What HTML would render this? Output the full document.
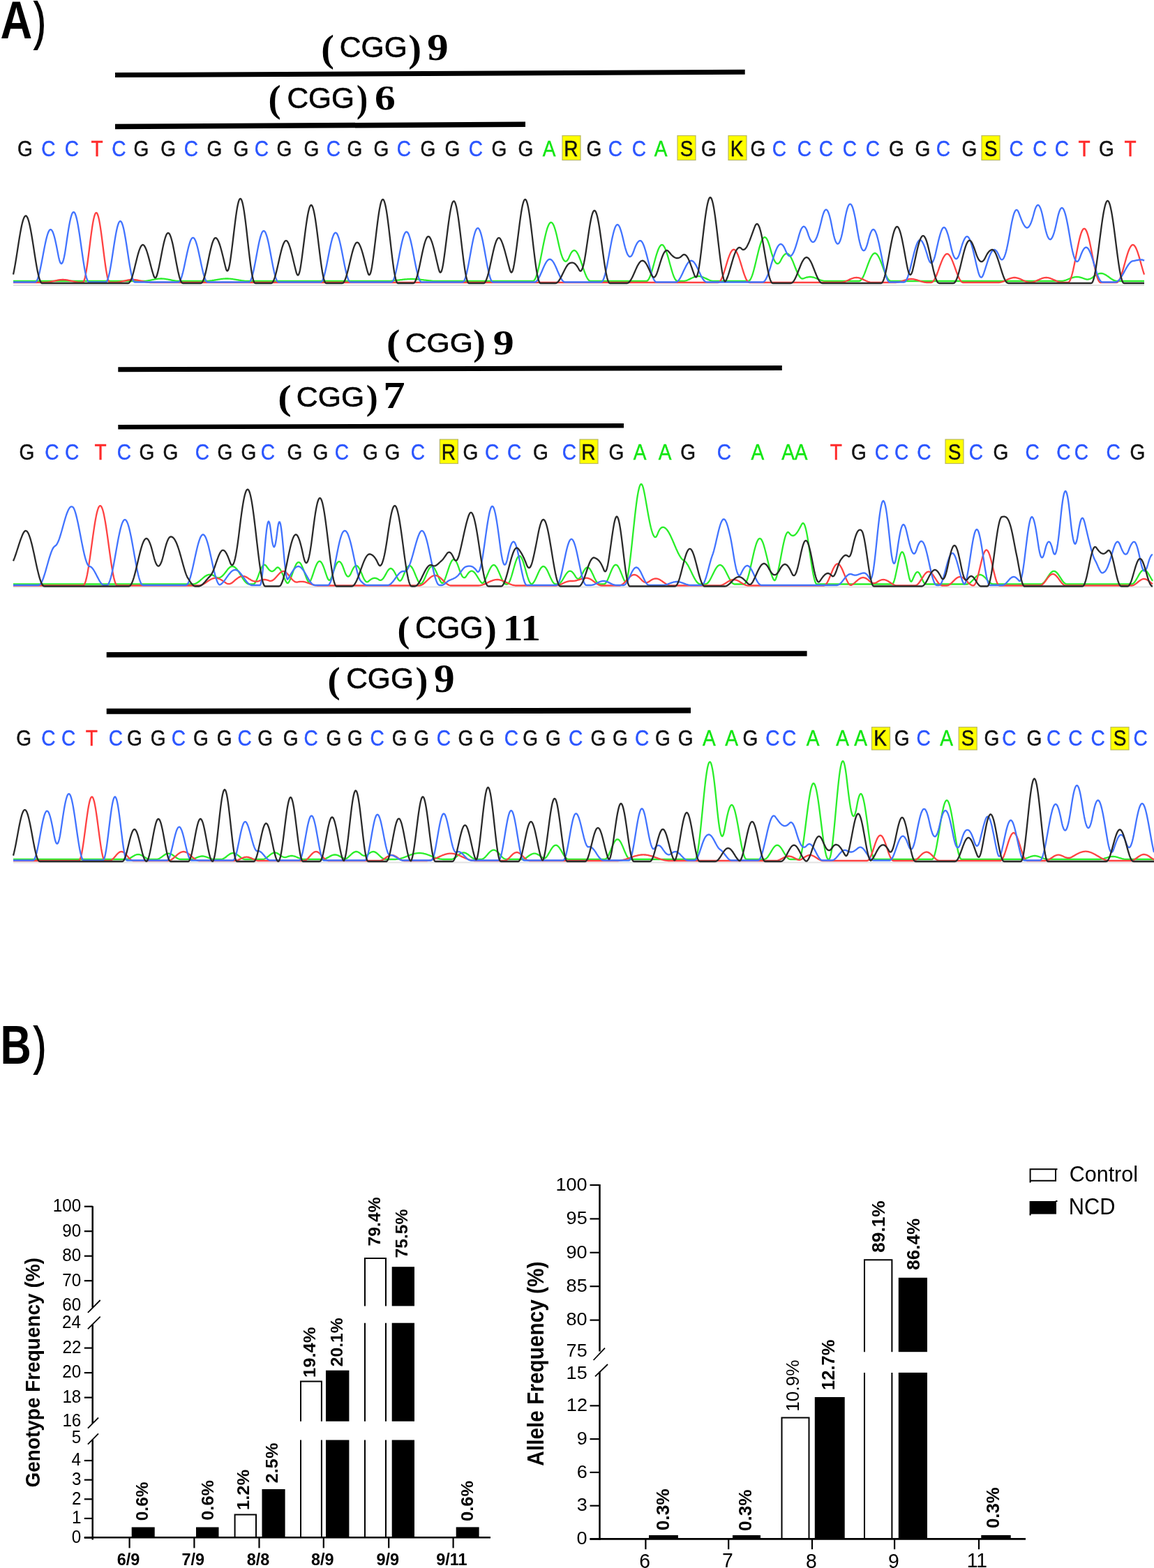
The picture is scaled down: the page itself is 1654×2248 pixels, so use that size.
<!DOCTYPE html><html><head><meta charset="utf-8"><title>Figure</title><style>html,body{margin:0;padding:0;background:#fff}svg{display:block}</style></head><body>
<svg width="1654" height="2248" viewBox="0 0 1654 2248">
<rect width="1654" height="2248" fill="#fff"/>
<text transform="translate(0.42,55.00) scale(0.8381,1)" font-family='"Liberation Sans", Arial, sans-serif' font-weight="bold" font-size="75.58" fill="#000">A</text>
<text transform="translate(48.71,55.67) scale(0.6722,1)" font-family='"Liberation Sans", Arial, sans-serif' font-weight="normal" font-size="74.06" fill="#000" stroke="#000" stroke-width="2">)</text>
<text transform="translate(0.50,1525.00) scale(0.7813,1)" font-family='"Liberation Sans", Arial, sans-serif' font-weight="bold" font-size="78.49" fill="#000">B</text>
<text transform="translate(48.50,1524.67) scale(0.7028,1)" font-family='"Liberation Sans", Arial, sans-serif' font-weight="normal" font-size="74.06" fill="#000" stroke="#000" stroke-width="2">)</text>
<text transform="translate(460.14,87.50) scale(1.0375,1)" font-family='"Liberation Serif", "Times New Roman", serif' font-weight="bold" font-size="54.04" fill="#000">(</text>
<text transform="translate(486.84,81.59) scale(1.0145,1)" font-family='"Liberation Sans", Arial, sans-serif' font-weight="normal" font-size="41.95" fill="#000" stroke="#000" stroke-width="0.6">CGG</text>
<text transform="translate(585.18,87.50) scale(1.0447,1)" font-family='"Liberation Serif", "Times New Roman", serif' font-weight="bold" font-size="54.04" fill="#000">)</text>
<text transform="translate(612.33,86.27) scale(1.1125,1)" font-family='"Liberation Serif", "Times New Roman", serif' font-weight="bold" font-size="54.77" fill="#000">9</text>
<text transform="translate(384.60,160.10) scale(1.0087,1)" font-family='"Liberation Serif", "Times New Roman", serif' font-weight="bold" font-size="54.04" fill="#000">(</text>
<text transform="translate(411.44,154.89) scale(1.0022,1)" font-family='"Liberation Sans", Arial, sans-serif' font-weight="normal" font-size="42.37" fill="#000" stroke="#000" stroke-width="0.6">CGG</text>
<text transform="translate(510.93,160.10) scale(0.9006,1)" font-family='"Liberation Serif", "Times New Roman", serif' font-weight="bold" font-size="54.04" fill="#000">)</text>
<text transform="translate(536.96,156.50) scale(1.1633,1)" font-family='"Liberation Serif", "Times New Roman", serif' font-weight="bold" font-size="51.20" fill="#000">6</text>
<text transform="translate(553.93,508.57) scale(1.0874,1)" font-family='"Liberation Serif", "Times New Roman", serif' font-weight="bold" font-size="53.71" fill="#000">(</text>
<text transform="translate(580.63,504.61) scale(1.0797,1)" font-family='"Liberation Sans", Arial, sans-serif' font-weight="normal" font-size="39.55" fill="#000" stroke="#000" stroke-width="0.6">CGG</text>
<text transform="translate(678.31,508.57) scale(0.9787,1)" font-family='"Liberation Serif", "Times New Roman", serif' font-weight="bold" font-size="53.71" fill="#000">)</text>
<text transform="translate(706.86,508.31) scale(1.1931,1)" font-family='"Liberation Serif", "Times New Roman", serif' font-weight="bold" font-size="50.31" fill="#000">9</text>
<text transform="translate(398.23,587.20) scale(1.1512,1)" font-family='"Liberation Serif", "Times New Roman", serif' font-weight="bold" font-size="50.73" fill="#000">(</text>
<text transform="translate(424.83,582.60) scale(1.0364,1)" font-family='"Liberation Sans", Arial, sans-serif' font-weight="normal" font-size="41.24" fill="#000" stroke="#000" stroke-width="0.6">CGG</text>
<text transform="translate(524.86,587.20) scale(1.0054,1)" font-family='"Liberation Serif", "Times New Roman", serif' font-weight="bold" font-size="50.73" fill="#000">)</text>
<text transform="translate(549.22,584.60) scale(1.1614,1)" font-family='"Liberation Serif", "Times New Roman", serif' font-weight="bold" font-size="53.91" fill="#000">7</text>
<text transform="translate(569.44,919.97) scale(1.0004,1)" font-family='"Liberation Serif", "Times New Roman", serif' font-weight="bold" font-size="53.71" fill="#000">(</text>
<text transform="translate(595.02,915.18) scale(0.9847,1)" font-family='"Liberation Sans", Arial, sans-serif' font-weight="normal" font-size="43.50" fill="#000" stroke="#000" stroke-width="0.6">CGG</text>
<text transform="translate(694.08,919.97) scale(0.9932,1)" font-family='"Liberation Serif", "Times New Roman", serif' font-weight="bold" font-size="53.71" fill="#000">)</text>
<text transform="translate(720.81,917.70) scale(1.0819,1)" font-family='"Liberation Serif", "Times New Roman", serif' font-weight="bold" font-size="53.02" fill="#000">11</text>
<text transform="translate(469.60,993.07) scale(1.0149,1)" font-family='"Liberation Serif", "Times New Roman", serif' font-weight="bold" font-size="53.71" fill="#000">(</text>
<text transform="translate(496.14,987.19) scale(1.0168,1)" font-family='"Liberation Sans", Arial, sans-serif' font-weight="normal" font-size="41.81" fill="#000" stroke="#000" stroke-width="0.6">CGG</text>
<text transform="translate(595.47,993.07) scale(1.0004,1)" font-family='"Liberation Serif", "Times New Roman", serif' font-weight="bold" font-size="53.71" fill="#000">)</text>
<text transform="translate(622.08,992.34) scale(1.0436,1)" font-family='"Liberation Serif", "Times New Roman", serif' font-weight="bold" font-size="56.86" fill="#000">9</text>
<polygon points="165,104.10 1067.7,99.70 1067.7,106.70 165,111.10" fill="#000"/>
<polygon points="165,177.75 753,174.55 753,182.05 165,185.25" fill="#000"/>
<polygon points="169.3,526.20 1120.8,523.90 1120.8,530.90 169.3,533.20" fill="#000"/>
<polygon points="169.3,609.05 894,606.95 894,613.45 169.3,615.55" fill="#000"/>
<polygon points="152.7,935.05 1156.6,933.25 1156.6,940.75 152.7,942.55" fill="#000"/>
<polygon points="152.7,1015.80 990,1014.60 990,1022.60 152.7,1023.80" fill="#000"/>
<text transform="translate(25.03,223.6) scale(0.92,1)" font-family='"Liberation Sans", Arial, sans-serif' font-size="30.5" fill="#111" stroke="#111" stroke-width="0.45">G</text>
<text transform="translate(59.19,223.6) scale(0.92,1)" font-family='"Liberation Sans", Arial, sans-serif' font-size="30.5" fill="#2a55ff" stroke="#2a55ff" stroke-width="0.45">C</text>
<text transform="translate(92.69,223.6) scale(0.92,1)" font-family='"Liberation Sans", Arial, sans-serif' font-size="30.5" fill="#2a55ff" stroke="#2a55ff" stroke-width="0.45">C</text>
<text transform="translate(130.44,223.6) scale(0.92,1)" font-family='"Liberation Sans", Arial, sans-serif' font-size="30.5" fill="#ff2a2a" stroke="#ff2a2a" stroke-width="0.45">T</text>
<text transform="translate(160.19,223.6) scale(0.92,1)" font-family='"Liberation Sans", Arial, sans-serif' font-size="30.5" fill="#2a55ff" stroke="#2a55ff" stroke-width="0.45">C</text>
<text transform="translate(191.43,223.6) scale(0.92,1)" font-family='"Liberation Sans", Arial, sans-serif' font-size="30.5" fill="#111" stroke="#111" stroke-width="0.45">G</text>
<text transform="translate(230.13,223.6) scale(0.92,1)" font-family='"Liberation Sans", Arial, sans-serif' font-size="30.5" fill="#111" stroke="#111" stroke-width="0.45">G</text>
<text transform="translate(263.69,223.6) scale(0.92,1)" font-family='"Liberation Sans", Arial, sans-serif' font-size="30.5" fill="#2a55ff" stroke="#2a55ff" stroke-width="0.45">C</text>
<text transform="translate(296.43,223.6) scale(0.92,1)" font-family='"Liberation Sans", Arial, sans-serif' font-size="30.5" fill="#111" stroke="#111" stroke-width="0.45">G</text>
<text transform="translate(334.43,223.6) scale(0.92,1)" font-family='"Liberation Sans", Arial, sans-serif' font-size="30.5" fill="#111" stroke="#111" stroke-width="0.45">G</text>
<text transform="translate(364.69,223.6) scale(0.92,1)" font-family='"Liberation Sans", Arial, sans-serif' font-size="30.5" fill="#2a55ff" stroke="#2a55ff" stroke-width="0.45">C</text>
<text transform="translate(396.43,223.6) scale(0.92,1)" font-family='"Liberation Sans", Arial, sans-serif' font-size="30.5" fill="#111" stroke="#111" stroke-width="0.45">G</text>
<text transform="translate(435.43,223.6) scale(0.92,1)" font-family='"Liberation Sans", Arial, sans-serif' font-size="30.5" fill="#111" stroke="#111" stroke-width="0.45">G</text>
<text transform="translate(467.69,223.6) scale(0.92,1)" font-family='"Liberation Sans", Arial, sans-serif' font-size="30.5" fill="#2a55ff" stroke="#2a55ff" stroke-width="0.45">C</text>
<text transform="translate(497.43,223.6) scale(0.92,1)" font-family='"Liberation Sans", Arial, sans-serif' font-size="30.5" fill="#111" stroke="#111" stroke-width="0.45">G</text>
<text transform="translate(535.43,223.6) scale(0.92,1)" font-family='"Liberation Sans", Arial, sans-serif' font-size="30.5" fill="#111" stroke="#111" stroke-width="0.45">G</text>
<text transform="translate(568.69,223.6) scale(0.92,1)" font-family='"Liberation Sans", Arial, sans-serif' font-size="30.5" fill="#2a55ff" stroke="#2a55ff" stroke-width="0.45">C</text>
<text transform="translate(602.43,223.6) scale(0.92,1)" font-family='"Liberation Sans", Arial, sans-serif' font-size="30.5" fill="#111" stroke="#111" stroke-width="0.45">G</text>
<text transform="translate(637.43,223.6) scale(0.92,1)" font-family='"Liberation Sans", Arial, sans-serif' font-size="30.5" fill="#111" stroke="#111" stroke-width="0.45">G</text>
<text transform="translate(671.69,223.6) scale(0.92,1)" font-family='"Liberation Sans", Arial, sans-serif' font-size="30.5" fill="#2a55ff" stroke="#2a55ff" stroke-width="0.45">C</text>
<text transform="translate(704.43,223.6) scale(0.92,1)" font-family='"Liberation Sans", Arial, sans-serif' font-size="30.5" fill="#111" stroke="#111" stroke-width="0.45">G</text>
<text transform="translate(742.43,223.6) scale(0.92,1)" font-family='"Liberation Sans", Arial, sans-serif' font-size="30.5" fill="#111" stroke="#111" stroke-width="0.45">G</text>
<text transform="translate(777.64,223.6) scale(0.92,1)" font-family='"Liberation Sans", Arial, sans-serif' font-size="30.5" fill="#12e612" stroke="#12e612" stroke-width="0.45">A</text>
<rect x="806.0" y="194.5" width="26" height="35.0" fill="#ffff00" stroke="#b8b860" stroke-width="1.2"/>
<text transform="translate(808.37,223.6) scale(0.92,1)" font-family='"Liberation Sans", Arial, sans-serif' font-size="30.5" fill="#111" stroke="#111" stroke-width="0.45">R</text>
<text transform="translate(840.43,223.6) scale(0.92,1)" font-family='"Liberation Sans", Arial, sans-serif' font-size="30.5" fill="#111" stroke="#111" stroke-width="0.45">G</text>
<text transform="translate(871.69,223.6) scale(0.92,1)" font-family='"Liberation Sans", Arial, sans-serif' font-size="30.5" fill="#2a55ff" stroke="#2a55ff" stroke-width="0.45">C</text>
<text transform="translate(905.69,223.6) scale(0.92,1)" font-family='"Liberation Sans", Arial, sans-serif' font-size="30.5" fill="#2a55ff" stroke="#2a55ff" stroke-width="0.45">C</text>
<text transform="translate(937.64,223.6) scale(0.92,1)" font-family='"Liberation Sans", Arial, sans-serif' font-size="30.5" fill="#12e612" stroke="#12e612" stroke-width="0.45">A</text>
<rect x="971.0" y="194.5" width="26" height="35.0" fill="#ffff00" stroke="#b8b860" stroke-width="1.2"/>
<text transform="translate(974.65,223.6) scale(0.92,1)" font-family='"Liberation Sans", Arial, sans-serif' font-size="30.5" fill="#111" stroke="#111" stroke-width="0.45">S</text>
<text transform="translate(1005.03,223.6) scale(0.92,1)" font-family='"Liberation Sans", Arial, sans-serif' font-size="30.5" fill="#111" stroke="#111" stroke-width="0.45">G</text>
<rect x="1044.0" y="194.5" width="26" height="35.0" fill="#ffff00" stroke="#b8b860" stroke-width="1.2"/>
<text transform="translate(1046.65,223.6) scale(0.92,1)" font-family='"Liberation Sans", Arial, sans-serif' font-size="30.5" fill="#111" stroke="#111" stroke-width="0.45">K</text>
<text transform="translate(1075.43,223.6) scale(0.92,1)" font-family='"Liberation Sans", Arial, sans-serif' font-size="30.5" fill="#111" stroke="#111" stroke-width="0.45">G</text>
<text transform="translate(1106.69,223.6) scale(0.92,1)" font-family='"Liberation Sans", Arial, sans-serif' font-size="30.5" fill="#2a55ff" stroke="#2a55ff" stroke-width="0.45">C</text>
<text transform="translate(1142.69,223.6) scale(0.92,1)" font-family='"Liberation Sans", Arial, sans-serif' font-size="30.5" fill="#2a55ff" stroke="#2a55ff" stroke-width="0.45">C</text>
<text transform="translate(1173.69,223.6) scale(0.92,1)" font-family='"Liberation Sans", Arial, sans-serif' font-size="30.5" fill="#2a55ff" stroke="#2a55ff" stroke-width="0.45">C</text>
<text transform="translate(1207.69,223.6) scale(0.92,1)" font-family='"Liberation Sans", Arial, sans-serif' font-size="30.5" fill="#2a55ff" stroke="#2a55ff" stroke-width="0.45">C</text>
<text transform="translate(1240.69,223.6) scale(0.92,1)" font-family='"Liberation Sans", Arial, sans-serif' font-size="30.5" fill="#2a55ff" stroke="#2a55ff" stroke-width="0.45">C</text>
<text transform="translate(1273.93,223.6) scale(0.92,1)" font-family='"Liberation Sans", Arial, sans-serif' font-size="30.5" fill="#111" stroke="#111" stroke-width="0.45">G</text>
<text transform="translate(1311.43,223.6) scale(0.92,1)" font-family='"Liberation Sans", Arial, sans-serif' font-size="30.5" fill="#111" stroke="#111" stroke-width="0.45">G</text>
<text transform="translate(1341.69,223.6) scale(0.92,1)" font-family='"Liberation Sans", Arial, sans-serif' font-size="30.5" fill="#2a55ff" stroke="#2a55ff" stroke-width="0.45">C</text>
<text transform="translate(1378.43,223.6) scale(0.92,1)" font-family='"Liberation Sans", Arial, sans-serif' font-size="30.5" fill="#111" stroke="#111" stroke-width="0.45">G</text>
<rect x="1407.0" y="194.5" width="26" height="35.0" fill="#ffff00" stroke="#b8b860" stroke-width="1.2"/>
<text transform="translate(1410.65,223.6) scale(0.92,1)" font-family='"Liberation Sans", Arial, sans-serif' font-size="30.5" fill="#111" stroke="#111" stroke-width="0.45">S</text>
<text transform="translate(1446.39,223.6) scale(0.92,1)" font-family='"Liberation Sans", Arial, sans-serif' font-size="30.5" fill="#2a55ff" stroke="#2a55ff" stroke-width="0.45">C</text>
<text transform="translate(1480.29,223.6) scale(0.92,1)" font-family='"Liberation Sans", Arial, sans-serif' font-size="30.5" fill="#2a55ff" stroke="#2a55ff" stroke-width="0.45">C</text>
<text transform="translate(1511.69,223.6) scale(0.92,1)" font-family='"Liberation Sans", Arial, sans-serif' font-size="30.5" fill="#2a55ff" stroke="#2a55ff" stroke-width="0.45">C</text>
<text transform="translate(1545.44,223.6) scale(0.92,1)" font-family='"Liberation Sans", Arial, sans-serif' font-size="30.5" fill="#ff2a2a" stroke="#ff2a2a" stroke-width="0.45">T</text>
<text transform="translate(1574.93,223.6) scale(0.92,1)" font-family='"Liberation Sans", Arial, sans-serif' font-size="30.5" fill="#111" stroke="#111" stroke-width="0.45">G</text>
<text transform="translate(1611.44,223.6) scale(0.92,1)" font-family='"Liberation Sans", Arial, sans-serif' font-size="30.5" fill="#ff2a2a" stroke="#ff2a2a" stroke-width="0.45">T</text>
<text transform="translate(27.43,658.6) scale(0.92,1)" font-family='"Liberation Sans", Arial, sans-serif' font-size="30.5" fill="#111" stroke="#111" stroke-width="0.45">G</text>
<text transform="translate(64.29,658.6) scale(0.92,1)" font-family='"Liberation Sans", Arial, sans-serif' font-size="30.5" fill="#2a55ff" stroke="#2a55ff" stroke-width="0.45">C</text>
<text transform="translate(93.09,658.6) scale(0.92,1)" font-family='"Liberation Sans", Arial, sans-serif' font-size="30.5" fill="#2a55ff" stroke="#2a55ff" stroke-width="0.45">C</text>
<text transform="translate(135.44,658.6) scale(0.92,1)" font-family='"Liberation Sans", Arial, sans-serif' font-size="30.5" fill="#ff2a2a" stroke="#ff2a2a" stroke-width="0.45">T</text>
<text transform="translate(167.69,658.6) scale(0.92,1)" font-family='"Liberation Sans", Arial, sans-serif' font-size="30.5" fill="#2a55ff" stroke="#2a55ff" stroke-width="0.45">C</text>
<text transform="translate(199.43,658.6) scale(0.92,1)" font-family='"Liberation Sans", Arial, sans-serif' font-size="30.5" fill="#111" stroke="#111" stroke-width="0.45">G</text>
<text transform="translate(233.43,658.6) scale(0.92,1)" font-family='"Liberation Sans", Arial, sans-serif' font-size="30.5" fill="#111" stroke="#111" stroke-width="0.45">G</text>
<text transform="translate(279.69,658.6) scale(0.92,1)" font-family='"Liberation Sans", Arial, sans-serif' font-size="30.5" fill="#2a55ff" stroke="#2a55ff" stroke-width="0.45">C</text>
<text transform="translate(311.43,658.6) scale(0.92,1)" font-family='"Liberation Sans", Arial, sans-serif' font-size="30.5" fill="#111" stroke="#111" stroke-width="0.45">G</text>
<text transform="translate(345.43,658.6) scale(0.92,1)" font-family='"Liberation Sans", Arial, sans-serif' font-size="30.5" fill="#111" stroke="#111" stroke-width="0.45">G</text>
<text transform="translate(373.69,658.6) scale(0.92,1)" font-family='"Liberation Sans", Arial, sans-serif' font-size="30.5" fill="#2a55ff" stroke="#2a55ff" stroke-width="0.45">C</text>
<text transform="translate(411.43,658.6) scale(0.92,1)" font-family='"Liberation Sans", Arial, sans-serif' font-size="30.5" fill="#111" stroke="#111" stroke-width="0.45">G</text>
<text transform="translate(448.43,658.6) scale(0.92,1)" font-family='"Liberation Sans", Arial, sans-serif' font-size="30.5" fill="#111" stroke="#111" stroke-width="0.45">G</text>
<text transform="translate(479.69,658.6) scale(0.92,1)" font-family='"Liberation Sans", Arial, sans-serif' font-size="30.5" fill="#2a55ff" stroke="#2a55ff" stroke-width="0.45">C</text>
<text transform="translate(519.93,658.6) scale(0.92,1)" font-family='"Liberation Sans", Arial, sans-serif' font-size="30.5" fill="#111" stroke="#111" stroke-width="0.45">G</text>
<text transform="translate(551.43,658.6) scale(0.92,1)" font-family='"Liberation Sans", Arial, sans-serif' font-size="30.5" fill="#111" stroke="#111" stroke-width="0.45">G</text>
<text transform="translate(588.69,658.6) scale(0.92,1)" font-family='"Liberation Sans", Arial, sans-serif' font-size="30.5" fill="#2a55ff" stroke="#2a55ff" stroke-width="0.45">C</text>
<rect x="630.4" y="630" width="26" height="34.5" fill="#ffff00" stroke="#b8b860" stroke-width="1.2"/>
<text transform="translate(632.77,658.6) scale(0.92,1)" font-family='"Liberation Sans", Arial, sans-serif' font-size="30.5" fill="#111" stroke="#111" stroke-width="0.45">R</text>
<text transform="translate(663.43,658.6) scale(0.92,1)" font-family='"Liberation Sans", Arial, sans-serif' font-size="30.5" fill="#111" stroke="#111" stroke-width="0.45">G</text>
<text transform="translate(695.09,658.6) scale(0.92,1)" font-family='"Liberation Sans", Arial, sans-serif' font-size="30.5" fill="#2a55ff" stroke="#2a55ff" stroke-width="0.45">C</text>
<text transform="translate(726.99,658.6) scale(0.92,1)" font-family='"Liberation Sans", Arial, sans-serif' font-size="30.5" fill="#2a55ff" stroke="#2a55ff" stroke-width="0.45">C</text>
<text transform="translate(764.03,658.6) scale(0.92,1)" font-family='"Liberation Sans", Arial, sans-serif' font-size="30.5" fill="#111" stroke="#111" stroke-width="0.45">G</text>
<text transform="translate(805.69,658.6) scale(0.92,1)" font-family='"Liberation Sans", Arial, sans-serif' font-size="30.5" fill="#2a55ff" stroke="#2a55ff" stroke-width="0.45">C</text>
<rect x="831.0" y="630" width="26" height="34.5" fill="#ffff00" stroke="#b8b860" stroke-width="1.2"/>
<text transform="translate(833.37,658.6) scale(0.92,1)" font-family='"Liberation Sans", Arial, sans-serif' font-size="30.5" fill="#111" stroke="#111" stroke-width="0.45">R</text>
<text transform="translate(872.43,658.6) scale(0.92,1)" font-family='"Liberation Sans", Arial, sans-serif' font-size="30.5" fill="#111" stroke="#111" stroke-width="0.45">G</text>
<text transform="translate(907.64,658.6) scale(0.92,1)" font-family='"Liberation Sans", Arial, sans-serif' font-size="30.5" fill="#12e612" stroke="#12e612" stroke-width="0.45">A</text>
<text transform="translate(943.64,658.6) scale(0.92,1)" font-family='"Liberation Sans", Arial, sans-serif' font-size="30.5" fill="#12e612" stroke="#12e612" stroke-width="0.45">A</text>
<text transform="translate(975.23,658.6) scale(0.92,1)" font-family='"Liberation Sans", Arial, sans-serif' font-size="30.5" fill="#111" stroke="#111" stroke-width="0.45">G</text>
<text transform="translate(1027.69,658.6) scale(0.92,1)" font-family='"Liberation Sans", Arial, sans-serif' font-size="30.5" fill="#2a55ff" stroke="#2a55ff" stroke-width="0.45">C</text>
<text transform="translate(1076.44,658.6) scale(0.92,1)" font-family='"Liberation Sans", Arial, sans-serif' font-size="30.5" fill="#12e612" stroke="#12e612" stroke-width="0.45">A</text>
<text transform="translate(1120.24,658.6) scale(0.92,1)" font-family='"Liberation Sans", Arial, sans-serif' font-size="30.5" fill="#12e612" stroke="#12e612" stroke-width="0.45">A</text>
<text transform="translate(1138.64,658.6) scale(0.92,1)" font-family='"Liberation Sans", Arial, sans-serif' font-size="30.5" fill="#12e612" stroke="#12e612" stroke-width="0.45">A</text>
<text transform="translate(1189.84,658.6) scale(0.92,1)" font-family='"Liberation Sans", Arial, sans-serif' font-size="30.5" fill="#ff2a2a" stroke="#ff2a2a" stroke-width="0.45">T</text>
<text transform="translate(1220.03,658.6) scale(0.92,1)" font-family='"Liberation Sans", Arial, sans-serif' font-size="30.5" fill="#111" stroke="#111" stroke-width="0.45">G</text>
<text transform="translate(1253.69,658.6) scale(0.92,1)" font-family='"Liberation Sans", Arial, sans-serif' font-size="30.5" fill="#2a55ff" stroke="#2a55ff" stroke-width="0.45">C</text>
<text transform="translate(1281.99,658.6) scale(0.92,1)" font-family='"Liberation Sans", Arial, sans-serif' font-size="30.5" fill="#2a55ff" stroke="#2a55ff" stroke-width="0.45">C</text>
<text transform="translate(1314.19,658.6) scale(0.92,1)" font-family='"Liberation Sans", Arial, sans-serif' font-size="30.5" fill="#2a55ff" stroke="#2a55ff" stroke-width="0.45">C</text>
<rect x="1355.0" y="630" width="26" height="34.5" fill="#ffff00" stroke="#b8b860" stroke-width="1.2"/>
<text transform="translate(1358.65,658.6) scale(0.92,1)" font-family='"Liberation Sans", Arial, sans-serif' font-size="30.5" fill="#111" stroke="#111" stroke-width="0.45">S</text>
<text transform="translate(1388.69,658.6) scale(0.92,1)" font-family='"Liberation Sans", Arial, sans-serif' font-size="30.5" fill="#2a55ff" stroke="#2a55ff" stroke-width="0.45">C</text>
<text transform="translate(1423.43,658.6) scale(0.92,1)" font-family='"Liberation Sans", Arial, sans-serif' font-size="30.5" fill="#111" stroke="#111" stroke-width="0.45">G</text>
<text transform="translate(1469.49,658.6) scale(0.92,1)" font-family='"Liberation Sans", Arial, sans-serif' font-size="30.5" fill="#2a55ff" stroke="#2a55ff" stroke-width="0.45">C</text>
<text transform="translate(1514.19,658.6) scale(0.92,1)" font-family='"Liberation Sans", Arial, sans-serif' font-size="30.5" fill="#2a55ff" stroke="#2a55ff" stroke-width="0.45">C</text>
<text transform="translate(1539.69,658.6) scale(0.92,1)" font-family='"Liberation Sans", Arial, sans-serif' font-size="30.5" fill="#2a55ff" stroke="#2a55ff" stroke-width="0.45">C</text>
<text transform="translate(1585.39,658.6) scale(0.92,1)" font-family='"Liberation Sans", Arial, sans-serif' font-size="30.5" fill="#2a55ff" stroke="#2a55ff" stroke-width="0.45">C</text>
<text transform="translate(1619.43,658.6) scale(0.92,1)" font-family='"Liberation Sans", Arial, sans-serif' font-size="30.5" fill="#111" stroke="#111" stroke-width="0.45">G</text>
<text transform="translate(23.33,1069.4) scale(0.92,1)" font-family='"Liberation Sans", Arial, sans-serif' font-size="30.5" fill="#111" stroke="#111" stroke-width="0.45">G</text>
<text transform="translate(59.19,1069.4) scale(0.92,1)" font-family='"Liberation Sans", Arial, sans-serif' font-size="30.5" fill="#2a55ff" stroke="#2a55ff" stroke-width="0.45">C</text>
<text transform="translate(87.99,1069.4) scale(0.92,1)" font-family='"Liberation Sans", Arial, sans-serif' font-size="30.5" fill="#2a55ff" stroke="#2a55ff" stroke-width="0.45">C</text>
<text transform="translate(122.64,1069.4) scale(0.92,1)" font-family='"Liberation Sans", Arial, sans-serif' font-size="30.5" fill="#ff2a2a" stroke="#ff2a2a" stroke-width="0.45">T</text>
<text transform="translate(155.69,1069.4) scale(0.92,1)" font-family='"Liberation Sans", Arial, sans-serif' font-size="30.5" fill="#2a55ff" stroke="#2a55ff" stroke-width="0.45">C</text>
<text transform="translate(181.93,1069.4) scale(0.92,1)" font-family='"Liberation Sans", Arial, sans-serif' font-size="30.5" fill="#111" stroke="#111" stroke-width="0.45">G</text>
<text transform="translate(215.83,1069.4) scale(0.92,1)" font-family='"Liberation Sans", Arial, sans-serif' font-size="30.5" fill="#111" stroke="#111" stroke-width="0.45">G</text>
<text transform="translate(245.69,1069.4) scale(0.92,1)" font-family='"Liberation Sans", Arial, sans-serif' font-size="30.5" fill="#2a55ff" stroke="#2a55ff" stroke-width="0.45">C</text>
<text transform="translate(276.93,1069.4) scale(0.92,1)" font-family='"Liberation Sans", Arial, sans-serif' font-size="30.5" fill="#111" stroke="#111" stroke-width="0.45">G</text>
<text transform="translate(310.83,1069.4) scale(0.92,1)" font-family='"Liberation Sans", Arial, sans-serif' font-size="30.5" fill="#111" stroke="#111" stroke-width="0.45">G</text>
<text transform="translate(340.49,1069.4) scale(0.92,1)" font-family='"Liberation Sans", Arial, sans-serif' font-size="30.5" fill="#2a55ff" stroke="#2a55ff" stroke-width="0.45">C</text>
<text transform="translate(369.13,1069.4) scale(0.92,1)" font-family='"Liberation Sans", Arial, sans-serif' font-size="30.5" fill="#111" stroke="#111" stroke-width="0.45">G</text>
<text transform="translate(405.73,1069.4) scale(0.92,1)" font-family='"Liberation Sans", Arial, sans-serif' font-size="30.5" fill="#111" stroke="#111" stroke-width="0.45">G</text>
<text transform="translate(435.49,1069.4) scale(0.92,1)" font-family='"Liberation Sans", Arial, sans-serif' font-size="30.5" fill="#2a55ff" stroke="#2a55ff" stroke-width="0.45">C</text>
<text transform="translate(467.43,1069.4) scale(0.92,1)" font-family='"Liberation Sans", Arial, sans-serif' font-size="30.5" fill="#111" stroke="#111" stroke-width="0.45">G</text>
<text transform="translate(497.93,1069.4) scale(0.92,1)" font-family='"Liberation Sans", Arial, sans-serif' font-size="30.5" fill="#111" stroke="#111" stroke-width="0.45">G</text>
<text transform="translate(530.39,1069.4) scale(0.92,1)" font-family='"Liberation Sans", Arial, sans-serif' font-size="30.5" fill="#2a55ff" stroke="#2a55ff" stroke-width="0.45">C</text>
<text transform="translate(561.63,1069.4) scale(0.92,1)" font-family='"Liberation Sans", Arial, sans-serif' font-size="30.5" fill="#111" stroke="#111" stroke-width="0.45">G</text>
<text transform="translate(593.13,1069.4) scale(0.92,1)" font-family='"Liberation Sans", Arial, sans-serif' font-size="30.5" fill="#111" stroke="#111" stroke-width="0.45">G</text>
<text transform="translate(625.69,1069.4) scale(0.92,1)" font-family='"Liberation Sans", Arial, sans-serif' font-size="30.5" fill="#2a55ff" stroke="#2a55ff" stroke-width="0.45">C</text>
<text transform="translate(656.43,1069.4) scale(0.92,1)" font-family='"Liberation Sans", Arial, sans-serif' font-size="30.5" fill="#111" stroke="#111" stroke-width="0.45">G</text>
<text transform="translate(687.03,1069.4) scale(0.92,1)" font-family='"Liberation Sans", Arial, sans-serif' font-size="30.5" fill="#111" stroke="#111" stroke-width="0.45">G</text>
<text transform="translate(722.69,1069.4) scale(0.92,1)" font-family='"Liberation Sans", Arial, sans-serif' font-size="30.5" fill="#2a55ff" stroke="#2a55ff" stroke-width="0.45">C</text>
<text transform="translate(749.13,1069.4) scale(0.92,1)" font-family='"Liberation Sans", Arial, sans-serif' font-size="30.5" fill="#111" stroke="#111" stroke-width="0.45">G</text>
<text transform="translate(781.93,1069.4) scale(0.92,1)" font-family='"Liberation Sans", Arial, sans-serif' font-size="30.5" fill="#111" stroke="#111" stroke-width="0.45">G</text>
<text transform="translate(815.09,1069.4) scale(0.92,1)" font-family='"Liberation Sans", Arial, sans-serif' font-size="30.5" fill="#2a55ff" stroke="#2a55ff" stroke-width="0.45">C</text>
<text transform="translate(846.43,1069.4) scale(0.92,1)" font-family='"Liberation Sans", Arial, sans-serif' font-size="30.5" fill="#111" stroke="#111" stroke-width="0.45">G</text>
<text transform="translate(877.93,1069.4) scale(0.92,1)" font-family='"Liberation Sans", Arial, sans-serif' font-size="30.5" fill="#111" stroke="#111" stroke-width="0.45">G</text>
<text transform="translate(909.99,1069.4) scale(0.92,1)" font-family='"Liberation Sans", Arial, sans-serif' font-size="30.5" fill="#2a55ff" stroke="#2a55ff" stroke-width="0.45">C</text>
<text transform="translate(938.93,1069.4) scale(0.92,1)" font-family='"Liberation Sans", Arial, sans-serif' font-size="30.5" fill="#111" stroke="#111" stroke-width="0.45">G</text>
<text transform="translate(971.83,1069.4) scale(0.92,1)" font-family='"Liberation Sans", Arial, sans-serif' font-size="30.5" fill="#111" stroke="#111" stroke-width="0.45">G</text>
<text transform="translate(1006.94,1069.4) scale(0.92,1)" font-family='"Liberation Sans", Arial, sans-serif' font-size="30.5" fill="#12e612" stroke="#12e612" stroke-width="0.45">A</text>
<text transform="translate(1039.14,1069.4) scale(0.92,1)" font-family='"Liberation Sans", Arial, sans-serif' font-size="30.5" fill="#12e612" stroke="#12e612" stroke-width="0.45">A</text>
<text transform="translate(1064.43,1069.4) scale(0.92,1)" font-family='"Liberation Sans", Arial, sans-serif' font-size="30.5" fill="#111" stroke="#111" stroke-width="0.45">G</text>
<text transform="translate(1097.29,1069.4) scale(0.92,1)" font-family='"Liberation Sans", Arial, sans-serif' font-size="30.5" fill="#2a55ff" stroke="#2a55ff" stroke-width="0.45">C</text>
<text transform="translate(1120.99,1069.4) scale(0.92,1)" font-family='"Liberation Sans", Arial, sans-serif' font-size="30.5" fill="#2a55ff" stroke="#2a55ff" stroke-width="0.45">C</text>
<text transform="translate(1155.64,1069.4) scale(0.92,1)" font-family='"Liberation Sans", Arial, sans-serif' font-size="30.5" fill="#12e612" stroke="#12e612" stroke-width="0.45">A</text>
<text transform="translate(1198.24,1069.4) scale(0.92,1)" font-family='"Liberation Sans", Arial, sans-serif' font-size="30.5" fill="#12e612" stroke="#12e612" stroke-width="0.45">A</text>
<text transform="translate(1224.34,1069.4) scale(0.92,1)" font-family='"Liberation Sans", Arial, sans-serif' font-size="30.5" fill="#12e612" stroke="#12e612" stroke-width="0.45">A</text>
<rect x="1249.5" y="1042.5" width="26" height="32.5" fill="#ffff00" stroke="#b8b860" stroke-width="1.2"/>
<text transform="translate(1252.15,1069.4) scale(0.92,1)" font-family='"Liberation Sans", Arial, sans-serif' font-size="30.5" fill="#111" stroke="#111" stroke-width="0.45">K</text>
<text transform="translate(1281.73,1069.4) scale(0.92,1)" font-family='"Liberation Sans", Arial, sans-serif' font-size="30.5" fill="#111" stroke="#111" stroke-width="0.45">G</text>
<text transform="translate(1313.49,1069.4) scale(0.92,1)" font-family='"Liberation Sans", Arial, sans-serif' font-size="30.5" fill="#2a55ff" stroke="#2a55ff" stroke-width="0.45">C</text>
<text transform="translate(1347.34,1069.4) scale(0.92,1)" font-family='"Liberation Sans", Arial, sans-serif' font-size="30.5" fill="#12e612" stroke="#12e612" stroke-width="0.45">A</text>
<rect x="1374.2" y="1042.5" width="26" height="32.5" fill="#ffff00" stroke="#b8b860" stroke-width="1.2"/>
<text transform="translate(1377.85,1069.4) scale(0.92,1)" font-family='"Liberation Sans", Arial, sans-serif' font-size="30.5" fill="#111" stroke="#111" stroke-width="0.45">S</text>
<text transform="translate(1410.43,1069.4) scale(0.92,1)" font-family='"Liberation Sans", Arial, sans-serif' font-size="30.5" fill="#111" stroke="#111" stroke-width="0.45">G</text>
<text transform="translate(1436.19,1069.4) scale(0.92,1)" font-family='"Liberation Sans", Arial, sans-serif' font-size="30.5" fill="#2a55ff" stroke="#2a55ff" stroke-width="0.45">C</text>
<text transform="translate(1471.43,1069.4) scale(0.92,1)" font-family='"Liberation Sans", Arial, sans-serif' font-size="30.5" fill="#111" stroke="#111" stroke-width="0.45">G</text>
<text transform="translate(1499.99,1069.4) scale(0.92,1)" font-family='"Liberation Sans", Arial, sans-serif' font-size="30.5" fill="#2a55ff" stroke="#2a55ff" stroke-width="0.45">C</text>
<text transform="translate(1531.19,1069.4) scale(0.92,1)" font-family='"Liberation Sans", Arial, sans-serif' font-size="30.5" fill="#2a55ff" stroke="#2a55ff" stroke-width="0.45">C</text>
<text transform="translate(1563.39,1069.4) scale(0.92,1)" font-family='"Liberation Sans", Arial, sans-serif' font-size="30.5" fill="#2a55ff" stroke="#2a55ff" stroke-width="0.45">C</text>
<rect x="1592.0" y="1042.5" width="26" height="32.5" fill="#ffff00" stroke="#b8b860" stroke-width="1.2"/>
<text transform="translate(1595.65,1069.4) scale(0.92,1)" font-family='"Liberation Sans", Arial, sans-serif' font-size="30.5" fill="#111" stroke="#111" stroke-width="0.45">S</text>
<text transform="translate(1624.39,1069.4) scale(0.92,1)" font-family='"Liberation Sans", Arial, sans-serif' font-size="30.5" fill="#2a55ff" stroke="#2a55ff" stroke-width="0.45">C</text>
<line x1="19" y1="409" x2="1640" y2="409" stroke="#e2e2e2" stroke-width="2"/>
<path d="M19,403.0v0l1,0l1,0l1,0l1,0l1,0l1,0l1,0l1,0l1,0l1,0l1,0l1,0l1,0l1,0l1,0l1,0l1,0l1,0l1,0l1,0l1,0l1,0l1,0l1,0l1,0l1,0l1,0l1,0l1,0l1,0l1,0l1,0l1,0l1,0l1,0l1,0l1,0l1,0l1,0l1,0l1,0l1,0l1,0l1,0l1,0l1,0l1,0l1,0l1,0l1,0l1,0l1,0l1,0l1,0l1,0l1,0l1,0l1,0l1,0l1,0l1,0l1,0l1,0l1,0l1,0l1,0l1,0l1,0l1,0l1,0l1,0l1,0l1,0l1,0l1,0l1,0l1,0l1,0l1,0l1,0l1,0l1,0l1,0l1,0l1,0l1,0l1,0l1,0l1,0l1,0l1,0l1,0l1,0l1,0l1,0l1,0l1,0l1,0l1,0l1,0l1,0l1,0l1,0l1,0l1,0l1,0l1,0l1,0l1,0l1,0l1,0l1,0l1,0l1,0l1,0l1,0l1,0l1,0l1,0l1,0l1,0l1,0l1,0l1,0l1,0l1,0l1,0l1,0l1,0l1,0l1,0l1,0l1,0l1,0l1,0l1,0l1,0l1,0l1,0l1,0l1,0l1,0l1,0l1,0l1,0l1,0l1,0l1,0l1,0l1,0l1,0l1,0l1,0l1,0l1,0l1,0l1,0l1,0l1,0l1,0l1,0l1,0l1,0l1,0l1,0l1,0l1,0l1,0l1,0l1,0l1,0l1,0l1,0l1,0l1,0l1,0l1,0l1,0l1,0l1,0l1,0l1,0l1,0l1,0l1,0l1,0l1,0l1,-0.1l1,0l1,-0.1l1,-0.1l1,-0.1l1,-0.2l1,-0.2l1,-0.1l1,-0.2l1,-0.2l1,-0.2l1,-0.3l1,-0.2l1,-0.2l1,-0.2l1,-0.2l1,-0.1l1,-0.2l1,-0.2l1,-0.1l1,-0.1l1,-0.1l1,0l1,-0.1l1,0l1,0l1,0.1l1,0l1,0.1l1,0.1l1,0.1l1,0.2l1,0.2l1,0.1l1,0.2l1,0.2l1,0.2l1,0.2l1,0.3l1,0.2l1,0.2l1,0.2l1,0.1l1,0.2l1,0.2l1,0.1l1,0.1l1,0.1l1,0l1,0.1l1,0l1,0l1,0l1,0l1,0l1,0l1,0l1,0l1,0l1,0l1,0l1,0l1,0l1,0l1,0l1,0l1,0l1,0l1,0l1,0l1,0l1,0l1,0l1,0l1,0l1,0l1,0l1,0l1,0l1,0l1,0l1,0l1,0l1,0l1,0l1,0l1,0l1,0l1,0l1,0l1,-0.1l1,-0.1l1,0l1,-0.1l1,-0.1l1,-0.2l1,-0.1l1,-0.1l1,-0.2l1,-0.2l1,-0.1l1,-0.2l1,-0.2l1,-0.2l1,-0.1l1,-0.2l1,-0.2l1,-0.1l1,-0.2l1,-0.1l1,-0.2l1,-0.1l1,-0.1l1,-0.1l1,-0.1l1,0l1,-0.1l1,0l1,0l1,0l1,0l1,0.1l1,0l1,0.1l1,0.1l1,0.1l1,0.1l1,0.2l1,0.1l1,0.2l1,0.1l1,0.2l1,0.2l1,0.1l1,0.2l1,0.2l1,0.2l1,0.1l1,0.2l1,0.2l1,0.1l1,0.1l1,0.2l1,0.1l1,0.1l1,0l1,0.1l1,0.1l1,0l1,0l1,0l1,0l1,0l1,0l1,0l1,0l1,0l1,0l1,0l1,0l1,0l1,0l1,0l1,0l1,0l1,0l1,0l1,0l1,0l1,0l1,0l1,0l1,0l1,0l1,0l1,0l1,0l1,0l1,0l1,0l1,0l1,0l1,0l1,0l1,0l1,0l1,0l1,0l1,0l1,0l1,0l1,0l1,0l1,0l1,0l1,0l1,0l1,0l1,0l1,0l1,0l1,0l1,0l1,0l1,0l1,0l1,0l1,0l1,0l1,0l1,0l1,0l1,0l1,0l1,0l1,0l1,0l1,0l1,0l1,0l1,0l1,0l1,0l1,0l1,0l1,0l1,0l1,0l1,0l1,0l1,0l1,0l1,0l1,0l1,0l1,0l1,0l1,0l1,0l1,0l1,0l1,0l1,0l1,0l1,0l1,0l1,0l1,0l1,0l1,0l1,0l1,0l1,0l1,0l1,0l1,0l1,0l1,0l1,0l1,0l1,0l1,0l1,0l1,0l1,0l1,0l1,0l1,0l1,0l1,0l1,0l1,0l1,0l1,0l1,0l1,0l1,0l1,0l1,0l1,0l1,0l1,0l1,0l1,0l1,0l1,0l1,0l1,0l1,0l1,0l1,0l1,0l1,0l1,0l1,0l1,0l1,0l1,0l1,0l1,0l1,0l1,0l1,0l1,0l1,0l1,0l1,0l1,0l1,0l1,0l1,0l1,0l1,0l1,0l1,0l1,0l1,0l1,0l1,0l1,0l1,0l1,0l1,0l1,0l1,0l1,0l1,0l1,0l1,0l1,0l1,0l1,0l1,0l1,0l1,0l1,0l1,0l1,0l1,0l1,0l1,0l1,0l1,0l1,0l1,0l1,0l1,0l1,0l1,0l1,0l1,-0.1l1,0l1,-0.1l1,0l1,-0.1l1,-0.1l1,-0.1l1,-0.1l1,-0.1l1,-0.1l1,-0.1l1,-0.1l1,-0.1l1,-0.2l1,-0.1l1,-0.1l1,-0.2l1,-0.1l1,-0.1l1,-0.1l1,-0.2l1,-0.1l1,-0.1l1,-0.1l1,-0.1l1,-0.1l1,0l1,-0.1l1,-0.1l1,0l1,0l1,-0.1l1,0l1,0l1,0l1,0l1,0.1l1,0l1,0l1,0.1l1,0.1l1,0l1,0.1l1,0.1l1,0.1l1,0.1l1,0.1l1,0.2l1,0.1l1,0.1l1,0.1l1,0.2l1,0.1l1,0.1l1,0.2l1,0.1l1,0.1l1,0.1l1,0.1l1,0.1l1,0.1l1,0.1l1,0.1l1,0.1l1,0l1,0.1l1,0l1,0.1l1,0l1,0l1,0l1,0l1,0l1,0l1,0l1,0l1,0l1,0l1,0l1,0l1,0l1,0l1,0l1,0l1,0l1,0l1,0l1,0l1,0l1,0l1,0l1,0l1,0l1,0l1,0l1,0l1,0l1,0l1,0l1,0l1,0l1,0l1,0l1,0l1,0l1,0l1,0l1,0l1,0l1,0l1,0l1,0l1,0l1,0l1,0l1,0l1,0l1,0l1,0l1,0l1,0l1,0l1,0l1,0l1,0l1,0l1,0l1,0l1,0l1,0l1,0l1,0l1,0l1,0l1,0l1,0l1,0l1,0l1,0l1,0l1,0l1,0l1,0l1,0l1,0l1,0l1,0l1,0l1,0l1,0l1,0l1,0l1,0l1,0l1,0l1,0l1,0l1,0l1,0l1,0l1,0l1,0l1,0l1,0l1,0l1,0l1,0l1,0l1,0l1,0l1,0l1,0l1,0l1,0l1,0l1,0l1,0l1,0l1,0l1,0l1,0l1,0l1,0l1,0l1,0l1,0l1,0l1,0l1,0l1,0l1,0l1,0l1,0l1,0l1,0l1,0l1,0l1,0l1,0l1,0l1,0l1,0l1,0l1,0l1,0l1,0l1,0l1,0l1,-0.4l1,-1.1l1,-1.6l1,-2.2l1,-2.7l1,-3.3l1,-3.7l1,-4l1,-4.4l1,-4.7l1,-4.9l1,-5l1,-5.1l1,-5.1l1,-5l1,-4.8l1,-4.6l1,-4.2l1,-4l1,-3.5l1,-3l1,-2.5l1,-2l1,-1.4l1,-0.8l1,-0.2l1,0.4l1,1.1l1,1.6l1,2.2l1,2.7l1,3.3l1,3.6l1,4.1l1,4.4l1,4.6l1,4.5l1,4.3l1,3.9l1,3.6l1,3.1l1,2.7l1,2.2l1,1.7l1,1.2l1,0.6l1,0.2l1,-0.5l1,-0.9l1,-1.4l1,-1.8l1,-2.3l1,-2.2l1,-2l1,-1.7l1,-1.3l1,-0.9l1,-0.6l1,-0.2l1,0.2l1,0.6l1,1l1,1.3l1,1.7l1,2l1,2.2l1,2.5l1,2.7l1,2.8l1,2.9l1,3l1,2.9l1,2.9l1,2.7l1,2.6l1,2.4l1,2.1l1,1.8l1,1.4l1,1.2l1,0.7l1,0.4l1,0l1,0l1,0l1,0l1,0l1,0l1,0l1,0l1,0l1,0l1,0l1,0l1,0l1,0l1,0l1,0l1,0l1,0l1,0l1,0l1,0l1,0l1,0l1,0l1,0l1,0l1,0l1,0l1,0l1,0l1,0l1,0l1,0l1,0l1,0l1,0l1,0l1,0l1,0l1,0l1,0l1,0l1,0l1,0l1,0l1,0l1,0l1,0l1,0l1,0l1,0l1,0l1,0l1,0l1,0l1,0l1,0l1,0l1,0l1,0l1,0l1,0l1,0l1,0l1,0l1,0l1,0l1,0l1,0l1,0l1,0l1,0l1,0l1,0l1,0l1,0l1,0l1,0l1,0l1,0l1,-0.1l1,-0.5l1,-1l1,-1.6l1,-1.9l1,-2.4l1,-2.8l1,-3.1l1,-3.3l1,-3.5l1,-3.6l1,-3.7l1,-3.7l1,-3.5l1,-3.4l1,-3.1l1,-2.8l1,-2.5l1,-2l1,-1.6l1,-1.2l1,-0.6l1,-0.1l1,0.4l1,1l1,1.4l1,1.9l1,2.3l1,2.6l1,3.1l1,3.2l1,3.5l1,3.6l1,3.7l1,3.6l1,3.6l1,3.4l1,3.2l1,2.9l1,2.6l1,2.1l1,1.7l1,1.2l1,0.8l1,0.2l1,0l1,0l1,0l1,0l1,0l1,0l1,0l1,0l1,-0.1l1,-0.1l1,-0.2l1,-0.2l1,-0.3l1,-0.4l1,-0.4l1,-0.4l1,-0.5l1,-0.5l1,-0.5l1,-0.5l1,-0.4l1,-0.5l1,-0.4l1,-0.4l1,-0.4l1,-0.3l1,-0.2l1,-0.2l1,-0.1l1,0l1,0l1,0.1l1,0.2l1,0.2l1,0.3l1,0.4l1,0.4l1,0.4l1,0.5l1,0.4l1,0.5l1,0.5l1,0.5l1,0.5l1,0.4l1,0.4l1,0.4l1,0.3l1,0.2l1,0.2l1,0.1l1,0.1l1,0l1,0l1,0l1,0l1,0l1,0l1,0l1,0l1,0l1,0l1,0l1,0l1,0l1,0l1,0l1,0l1,0l1,0l1,0l1,0l1,0l1,0l1,0l1,0l1,0l1,0l1,0l1,0l1,0l1,0l1,0l1,0l1,0l1,0l1,0l1,0l1,0l1,0l1,0l1,0l1,0l1,0l1,0l1,0l1,0l1,0l1,0l1,0l1,0l1,0l1,-0.6l1,-1l1,-1.6l1,-2.1l1,-2.6l1,-3l1,-3.4l1,-3.7l1,-3.9l1,-4.1l1,-4.2l1,-4.3l1,-4.1l1,-4.1l1,-3.8l1,-3.6l1,-3.2l1,-2.9l1,-2.4l1,-1.9l1,-1.4l1,-0.8l1,-0.3l1,0.3l1,0.8l1,1.4l1,1.9l1,2.4l1,2.8l1,3.1l1,3.4l1,3.6l1,3.4l1,3.1l1,2.9l1,2.5l1,2.1l1,1.7l1,1.3l1,0.9l1,0.4l1,0l1,-0.5l1,-0.9l1,-1.3l1,-1.8l1,-2l1,-1.9l1,-1.6l1,-1.4l1,-1.1l1,-0.9l1,-0.6l1,-0.3l1,-0.1l1,0.2l1,0.5l1,0.9l1,1.2l1,1.5l1,1.8l1,2l1,2.2l1,2.4l1,2.6l1,2.6l1,2.5l1,2.5l1,2.4l1,2.3l1,2l1,1.8l1,1.5l1,1.3l1,0.9l1,0.6l1,0.2l1,-0.1l1,-0.3l1,-0.4l1,-0.4l1,-0.3l1,-0.3l1,-0.2l1,-0.2l1,-0.2l1,-0.1l1,0l1,0l1,0.1l1,0.2l1,0.2l1,0.2l1,0.3l1,0.3l1,0.4l1,0.4l1,0.4l1,0.4l1,0.4l1,0.4l1,0.4l1,0.4l1,0.3l1,0.3l1,0.3l1,0.2l1,0.2l1,0.1l1,0.1l1,0l1,0l1,0l1,0l1,0l1,0l1,0l1,0l1,0l1,0l1,0l1,0l1,0l1,0l1,0l1,0l1,0l1,0l1,0l1,0l1,0l1,0l1,0l1,0l1,0l1,0l1,0l1,0l1,0l1,0l1,0l1,0l1,0l1,0l1,0l1,0l1,0l1,0l1,0l1,0l1,0l1,0l1,0l1,0l1,0l1,0l1,0l1,0l1,-0.1l1,-0.5l1,-0.9l1,-1.2l1,-1.5l1,-1.8l1,-2.1l1,-2.3l1,-2.6l1,-2.6l1,-2.7l1,-2.8l1,-2.7l1,-2.7l1,-2.5l1,-2.4l1,-2.1l1,-1.9l1,-1.6l1,-1.3l1,-0.9l1,-0.6l1,-0.2l1,0.2l1,0.6l1,0.9l1,1.3l1,1.6l1,1.9l1,2.1l1,2.4l1,2.5l1,2.7l1,2.7l1,2.8l1,2.7l1,2.6l1,2.6l1,2.3l1,2.1l1,1.8l1,1.5l1,1.2l1,0.9l1,0.5l1,0.1l1,0l1,0l1,0l1,0l1,0l1,0l1,0l1,0l1,0l1,0l1,0l1,0l1,0l1,0l1,0l1,0l1,0l1,0l1,0l1,0l1,0l1,0l1,0l1,0l1,0l1,0l1,0l1,0l1,0l1,0l1,0l1,0l1,0l1,0l1,0l1,0l1,0l1,0l1,0l1,0l1,0l1,0l1,0l1,0l1,0l1,0l1,0l1,0l1,0l1,0l1,0l1,0l1,0l1,0l1,0l1,0l1,0l1,0l1,0l1,0l1,0l1,0l1,0l1,0l1,0l1,0l1,0l1,0l1,0l1,0l1,0l1,0l1,0l1,0l1,0l1,0l1,0l1,0l1,0l1,0l1,0l1,0l1,0l1,0l1,0l1,0l1,0l1,0l1,0l1,0l1,0l1,0l1,0l1,0l1,0l1,0l1,0l1,0l1,0l1,0l1,0l1,0l1,0l1,0l1,0l1,0l1,0l1,0l1,0l1,0l1,0l1,0l1,0l1,0l1,0l1,0l1,0l1,0l1,0l1,0l1,0l1,0l1,0l1,0l1,0l1,0l1,0l1,0l1,0l1,0l1,0l1,0l1,0l1,0l1,0l1,0l1,0l1,0l1,0l1,0l1,0l1,0l1,0l1,0l1,0l1,0l1,0l1,0l1,0l1,0l1,0l1,0l1,0l1,0l1,0l1,0l1,0l1,0l1,0l1,0l1,0l1,0l1,0l1,0l1,0l1,0l1,0l1,0l1,0l1,0l1,0l1,0l1,0l1,0l1,0l1,0l1,0l1,0l1,0l1,0l1,0l1,0l1,0l1,0l1,0l1,0l1,0l1,0l1,0l1,0l1,0l1,0l1,0l1,0l1,0l1,0l1,0l1,0l1,0l1,0l1,0l1,0l1,0l1,0l1,0l1,0l1,0l1,0l1,0l1,0l1,0l1,0l1,0l1,0l1,0l1,0l1,0l1,0l1,0l1,0l1,0l1,0l1,0l1,0l1,0l1,0l1,0l1,0l1,0l1,0l1,0l1,0l1,0l1,0l1,0l1,0l1,0l1,0l1,0l1,0l1,0l1,0l1,0l1,0l1,-0.1l1,-0.1l1,-0.2l1,-0.2l1,-0.3l1,-0.3l1,-0.3l1,-0.4l1,-0.4l1,-0.4l1,-0.4l1,-0.4l1,-0.4l1,-0.3l1,-0.4l1,-0.3l1,-0.3l1,-0.3l1,-0.2l1,-0.1l1,-0.1l1,-0.1l1,0l1,0.1l1,0.1l1,0.1l1,0.2l1,0.3l1,0.3l1,0.3l1,0.4l1,0.3l1,0.4l1,0.4l1,0.3l1,0.3l1,0.1l1,0l1,-0.1l1,-0.3l1,-0.3l1,-0.4l1,-0.5l1,-0.6l1,-0.7l1,-0.7l1,-0.7l1,-0.7l1,-0.7l1,-0.6l1,-0.6l1,-0.5l1,-0.4l1,-0.4l1,-0.2l1,-0.2l1,0l1,0l1,0.2l1,0.2l1,0.4l1,0.4l1,0.5l1,0.6l1,0.6l1,0.7l1,0.7l1,0.7l1,0.7l1,0.8l1,0.7l1,0.7l1,0.6l1,0.6l1,0.5l1,0.5l1,0.3l1,0.3l1,0.2l1,0.1l1,0l1,0l1,0l1,0l1,0l1,0l1,0l1,0l1,0l1,0l1,0l1,0l1,0l1,0l1,0l1,0l1,0l1,0l1,0l1,0l1,0l1,0l1,0l1,0l1,0l1,0l1,0l1,0l1,0l1,0l1,0l1,0l1,0l1,0l1,0l1,0l1,0l1,0l1,0" fill="none" stroke="#2aee2a" stroke-width="2.3" stroke-linejoin="round"/>
<path d="M19,405.0v0l1,0l1,0l1,0l1,0l1,0l1,0l1,0l1,0l1,0l1,0l1,0l1,0l1,0l1,0l1,0l1,0l1,0l1,0l1,0l1,0l1,0l1,0l1,0l1,0l1,0l1,0l1,0l1,0l1,0l1,0l1,0l1,0l1,0l1,0l1,0l1,0l1,0l1,0l1,0l1,0l1,0l1,0l1,0l1,0l1,0l1,0l1,-0.1l1,0l1,-0.1l1,-0.2l1,-0.1l1,-0.2l1,-0.2l1,-0.2l1,-0.2l1,-0.2l1,-0.3l1,-0.2l1,-0.2l1,-0.3l1,-0.2l1,-0.2l1,-0.2l1,-0.2l1,-0.2l1,-0.1l1,-0.2l1,-0.1l1,0l1,-0.1l1,0l1,0l1,0.1l1,0l1,0.1l1,0.2l1,0.1l1,0.2l1,0.2l1,0.2l1,0.2l1,0.2l1,0.3l1,0.2l1,0.2l1,0.3l1,0.2l1,0.2l1,0.2l1,0.2l1,0.2l1,0.1l1,0.2l1,0.1l1,0l1,0.1l1,0l1,0l1,0l1,-0.2l1,-1.3l1,-2.5l1,-3.7l1,-4.9l1,-5.8l1,-6.6l1,-7.3l1,-7.7l1,-8l1,-8l1,-7.9l1,-7.5l1,-7l1,-6.2l1,-5.4l1,-4.3l1,-3.1l1,-2l1,-0.6l1,0.6l1,2l1,3.1l1,4.3l1,5.4l1,6.2l1,7l1,7.5l1,7.9l1,8l1,8l1,7.7l1,7.3l1,6.6l1,5.8l1,4.9l1,3.7l1,2.5l1,1.3l1,0.2l1,0l1,0l1,0l1,0l1,0l1,0l1,0l1,-0.1l1,0l1,-0.1l1,-0.2l1,-0.1l1,-0.2l1,-0.2l1,-0.2l1,-0.2l1,-0.2l1,-0.3l1,-0.2l1,-0.2l1,-0.3l1,-0.2l1,-0.2l1,-0.2l1,-0.2l1,-0.2l1,-0.1l1,-0.2l1,-0.1l1,0l1,-0.1l1,0l1,0l1,0.1l1,0l1,0.1l1,0.2l1,0.1l1,0.2l1,0.2l1,0.2l1,0.2l1,0.2l1,0.3l1,0.2l1,0.2l1,0.3l1,0.2l1,0.2l1,0.2l1,0.2l1,0.2l1,0.1l1,0.2l1,0.1l1,0l1,0.1l1,0l1,0l1,0l1,0l1,0l1,0l1,0l1,0l1,0l1,0l1,0l1,0l1,0l1,0l1,0l1,0l1,0l1,0l1,0l1,0l1,0l1,0l1,0l1,0l1,0l1,0l1,0l1,0l1,0l1,0l1,0l1,0l1,0l1,0l1,0l1,0l1,0l1,0l1,0l1,0l1,0l1,0l1,0l1,0l1,0l1,0l1,0l1,0l1,0l1,0l1,0l1,0l1,0l1,0l1,0l1,0l1,0l1,0l1,0l1,0l1,0l1,0l1,0l1,0l1,0l1,0l1,0l1,0l1,0l1,0l1,0l1,0l1,0l1,0l1,0l1,0l1,0l1,0l1,0l1,0l1,0l1,0l1,0l1,0l1,0l1,0l1,0l1,0l1,0l1,0l1,0l1,0l1,0l1,0l1,0l1,0l1,0l1,0l1,0l1,0l1,0l1,0l1,0l1,0l1,0l1,0l1,0l1,0l1,0l1,0l1,0l1,0l1,0l1,0l1,0l1,0l1,0l1,0l1,0l1,0l1,0l1,0l1,0l1,0l1,0l1,0l1,0l1,0l1,0l1,0l1,0l1,0l1,0l1,0l1,0l1,0l1,0l1,0l1,0l1,0l1,0l1,0l1,0l1,0l1,0l1,0l1,0l1,0l1,0l1,0l1,0l1,0l1,0l1,0l1,0l1,0l1,0l1,0l1,0l1,0l1,0l1,0l1,0l1,0l1,0l1,0l1,0l1,0l1,0l1,0l1,0l1,0l1,0l1,0l1,0l1,0l1,0l1,0l1,0l1,0l1,0l1,0l1,0l1,0l1,0l1,0l1,0l1,0l1,0l1,0l1,0l1,0l1,0l1,0l1,0l1,0l1,0l1,0l1,0l1,0l1,0l1,0l1,0l1,0l1,0l1,0l1,0l1,0l1,0l1,0l1,0l1,0l1,0l1,0l1,0l1,0l1,0l1,0l1,0l1,0l1,0l1,0l1,0l1,0l1,0l1,0l1,0l1,0l1,0l1,0l1,0l1,0l1,0l1,0l1,0l1,0l1,0l1,0l1,0l1,0l1,0l1,0l1,0l1,0l1,0l1,0l1,0l1,0l1,0l1,0l1,0l1,0l1,0l1,0l1,0l1,0l1,0l1,0l1,0l1,0l1,0l1,0l1,0l1,0l1,0l1,0l1,0l1,0l1,0l1,0l1,0l1,0l1,0l1,0l1,0l1,0l1,0l1,0l1,0l1,0l1,0l1,0l1,0l1,0l1,0l1,0l1,0l1,0l1,0l1,0l1,0l1,0l1,0l1,0l1,0l1,0l1,0l1,0l1,0l1,0l1,0l1,0l1,0l1,0l1,0l1,0l1,0l1,0l1,0l1,0l1,0l1,0l1,0l1,0l1,0l1,0l1,0l1,0l1,0l1,0l1,0l1,0l1,0l1,0l1,0l1,0l1,0l1,0l1,0l1,0l1,0l1,0l1,0l1,0l1,0l1,0l1,0l1,0l1,0l1,0l1,0l1,0l1,0l1,0l1,0l1,0l1,0l1,0l1,0l1,0l1,0l1,0l1,0l1,0l1,0l1,0l1,0l1,0l1,0l1,0l1,0l1,0l1,0l1,0l1,0l1,0l1,0l1,0l1,0l1,0l1,0l1,0l1,0l1,0l1,0l1,0l1,0l1,0l1,0l1,0l1,0l1,0l1,0l1,0l1,0l1,0l1,0l1,0l1,0l1,0l1,0l1,0l1,0l1,0l1,0l1,0l1,0l1,0l1,0l1,0l1,0l1,0l1,0l1,0l1,0l1,0l1,0l1,0l1,0l1,0l1,0l1,0l1,0l1,0l1,0l1,0l1,0l1,0l1,0l1,0l1,0l1,0l1,0l1,0l1,0l1,0l1,0l1,0l1,0l1,0l1,0l1,0l1,0l1,0l1,0l1,0l1,0l1,0l1,0l1,0l1,0l1,0l1,0l1,0l1,0l1,0l1,0l1,0l1,0l1,0l1,0l1,0l1,0l1,0l1,0l1,0l1,0l1,0l1,0l1,0l1,0l1,0l1,0l1,0l1,0l1,0l1,0l1,0l1,0l1,0l1,0l1,0l1,0l1,0l1,0l1,0l1,0l1,0l1,0l1,0l1,0l1,0l1,0l1,0l1,0l1,0l1,0l1,0l1,0l1,0l1,0l1,0l1,0l1,0l1,0l1,0l1,0l1,0l1,0l1,0l1,0l1,0l1,0l1,0l1,0l1,0l1,0l1,0l1,0l1,0l1,0l1,0l1,0l1,0l1,0l1,0l1,0l1,0l1,0l1,0l1,0l1,0l1,0l1,0l1,0l1,0l1,0l1,0l1,0l1,0l1,0l1,0l1,0l1,0l1,0l1,0l1,0l1,0l1,0l1,0l1,0l1,0l1,0l1,0l1,0l1,0l1,0l1,0l1,0l1,0l1,0l1,0l1,0l1,0l1,0l1,0l1,0l1,0l1,0l1,0l1,0l1,0l1,0l1,0l1,0l1,0l1,0l1,0l1,0l1,0l1,0l1,0l1,0l1,0l1,0l1,0l1,0l1,0l1,0l1,0l1,0l1,0l1,0l1,0l1,0l1,0l1,0l1,0l1,0l1,0l1,0l1,0l1,0l1,0l1,0l1,0l1,0l1,0l1,0l1,0l1,0l1,0l1,0l1,0l1,0l1,0l1,0l1,0l1,0l1,0l1,0l1,0l1,0l1,0l1,0l1,0l1,0l1,0l1,0l1,0l1,0l1,0l1,0l1,0l1,0l1,0l1,0l1,0l1,0l1,0l1,0l1,0l1,0l1,0l1,0l1,0l1,0l1,0l1,0l1,0l1,0l1,0l1,0l1,0l1,0l1,0l1,0l1,0l1,0l1,0l1,0l1,0l1,0l1,0l1,0l1,0l1,0l1,0l1,0l1,0l1,0l1,0l1,0l1,0l1,0l1,0l1,0l1,0l1,0l1,0l1,0l1,0l1,0l1,0l1,0l1,0l1,0l1,0l1,0l1,0l1,0l1,0l1,0l1,0l1,0l1,0l1,0l1,0l1,0l1,0l1,0l1,0l1,0l1,0l1,0l1,0l1,0l1,0l1,0l1,0l1,0l1,0l1,0l1,0l1,0l1,0l1,0l1,0l1,0l1,0l1,0l1,0l1,0l1,0l1,0l1,0l1,0l1,0l1,0l1,0l1,0l1,0l1,0l1,0l1,0l1,0l1,0l1,0l1,0l1,0l1,0l1,0l1,0l1,0l1,0l1,0l1,0l1,0l1,0l1,0l1,0l1,0l1,0l1,0l1,0l1,0l1,0l1,0l1,0l1,0l1,0l1,0l1,0l1,0l1,0l1,0l1,0l1,0l1,0l1,0l1,0l1,0l1,0l1,0l1,0l1,0l1,0l1,0l1,0l1,0l1,0l1,0l1,0l1,0l1,0l1,0l1,0l1,0l1,0l1,0l1,0l1,0l1,0l1,0l1,0l1,0l1,0l1,0l1,0l1,0l1,0l1,0l1,0l1,0l1,0l1,0l1,0l1,0l1,0l1,0l1,0l1,0l1,0l1,0l1,0l1,0l1,0l1,0l1,0l1,0l1,0l1,0l1,0l1,0l1,-0.1l1,-0.6l1,-1l1,-1.4l1,-1.9l1,-2.2l1,-2.5l1,-2.8l1,-3l1,-3.2l1,-3.3l1,-3.3l1,-3.3l1,-3.2l1,-3l1,-2.8l1,-2.5l1,-2.3l1,-1.8l1,-1.4l1,-1l1,-0.6l1,-0.1l1,0.4l1,0.8l1,1.3l1,1.7l1,2l1,2.4l1,2.7l1,3l1,3.1l1,3.3l1,3.3l1,3.3l1,3.2l1,3.1l1,2.9l1,2.6l1,2.4l1,2l1,1.6l1,1.2l1,0.7l1,0.3l1,0l1,0l1,0l1,0l1,0l1,0l1,0l1,0l1,0l1,0l1,0l1,0l1,0l1,0l1,0l1,0l1,0l1,0l1,0l1,0l1,0l1,0l1,0l1,0l1,0l1,0l1,0l1,0l1,0l1,0l1,0l1,0l1,0l1,0l1,0l1,0l1,0l1,0l1,0l1,0l1,0l1,0l1,0l1,0l1,0l1,0l1,0l1,0l1,0l1,0l1,0l1,0l1,0l1,0l1,0l1,0l1,0l1,0l1,0l1,0l1,0l1,0l1,0l1,0l1,0l1,0l1,0l1,0l1,0l1,0l1,0l1,0l1,0l1,0l1,0l1,0l1,0l1,0l1,0l1,0l1,0l1,0l1,0l1,0l1,0l1,0l1,0l1,0l1,0l1,0l1,0l1,0l1,0l1,0l1,0l1,0l1,0l1,0l1,0l1,0l1,0l1,0l1,0l1,0l1,0l1,0l1,0l1,0l1,0l1,0l1,0l1,0l1,0l1,0l1,0l1,0l1,0l1,0l1,0l1,0l1,0l1,0l1,0l1,0l1,0l1,0l1,0l1,0l1,0l1,0l1,0l1,-0.1l1,-0.1l1,-0.1l1,-0.3l1,-0.3l1,-0.3l1,-0.4l1,-0.4l1,-0.5l1,-0.5l1,-0.4l1,-0.5l1,-0.5l1,-0.5l1,-0.4l1,-0.4l1,-0.3l1,-0.3l1,-0.3l1,-0.2l1,-0.1l1,-0.1l1,0l1,0.1l1,0.1l1,0.2l1,0.3l1,0.3l1,0.3l1,0.4l1,0.4l1,0.5l1,0.5l1,0.5l1,0.4l1,0.5l1,0.5l1,0.4l1,0.4l1,0.3l1,0.3l1,0.3l1,0.1l1,0.1l1,0.1l1,0l1,0l1,0l1,0l1,0l1,0l1,0l1,0l1,0l1,0l1,0l1,0l1,0l1,0l1,0l1,0l1,0l1,0l1,0l1,0l1,0l1,0l1,0l1,0l1,0l1,0l1,0l1,0l1,0l1,0l1,0l1,0l1,0l1,0l1,-0.1l1,-0.1l1,-0.1l1,-0.2l1,-0.3l1,-0.2l1,-0.3l1,-0.3l1,-0.4l1,-0.3l1,-0.4l1,-0.3l1,-0.3l1,-0.3l1,-0.3l1,-0.3l1,-0.2l1,-0.2l1,-0.2l1,-0.1l1,-0.1l1,0l1,0l1,0.1l1,0.1l1,0.2l1,0.2l1,0.2l1,0.3l1,0.3l1,0.3l1,0.3l1,0.3l1,0.4l1,0.3l1,0.4l1,0.3l1,0.3l1,0.2l1,0.3l1,0.2l1,0.1l1,0.1l1,0.1l1,0l1,0l1,0l1,0l1,0l1,0l1,0l1,-0.4l1,-0.8l1,-1.1l1,-1.4l1,-1.8l1,-2l1,-2.3l1,-2.5l1,-2.6l1,-2.8l1,-2.8l1,-2.8l1,-2.7l1,-2.6l1,-2.5l1,-2.3l1,-2.1l1,-1.7l1,-1.5l1,-1.1l1,-0.8l1,-0.4l1,0l1,0.4l1,0.8l1,1.1l1,1.5l1,1.7l1,2.1l1,2.3l1,2.5l1,2.6l1,2.7l1,2.8l1,2.8l1,2.8l1,2.6l1,2.5l1,2.3l1,2l1,1.8l1,1.4l1,1.1l1,0.8l1,0.4l1,0l1,0l1,0l1,0l1,0l1,0l1,0l1,0l1,0l1,0l1,0l1,0l1,0l1,0l1,0l1,0l1,0l1,0l1,0l1,0l1,0l1,0l1,0l1,0l1,0l1,0l1,0l1,0l1,0l1,0l1,0l1,0l1,0l1,0l1,0l1,0l1,0l1,0l1,0l1,0l1,0l1,0l1,0l1,0l1,0l1,0l1,0l1,0l1,0l1,0l1,0l1,0l1,-0.1l1,-0.2l1,-0.2l1,-0.3l1,-0.3l1,-0.4l1,-0.4l1,-0.5l1,-0.4l1,-0.5l1,-0.5l1,-0.4l1,-0.5l1,-0.4l1,-0.4l1,-0.4l1,-0.3l1,-0.3l1,-0.2l1,-0.2l1,-0.1l1,0l1,0l1,0.1l1,0.2l1,0.2l1,0.3l1,0.3l1,0.4l1,0.4l1,0.4l1,0.5l1,0.4l1,0.5l1,0.5l1,0.4l1,0.5l1,0.4l1,0.4l1,0.3l1,0.3l1,0.2l1,0.2l1,0.1l1,0l1,-0.1l1,-0.1l1,-0.2l1,-0.3l1,-0.3l1,-0.4l1,-0.3l1,-0.5l1,-0.4l1,-0.5l1,-0.5l1,-0.4l1,-0.5l1,-0.4l1,-0.4l1,-0.4l1,-0.4l1,-0.3l1,-0.2l1,-0.2l1,-0.1l1,-0.1l1,0l1,0.1l1,0.1l1,0.2l1,0.2l1,0.3l1,0.4l1,0.4l1,0.4l1,0.4l1,0.5l1,0.4l1,0.5l1,0.5l1,0.4l1,0.5l1,0.3l1,0.4l1,0.3l1,0.3l1,0.2l1,0.1l1,0.1l1,0l1,0l1,0l1,0l1,0l1,0l1,0l1,0l1,0l1,-0.6l1,-1.3l1,-1.9l1,-2.6l1,-3.1l1,-3.7l1,-4.1l1,-4.6l1,-4.8l1,-5l1,-5.2l1,-5.2l1,-5.1l1,-5l1,-4.8l1,-4.4l1,-4l1,-3.5l1,-2.9l1,-2.4l1,-1.7l1,-1l1,-0.4l1,0.4l1,1l1,1.7l1,2.4l1,2.9l1,3.5l1,4l1,4.4l1,4.8l1,5l1,5.1l1,5.2l1,5.2l1,5l1,4.8l1,4.6l1,4.1l1,3.7l1,3.1l1,2.6l1,1.9l1,1.3l1,0.6l1,0l1,0l1,0l1,0l1,0l1,0l1,0l1,0l1,0l1,0l1,0l1,0l1,0l1,0l1,0l1,0l1,0l1,0l1,0l1,0l1,0l1,0l1,0l1,-0.1l1,-0.6l1,-1.1l1,-1.5l1,-1.9l1,-2.3l1,-2.7l1,-3l1,-3.2l1,-3.4l1,-3.6l1,-3.6l1,-3.6l1,-3.6l1,-3.4l1,-3.2l1,-3l1,-2.7l1,-2.3l1,-1.9l1,-1.5l1,-1.1l1,-0.6l1,-0.1l1,0.4l1,0.9l1,1.3l1,1.8l1,2.2l1,2.5l1,2.9l1,3.1l1,3.3l1,3.6l1,3.6l1,3.6l1,3.6l1,3.4l1,3.3l1,3.1" fill="none" stroke="#ff4242" stroke-width="2.3" stroke-linejoin="round"/>
<path d="M19,404.5v0l1,0l1,0l1,0l1,0l1,0l1,0l1,0l1,0l1,0l1,0l1,0l1,0l1,0l1,0l1,0l1,0l1,0l1,0l1,0l1,0l1,0l1,0l1,0l1,0l1,0l1,0l1,0l1,0l1,0l1,0l1,0l1,-0.1l1,-0.9l1,-1.5l1,-2.3l1,-3l1,-3.5l1,-4.1l1,-4.6l1,-4.9l1,-5.1l1,-5.3l1,-5.4l1,-5.3l1,-5.1l1,-4.9l1,-4.5l1,-4l1,-3.5l1,-2.9l1,-2.2l1,-1.5l1,-0.8l1,0l1,0.8l1,1.4l1,2.2l1,2.9l1,3.4l1,4l1,4.4l1,4.8l1,5.1l1,5.2l1,5.1l1,4.2l1,3l1,1.8l1,0.7l1,-0.7l1,-1.8l1,-3.1l1,-4.2l1,-5.2l1,-6.2l1,-6.9l1,-7l1,-6.7l1,-6.5l1,-5.9l1,-5.3l1,-4.7l1,-3.8l1,-3l1,-2l1,-1l1,0l1,1l1,2l1,3l1,3.8l1,4.7l1,5.4l1,6l1,6.4l1,6.9l1,7l1,7.2l1,7l1,6.9l1,6.5l1,6.1l1,5.4l1,4.7l1,4l1,3l1,2.1l1,1.1l1,0.2l1,0l1,0l1,0l1,0l1,0l1,0l1,0l1,0l1,0l1,0l1,0l1,0l1,0l1,0l1,0l1,0l1,0l1,0l1,0l1,0l1,0l1,0l1,0l1,-0.1l1,-0.9l1,-1.9l1,-2.8l1,-3.7l1,-4.4l1,-5.1l1,-5.7l1,-6.2l1,-6.4l1,-6.6l1,-6.6l1,-6.4l1,-6.1l1,-5.7l1,-5.2l1,-4.4l1,-3.7l1,-2.8l1,-1.8l1,-0.9l1,0.1l1,1.1l1,2l1,3l1,3.8l1,4.6l1,5.3l1,5.8l1,6.2l1,6.4l1,6.6l1,6.6l1,6.4l1,6l1,5.6l1,5l1,4.3l1,3.6l1,2.6l1,1.7l1,0.7l1,0l1,0l1,0l1,0l1,0l1,0l1,0l1,0l1,0l1,0l1,0l1,0l1,0l1,0l1,0l1,0l1,0l1,0l1,0l1,0l1,0l1,0l1,0l1,0l1,0l1,0l1,0l1,0l1,0l1,0l1,0l1,0l1,0l1,0l1,0l1,0l1,0l1,0l1,0l1,0l1,0l1,0l1,0l1,0l1,0l1,0l1,0l1,0l1,0l1,0l1,0l1,0l1,0l1,0l1,0l1,0l1,0l1,0l1,0l1,0l1,0l1,0l1,-0.1l1,-0.6l1,-1.3l1,-2l1,-2.7l1,-3.2l1,-3.6l1,-4.1l1,-4.5l1,-4.6l1,-4.7l1,-4.8l1,-4.7l1,-4.4l1,-4.2l1,-3.7l1,-3.3l1,-2.8l1,-2.1l1,-1.5l1,-0.8l1,0l1,0.6l1,1.3l1,2l1,2.7l1,3.2l1,3.6l1,4.1l1,4.4l1,4.7l1,4.7l1,4.8l1,4.6l1,4.5l1,4.2l1,3.7l1,3.3l1,2.8l1,2.1l1,1.5l1,0.8l1,0.1l1,0l1,0l1,0l1,0l1,0l1,0l1,0l1,0l1,0l1,0l1,0l1,0l1,0l1,0l1,0l1,0l1,0l1,0l1,0l1,0l1,0l1,0l1,0l1,0l1,0l1,0l1,0l1,0l1,0l1,0l1,0l1,0l1,0l1,0l1,0l1,0l1,0l1,0l1,0l1,0l1,0l1,0l1,0l1,0l1,0l1,0l1,0l1,0l1,0l1,0l1,0l1,0l1,0l1,0l1,0l1,0l1,0l1,0l1,0l1,-0.6l1,-1.3l1,-2.1l1,-2.9l1,-3.4l1,-4.1l1,-4.6l1,-4.9l1,-5.2l1,-5.4l1,-5.5l1,-5.4l1,-5.1l1,-4.9l1,-4.5l1,-4l1,-3.3l1,-2.7l1,-2l1,-1.2l1,-0.4l1,0.4l1,1.2l1,2l1,2.7l1,3.3l1,4l1,4.5l1,4.9l1,5.1l1,5.4l1,5.5l1,5.4l1,5.2l1,4.9l1,4.6l1,4.1l1,3.4l1,2.9l1,2.1l1,1.3l1,0.6l1,0l1,0l1,0l1,0l1,0l1,0l1,0l1,0l1,0l1,0l1,0l1,0l1,0l1,0l1,0l1,0l1,0l1,0l1,0l1,0l1,0l1,0l1,0l1,0l1,0l1,0l1,0l1,0l1,0l1,0l1,0l1,0l1,0l1,0l1,0l1,0l1,0l1,0l1,0l1,0l1,0l1,0l1,0l1,0l1,0l1,0l1,0l1,0l1,0l1,0l1,0l1,0l1,0l1,0l1,0l1,0l1,0l1,0l1,0l1,0l1,-0.1l1,-0.6l1,-1.4l1,-2.2l1,-2.8l1,-3.4l1,-4l1,-4.4l1,-4.7l1,-5.1l1,-5.1l1,-5.2l1,-5.2l1,-4.9l1,-4.6l1,-4.3l1,-3.8l1,-3.1l1,-2.6l1,-1.9l1,-1.1l1,-0.4l1,0.4l1,1.1l1,1.9l1,2.6l1,3.1l1,3.8l1,4.3l1,4.6l1,4.9l1,5.2l1,5.2l1,5.1l1,5.1l1,4.7l1,4.4l1,4l1,3.4l1,2.8l1,2.2l1,1.4l1,0.6l1,0.1l1,0l1,0l1,0l1,0l1,0l1,0l1,0l1,0l1,0l1,0l1,0l1,0l1,0l1,0l1,0l1,0l1,0l1,0l1,0l1,0l1,0l1,0l1,0l1,0l1,0l1,0l1,0l1,0l1,0l1,0l1,0l1,0l1,0l1,0l1,0l1,0l1,0l1,0l1,0l1,0l1,0l1,0l1,0l1,0l1,0l1,0l1,0l1,0l1,0l1,0l1,0l1,0l1,0l1,0l1,0l1,0l1,0l1,0l1,-0.4l1,-1.1l1,-1.8l1,-2.5l1,-3.2l1,-3.8l1,-4.2l1,-4.7l1,-4.9l1,-5.2l1,-5.2l1,-5.3l1,-5.1l1,-4.8l1,-4.6l1,-4l1,-3.6l1,-2.9l1,-2.3l1,-1.6l1,-0.9l1,0l1,0.6l1,1.5l1,2.1l1,2.9l1,3.4l1,4l1,4.4l1,4.8l1,5.1l1,5.2l1,5.3l1,5.1l1,5.1l1,4.7l1,4.3l1,3.9l1,3.3l1,2.6l1,2l1,1.3l1,0.5l1,0l1,0l1,0l1,0l1,0l1,0l1,0l1,0l1,0l1,0l1,0l1,0l1,0l1,0l1,0l1,0l1,0l1,0l1,0l1,0l1,0l1,0l1,0l1,0l1,0l1,0l1,0l1,0l1,0l1,0l1,0l1,0l1,0l1,0l1,0l1,0l1,0l1,0l1,0l1,0l1,0l1,0l1,0l1,0l1,0l1,0l1,0l1,0l1,0l1,0l1,0l1,0l1,0l1,0l1,0l1,0l1,0l1,0l1,0l1,-0.4l1,-1.1l1,-2l1,-2.6l1,-3.4l1,-3.9l1,-4.5l1,-4.9l1,-5.3l1,-5.5l1,-5.6l1,-5.5l1,-5.5l1,-5.2l1,-4.9l1,-4.4l1,-3.8l1,-3.3l1,-2.6l1,-1.8l1,-1l1,-0.3l1,0.6l1,1.3l1,2.2l1,2.8l1,3.5l1,4.1l1,4.6l1,5.1l1,5.3l1,5.5l1,5.6l1,5.5l1,5.4l1,5.2l1,4.7l1,4.3l1,3.7l1,3.1l1,2.4l1,1.6l1,0.9l1,0.1l1,0l1,0l1,0l1,0l1,0l1,0l1,0l1,0l1,0l1,0l1,0l1,0l1,0l1,0l1,0l1,0l1,0l1,0l1,0l1,0l1,0l1,0l1,0l1,0l1,0l1,0l1,0l1,0l1,0l1,0l1,0l1,0l1,0l1,0l1,0l1,0l1,0l1,0l1,0l1,0l1,0l1,0l1,0l1,0l1,0l1,0l1,0l1,0l1,0l1,0l1,0l1,0l1,0l1,0l1,0l1,0l1,0l1,0l1,0l1,-0.1l1,-0.5l1,-0.8l1,-1.1l1,-1.4l1,-1.7l1,-1.8l1,-2.1l1,-2.2l1,-2.3l1,-2.3l1,-2.4l1,-2.3l1,-2.2l1,-2l1,-1.9l1,-1.7l1,-1.4l1,-1.1l1,-0.8l1,-0.5l1,-0.2l1,0.2l1,0.5l1,0.8l1,1.1l1,1.4l1,1.7l1,1.9l1,2l1,2.2l1,2.3l1,2.4l1,2.3l1,2.3l1,2.2l1,2.1l1,1.8l1,1.7l1,1.4l1,1.1l1,0.8l1,0.5l1,0.1l1,0l1,0l1,0l1,0l1,0l1,0l1,0l1,0l1,0l1,0l1,0l1,0l1,0l1,0l1,0l1,0l1,0l1,0l1,0l1,0l1,0l1,0l1,0l1,0l1,0l1,0l1,0l1,0l1,0l1,0l1,0l1,0l1,0l1,0l1,0l1,0l1,0l1,0l1,0l1,0l1,0l1,0l1,0l1,0l1,0l1,0l1,0l1,0l1,0l1,0l1,0l1,-0.1l1,-0.6l1,-1.4l1,-2.1l1,-2.8l1,-3.4l1,-3.9l1,-4.4l1,-4.9l1,-5.1l1,-5.4l1,-5.5l1,-5.5l1,-5.5l1,-5.3l1,-5l1,-4.7l1,-4.2l1,-3.7l1,-3.2l1,-2.5l1,-1.8l1,-1.1l1,-0.4l1,0.4l1,1.1l1,1.8l1,2.5l1,3.1l1,3.4l1,3.8l1,4.1l1,4.4l1,4.3l1,3.9l1,3.4l1,3l1,2.5l1,1.9l1,1.3l1,0.9l1,0.2l1,-0.3l1,-0.9l1,-1.5l1,-2l1,-2.5l1,-2.9l1,-2.7l1,-2.4l1,-2.1l1,-1.8l1,-1.5l1,-1.1l1,-0.8l1,-0.4l1,0l1,0.5l1,1.1l1,1.5l1,2.1l1,2.4l1,2.9l1,3.2l1,3.6l1,3.7l1,3.9l1,4l1,3.9l1,4l1,3.8l1,3.6l1,3.3l1,3l1,2.7l1,2.2l1,1.8l1,1.2l1,0.8l1,0.2l1,0l1,0l1,0l1,0l1,0l1,0l1,0l1,0l1,0l1,0l1,0l1,0l1,0l1,0l1,0l1,0l1,0l1,0l1,0l1,0l1,0l1,0l1,0l1,0l1,0l1,0l1,0l1,-0.1l1,-0.3l1,-0.6l1,-0.9l1,-1.2l1,-1.5l1,-1.6l1,-1.8l1,-2l1,-2.1l1,-2.1l1,-2.2l1,-2.1l1,-2.1l1,-2l1,-1.8l1,-1.7l1,-1.4l1,-1.3l1,-0.9l1,-0.7l1,-0.3l1,-0.1l1,0.3l1,0.5l1,0.8l1,1.1l1,1.4l1,1.6l1,1.8l1,1.9l1,2l1,2.2l1,2.1l1,2.2l1,2.1l1,2l1,1.9l1,1.7l1,1.5l1,1.3l1,1l1,0.8l1,0.4l1,0.2l1,0l1,0l1,0l1,0l1,0l1,0l1,0l1,0l1,0l1,0l1,0l1,0l1,0l1,0l1,0l1,0l1,0l1,0l1,0l1,0l1,0l1,0l1,0l1,0l1,0l1,0l1,0l1,0l1,0l1,0l1,0l1,0l1,0l1,0l1,0l1,0l1,0l1,0l1,0l1,0l1,0l1,0l1,0l1,0l1,0l1,0l1,0l1,0l1,0l1,0l1,0l1,0l1,0l1,0l1,0l1,0l1,0l1,0l1,0l1,0l1,0l1,0l1,0l1,0l1,0l1,0l1,0l1,0l1,0l1,0l1,0l1,0l1,0l1,0l1,0l1,0l1,0l1,0l1,0l1,0l1,-0.2l1,-0.6l1,-1l1,-1.3l1,-1.7l1,-2.1l1,-2.3l1,-2.6l1,-2.8l1,-3l1,-3.1l1,-3.3l1,-3.3l1,-3.2l1,-3.3l1,-3.1l1,-3l1,-2.8l1,-2.6l1,-2.3l1,-2.1l1,-1.7l1,-1.3l1,-1l1,-0.6l1,-0.2l1,0.2l1,0.6l1,1l1,1.3l1,1.7l1,2.1l1,2.3l1,2.3l1,1.9l1,1.6l1,1.2l1,0.7l1,0.3l1,-0.1l1,-0.6l1,-0.9l1,-1.4l1,-1.8l1,-2.2l1,-2.5l1,-2.7l1,-3.1l1,-3.2l1,-3.4l1,-3.6l1,-3.6l1,-3.4l1,-2.9l1,-2.5l1,-2l1,-1.4l1,-0.9l1,-0.3l1,0.3l1,0.9l1,1.4l1,2l1,2.5l1,2.9l1,3.1l1,2.6l1,2.3l1,1.8l1,1.3l1,0.9l1,0.4l1,-0.2l1,-0.6l1,-1.1l1,-1.6l1,-2.1l1,-2.4l1,-2.9l1,-3.2l1,-3.5l1,-3.8l1,-3.9l1,-4.1l1,-4.1l1,-3.9l1,-3.2l1,-2.6l1,-1.9l1,-1.1l1,-0.4l1,0.4l1,1.1l1,1.9l1,2.6l1,3.2l1,3.9l1,4.4l1,5l1,5.2l1,4.9l1,4.4l1,3.8l1,3.1l1,2.5l1,1.6l1,1l1,0.1l1,-0.6l1,-1.4l1,-2.1l1,-2.8l1,-3.5l1,-4.2l1,-4.7l1,-5.2l1,-5.6l1,-5.5l1,-5.1l1,-4.5l1,-3.8l1,-3.2l1,-2.4l1,-1.6l1,-0.8l1,0l1,0.8l1,1.6l1,2.4l1,3.2l1,3.8l1,4.4l1,5l1,5.5l1,5.9l1,6.1l1,5.6l1,5.1l1,4.5l1,3.9l1,3.3l1,2.5l1,1.8l1,1l1,0.3l1,-0.4l1,-1.2l1,-1.8l1,-2.5l1,-3l1,-3.6l1,-4l1,-3.6l1,-3.1l1,-2.7l1,-2l1,-1.4l1,-0.8l1,-0.2l1,0.6l1,1.2l1,1.8l1,2.5l1,3.1l1,3.5l1,4l1,4.4l1,4.7l1,4.9l1,5l1,5.1l1,5l1,4.9l1,4.6l1,4.3l1,3.9l1,3.5l1,2.9l1,2.4l1,1.7l1,1.1l1,0.4l1,0l1,0l1,0l1,0l1,0l1,0l1,0l1,0l1,0l1,0l1,0l1,0l1,0l1,0l1,0l1,0l1,0l1,0l1,0l1,0l1,0l1,-0.4l1,-1l1,-1.5l1,-2l1,-2.5l1,-2.9l1,-3.3l1,-3.6l1,-3.9l1,-4l1,-4.1l1,-4.2l1,-4l1,-4l1,-3.7l1,-3.5l1,-3.1l1,-2.7l1,-2.3l1,-1.7l1,-1.3l1,-0.7l1,-0.1l1,0.5l1,1l1,1.4l1,1.8l1,2.1l1,2.4l1,2.8l1,3l1,3.1l1,3.4l1,3.5l1,2.9l1,2.4l1,1.6l1,0.9l1,0.2l1,-0.5l1,-1.3l1,-2l1,-2.6l1,-3.4l1,-3.9l1,-4.5l1,-4.5l1,-4.4l1,-4.3l1,-4l1,-3.7l1,-3.4l1,-3l1,-2.4l1,-1.7l1,-1l1,-0.4l1,0.4l1,1l1,1.7l1,2.4l1,2.8l1,3.2l1,3.7l1,3.9l1,4.3l1,4.4l1,4.1l1,3.7l1,3.1l1,2.5l1,1.9l1,1.3l1,0.6l1,0l1,-0.7l1,-1.3l1,-2l1,-2.6l1,-3.2l1,-3.6l1,-3.4l1,-3.2l1,-2.9l1,-2.5l1,-2.2l1,-1.8l1,-1.4l1,-0.9l1,-0.3l1,0.3l1,0.9l1,1.4l1,2l1,2.5l1,3l1,3.3l1,3.7l1,4l1,4.2l1,4.4l1,4.4l1,4.3l1,4.3l1,4.1l1,3.8l1,3.3l1,2.4l1,1.6l1,0.7l1,-0.1l1,-1.1l1,-1.9l1,-2.7l1,-2.9l1,-3.1l1,-3.1l1,-3.1l1,-3.2l1,-3l1,-2.9l1,-2.7l1,-2.4l1,-2.2l1,-1.8l1,-1.4l1,-1.1l1,-0.7l1,-0.2l1,0.2l1,0.5l1,1l1,1.3l1,1.8l1,2l1,2.3l1,2.3l1,1.6l1,1l1,0.3l1,-0.3l1,-1l1,-1.7l1,-2.3l1,-2.9l1,-3.5l1,-4l1,-4.5l1,-5l1,-5.2l1,-5.6l1,-5.7l1,-5.7l1,-5.3l1,-4.7l1,-4.2l1,-3.5l1,-2.7l1,-2.1l1,-1.2l1,-0.4l1,0.4l1,1.2l1,2.1l1,2.6l1,2.7l1,2.6l1,2.6l1,2.4l1,2.2l1,1.9l1,1.7l1,1.4l1,1l1,0.7l1,0.2l1,-0.2l1,-0.6l1,-1.1l1,-1.6l1,-1.9l1,-2.4l1,-2.8l1,-3.2l1,-3.5l1,-3.7l1,-3.6l1,-3l1,-2.3l1,-1.5l1,-0.9l1,-0.2l1,0.6l1,1.3l1,2l1,2.7l1,3.4l1,3.9l1,4.5l1,4.9l1,5l1,4.6l1,4.1l1,3.6l1,3l1,2.4l1,1.7l1,1.1l1,0.5l1,-0.2l1,-0.9l1,-1.5l1,-2.1l1,-2.7l1,-3.1l1,-3.7l1,-4.1l1,-4.4l1,-4.7l1,-4.5l1,-4l1,-3.3l1,-2.6l1,-2l1,-1.1l1,-0.4l1,0.4l1,1.1l1,2l1,2.6l1,3.3l1,3.9l1,4.5l1,4.9l1,5.3l1,5.7l1,5.9l1,6l1,5.6l1,5.3l1,4.7l1,4.2l1,3.6l1,3l1,2.3l1,1.6l1,0.9l1,0.2l1,-0.5l1,-1.2l1,-1.9l1,-2.6l1,-2.7l1,-2.6l1,-2.3l1,-2l1,-1.6l1,-1.4l1,-0.9l1,-0.6l1,-0.1l1,0.4l1,0.8l1,1.2l1,1.7l1,2l1,2.4l1,2.6l1,2.9l1,3.1l1,3.3l1,3.3l1,3.4l1,3.3l1,3.2l1,3.1l1,2.8l1,2.6l1,2.3l1,1.9l1,1.6l1,1.1l1,0.7l1,0.2l1,0l1,0l1,0l1,0l1,0l1,0l1,0l1,0l1,0l1,0l1,0l1,0l1,0l1,0l1,0l1,0l1,0l1,0l1,0l1,-0.2l1,-0.4l1,-0.7l1,-0.8l1,-1l1,-1.2l1,-1.4l1,-1.5l1,-1.6l1,-1.7l1,-1.8l1,-1.8l1,-1.9l1,-1.8l1,-1.8l1,-1.7l1,-1.7l1,-1.5l1,-1.4l1,-1.2l1,-1.1l1,-0.9l1,-0.6l1,-0.5l1,-0.2l1,-0.1l1,-0.2l1,-0.2l1,-0.2l1,-0.2l1,-0.2l1,-0.2l1,-0.2l1,-0.2l1,-0.1l1,0l1,0l1,0.2l1,0.2l1,0.4l1,0.5" fill="none" stroke="#4274ff" stroke-width="2.3" stroke-linejoin="round"/>
<path d="M19,393.4v0l1,-4.7l1,-5.2l1,-5.7l1,-6l1,-6.4l1,-6.4l1,-6.5l1,-6.4l1,-6.1l1,-5.9l1,-5.4l1,-4.9l1,-4.3l1,-3.6l1,-2.9l1,-2l1,-1.2l1,-0.4l1,0.5l1,1.4l1,2.2l1,3l1,3.8l1,4.4l1,5l1,5.6l1,5.9l1,6.2l1,6.4l1,6.5l1,6.4l1,6.3l1,6l1,5.6l1,5.1l1,4.6l1,3.9l1,3.1l1,2.4l1,1.6l1,0.7l1,0l1,0l1,0l1,0l1,0l1,0l1,0l1,0l1,0l1,0l1,0l1,0l1,0l1,0l1,0l1,0l1,0l1,0l1,0l1,0l1,0l1,0l1,0l1,0l1,0l1,0l1,0l1,0l1,0l1,0l1,0l1,0l1,0l1,0l1,0l1,0l1,0l1,0l1,0l1,0l1,0l1,0l1,0l1,0l1,0l1,0l1,0l1,0l1,0l1,0l1,0l1,0l1,0l1,0l1,0l1,0l1,0l1,0l1,0l1,0l1,0l1,0l1,0l1,0l1,0l1,0l1,0l1,0l1,0l1,0l1,0l1,0l1,0l1,0l1,0l1,0l1,0l1,0l1,0l1,0l1,0l1,0l1,0l1,0l1,0l1,0l1,0l1,0l1,0l1,0l1,0l1,0l1,0l1,0l1,0l1,0l1,0l1,0l1,0l1,0l1,0l1,0l1,0l1,0l1,0l1,0l1,0l1,0l1,0l1,0l1,0l1,0l1,0l1,0l1,0l1,0l1,0l1,0l1,0l1,0l1,0l1,0l1,0l1,0l1,-0.4l1,-1.1l1,-1.6l1,-2.1l1,-2.7l1,-3.1l1,-3.5l1,-3.8l1,-4l1,-4.1l1,-4.1l1,-4.1l1,-3.9l1,-3.7l1,-3.3l1,-2.9l1,-2.4l1,-2l1,-1.3l1,-0.7l1,-0.2l1,0.5l1,1.1l1,1.7l1,2.1l1,2.6l1,3l1,3.3l1,3.6l1,3.7l1,3.9l1,3.9l1,3.8l1,3.7l1,3.4l1,3.2l1,2.5l1,1.3l1,0l1,-1.3l1,-2.5l1,-3.6l1,-4.2l1,-4.5l1,-4.9l1,-5.1l1,-5.2l1,-5.1l1,-5.1l1,-4.7l1,-4.5l1,-3.9l1,-3.4l1,-2.7l1,-2l1,-1.2l1,-0.4l1,0.4l1,1.2l1,2l1,2.7l1,3.4l1,3.9l1,4.5l1,4.9l1,5.1l1,5.4l1,5.4l1,5.3l1,5.1l1,4.9l1,4.4l1,4l1,3.3l1,2.7l1,1.9l1,1.1l1,0.4l1,0l1,0l1,0l1,0l1,0l1,0l1,0l1,0l1,0l1,0l1,0l1,0l1,0l1,0l1,0l1,0l1,0l1,0l1,0l1,0l1,0l1,0l1,0l1,0l1,0l1,0l1,-0.4l1,-1.1l1,-1.8l1,-2.5l1,-3l1,-3.6l1,-4l1,-4.4l1,-4.6l1,-4.8l1,-4.9l1,-4.8l1,-4.6l1,-4.3l1,-4l1,-3.6l1,-3l1,-2.4l1,-1.8l1,-1l1,-0.4l1,0.4l1,0.9l1,1.5l1,2l1,2.4l1,2.8l1,3.2l1,3.5l1,3.8l1,4l1,4.1l1,4.2l1,4.1l1,4.1l1,3.7l1,2.2l1,0.5l1,-1.1l1,-2.8l1,-4.4l1,-5.9l1,-7l1,-7.6l1,-8l1,-8.3l1,-8.3l1,-8.3l1,-8.1l1,-7.7l1,-7l1,-6.1l1,-5.1l1,-3.9l1,-2.6l1,-1.3l1,0l1,1.3l1,2.6l1,3.9l1,5.1l1,6.1l1,7l1,7.8l1,8.3l1,8.8l1,9l1,9l1,8.8l1,8.4l1,7.9l1,7.1l1,6.2l1,5.2l1,4l1,2.8l1,1.5l1,0.3l1,0l1,0l1,0l1,0l1,0l1,0l1,0l1,0l1,0l1,0l1,0l1,0l1,0l1,0l1,0l1,0l1,0l1,0l1,0l1,0l1,0l1,0l1,0l1,-0.5l1,-1.2l1,-1.7l1,-2.4l1,-2.9l1,-3.4l1,-3.8l1,-4.1l1,-4.3l1,-4.5l1,-4.5l1,-4.4l1,-4.3l1,-4.1l1,-3.7l1,-3.2l1,-2.8l1,-2.2l1,-1.7l1,-1l1,-0.3l1,0.3l1,1l1,1.6l1,2.2l1,2.7l1,3.1l1,3.5l1,3.8l1,4.1l1,4.2l1,4.2l1,4.2l1,4.2l1,3.9l1,3.6l1,2.3l1,0.7l1,-0.9l1,-2.5l1,-4l1,-5.6l1,-6.7l1,-7.3l1,-7.7l1,-7.9l1,-8l1,-7.9l1,-7.7l1,-7.2l1,-6.7l1,-6l1,-5l1,-4.1l1,-3l1,-1.8l1,-0.6l1,0.6l1,1.8l1,3l1,4.1l1,5l1,6l1,6.8l1,7.3l1,7.9l1,8.1l1,8.2l1,8.2l1,8l1,7.5l1,7l1,6.2l1,5.4l1,4.4l1,3.3l1,2.2l1,0.9l1,0.1l1,0l1,0l1,0l1,0l1,0l1,0l1,0l1,0l1,0l1,0l1,0l1,0l1,0l1,0l1,0l1,0l1,0l1,0l1,0l1,0l1,0l1,0l1,-0.1l1,-0.5l1,-1.2l1,-1.8l1,-2.4l1,-2.8l1,-3.3l1,-3.6l1,-3.9l1,-4.2l1,-4.2l1,-4.3l1,-4.2l1,-4.1l1,-3.8l1,-3.5l1,-3.1l1,-2.6l1,-2.1l1,-1.6l1,-0.9l1,-0.3l1,0.3l1,0.9l1,1.5l1,2l1,2.4l1,2.8l1,3.1l1,3.4l1,3.7l1,3.8l1,3.8l1,3.9l1,3.9l1,3.7l1,3.5l1,2.8l1,1.2l1,-0.4l1,-2l1,-3.7l1,-5.2l1,-6.5l1,-7.3l1,-7.8l1,-8.1l1,-8.4l1,-8.5l1,-8.3l1,-8l1,-7.6l1,-6.9l1,-6.1l1,-5l1,-4l1,-2.8l1,-1.5l1,-0.2l1,1l1,2.3l1,3.5l1,4.6l1,5.6l1,6.6l1,7.4l1,7.9l1,8.5l1,8.7l1,8.7l1,8.7l1,8.4l1,7.9l1,7.3l1,6.5l1,5.5l1,4.6l1,3.3l1,2.2l1,0.9l1,0l1,0l1,0l1,0l1,0l1,0l1,0l1,0l1,0l1,0l1,0l1,0l1,0l1,0l1,0l1,0l1,0l1,0l1,0l1,0l1,0l1,0l1,-0.1l1,-0.8l1,-1.5l1,-2.1l1,-2.8l1,-3.3l1,-3.7l1,-4.2l1,-4.5l1,-4.7l1,-4.9l1,-4.8l1,-4.8l1,-4.6l1,-4.3l1,-4l1,-3.4l1,-3l1,-2.4l1,-1.7l1,-1l1,-0.4l1,0.4l1,1l1,1.7l1,2.2l1,2.6l1,3.1l1,3.5l1,3.8l1,4l1,4.3l1,4.3l1,4.4l1,4.3l1,4.2l1,3.9l1,2.8l1,1.2l1,-0.4l1,-2.1l1,-3.5l1,-5.1l1,-6.4l1,-7.2l1,-7.6l1,-7.9l1,-8l1,-8.1l1,-7.9l1,-7.6l1,-7.1l1,-6.4l1,-5.5l1,-4.6l1,-3.5l1,-2.3l1,-1.1l1,0.1l1,1.4l1,2.5l1,3.7l1,4.8l1,5.7l1,6.6l1,7.3l1,7.9l1,8.2l1,8.5l1,8.5l1,8.4l1,8.1l1,7.5l1,7l1,6.2l1,5.2l1,4.2l1,3.1l1,2l1,0.7l1,0l1,0l1,0l1,0l1,0l1,0l1,0l1,0l1,0l1,0l1,0l1,0l1,0l1,0l1,0l1,0l1,0l1,0l1,0l1,0l1,0l1,-0.2l1,-0.9l1,-1.5l1,-2.2l1,-2.7l1,-3.2l1,-3.7l1,-4.1l1,-4.3l1,-4.6l1,-4.6l1,-4.7l1,-4.6l1,-4.4l1,-4.1l1,-3.8l1,-3.3l1,-2.8l1,-2.3l1,-1.7l1,-1l1,-0.3l1,0.3l1,1l1,1.7l1,2.1l1,2.5l1,2.8l1,3.2l1,3.3l1,3.6l1,3.7l1,3.8l1,3.9l1,3.8l1,3.7l1,3.7l1,3.4l1,2.3l1,0.9l1,-0.8l1,-2.3l1,-3.9l1,-5.3l1,-6.2l1,-6.8l1,-7.3l1,-7.7l1,-7.9l1,-7.9l1,-8l1,-7.7l1,-7.3l1,-6.8l1,-5.8l1,-4.9l1,-3.8l1,-2.7l1,-1.5l1,-0.2l1,0.9l1,2.3l1,3.3l1,4.5l1,5.5l1,6.4l1,7.1l1,7.8l1,8.2l1,8.5l1,8.7l1,8.5l1,8.3l1,7.9l1,7.4l1,6.6l1,5.7l1,4.8l1,3.7l1,2.5l1,1.3l1,0.2l1,0l1,0l1,0l1,0l1,0l1,0l1,0l1,0l1,0l1,0l1,0l1,0l1,0l1,0l1,0l1,0l1,0l1,0l1,0l1,0l1,0l1,-0.1l1,-0.5l1,-0.7l1,-1l1,-1.2l1,-1.5l1,-1.6l1,-1.9l1,-1.9l1,-2l1,-2.1l1,-2.1l1,-2l1,-1.9l1,-1.8l1,-1.7l1,-1.5l1,-1.2l1,-1l1,-0.7l1,-0.5l1,-0.3l1,-0.2l1,0l1,0.1l1,0.3l1,0.5l1,0.6l1,1l1,1.1l1,1.3l1,1.5l1,1.8l1,1.9l1,1.4l1,0.5l1,-0.5l1,-1.4l1,-2.5l1,-3.3l1,-4.2l1,-5l1,-5.8l1,-6.4l1,-6.8l1,-6.9l1,-6.9l1,-6.8l1,-6.5l1,-5.9l1,-5.2l1,-4.5l1,-3.5l1,-2.6l1,-1.6l1,-0.5l1,0.5l1,1.6l1,2.6l1,3.5l1,4.5l1,5.2l1,5.9l1,6.5l1,7l1,7.2l1,7.4l1,7.4l1,7.3l1,6.9l1,6.6l1,5.9l1,5.3l1,4.5l1,3.6l1,2.6l1,1.6l1,0.6l1,0l1,0l1,0l1,0l1,0l1,0l1,0l1,0l1,0l1,0l1,0l1,0l1,0l1,0l1,0l1,0l1,0l1,0l1,0l1,0l1,0l1,0l1,0l1,0l1,0l1,-0.3l1,-0.6l1,-0.9l1,-1.2l1,-1.5l1,-1.7l1,-1.8l1,-2.1l1,-2.2l1,-2.2l1,-2.3l1,-2.3l1,-2.2l1,-2.1l1,-2l1,-1.7l1,-1.6l1,-1.3l1,-1l1,-0.8l1,-0.4l1,-0.1l1,0.2l1,0.6l1,0.8l1,1.2l1,1.4l1,1.6l1,1.9l1,2l1,2.2l1,2.2l1,2.3l1,2.3l1,2.1l1,1.6l1,1l1,0.4l1,-0.2l1,-0.9l1,-1.4l1,-2l1,-2.6l1,-3l1,-3.3l1,-3.3l1,-3.3l1,-3.2l1,-3l1,-2.8l1,-2.5l1,-2.2l1,-1.8l1,-1.4l1,-1l1,-0.5l1,-0.1l1,0.4l1,0.8l1,1.2l1,1.2l1,1.2l1,1.2l1,1l1,0.9l1,0.9l1,0.7l1,0.6l1,0.4l1,0.3l1,0.2l1,0l1,-0.1l1,-0.3l1,-0.4l1,-0.5l1,-0.7l1,-0.9l1,-0.9l1,-0.8l1,-0.4l1,0l1,0.3l1,0.7l1,1l1,1.4l1,1.7l1,2l1,2.3l1,2.5l1,2.7l1,2.8l1,2.8l1,2.9l1,2.8l1,2.7l1,2.5l1,1.3l1,-0.1l1,-1.6l1,-3l1,-4.3l1,-5.7l1,-6.7l1,-7.7l1,-8.2l1,-8.5l1,-8.6l1,-8.6l1,-8.4l1,-8l1,-7.6l1,-6.8l1,-6l1,-5.1l1,-4.1l1,-3l1,-1.8l1,-0.6l1,0.6l1,1.8l1,3l1,4.1l1,5.1l1,6l1,6.8l1,7.6l1,8l1,8.4l1,8.6l1,8.6l1,8.5l1,8.2l1,7.7l1,7.1l1,6.3l1,5.5l1,4.4l1,2.9l1,1.3l1,-0.4l1,-1.8l1,-2.2l1,-2.6l1,-2.9l1,-3.2l1,-3.3l1,-3.5l1,-3.5l1,-3.5l1,-3.4l1,-3.3l1,-3.1l1,-2.7l1,-2.5l1,-2.1l1,-1.6l1,-1.4l1,-0.9l1,-0.6l1,-0.2l1,0.3l1,0.7l1,1l1,0.8l1,0.4l1,-0.1l1,-0.4l1,-0.7l1,-1.1l1,-1.4l1,-1.7l1,-2l1,-2.2l1,-2.3l1,-2.6l1,-2.6l1,-2.7l1,-2.8l1,-2.8l1,-2.8l1,-2.7l1,-2.5l1,-2l1,-1.2l1,-0.4l1,0.4l1,1.3l1,2l1,2.8l1,3.5l1,4.1l1,4.7l1,5.1l1,5.5l1,5.8l1,5.9l1,5.9l1,5.9l1,5.6l1,5.3l1,5l1,4.4l1,3.8l1,3.1l1,2.4l1,1.6l1,0.8l1,0.1l1,0l1,0l1,0l1,0l1,0l1,0l1,0l1,0l1,0l1,0l1,0l1,0l1,0l1,0l1,0l1,0l1,0l1,0l1,0l1,0l1,0l1,0l1,0l1,0l1,0l1,-0.1l1,-0.4l1,-0.7l1,-1.1l1,-1.4l1,-1.6l1,-2l1,-2.1l1,-2.3l1,-2.5l1,-2.5l1,-2.6l1,-2.5l1,-2.5l1,-2.4l1,-2.2l1,-2l1,-1.8l1,-1.5l1,-1.2l1,-0.9l1,-0.5l1,-0.2l1,0.2l1,0.5l1,0.9l1,1.2l1,1.5l1,1.8l1,2l1,2.2l1,2.4l1,2.5l1,2.5l1,2.6l1,2.5l1,2.5l1,2.3l1,2.1l1,2l1,1.6l1,1.4l1,1.1l1,0.7l1,0.4l1,0.1l1,0l1,0l1,0l1,0l1,0l1,0l1,0l1,0l1,0l1,0l1,0l1,0l1,0l1,0l1,0l1,0l1,0l1,0l1,0l1,0l1,0l1,0l1,0l1,0l1,0l1,0l1,0l1,0l1,0l1,0l1,0l1,0l1,0l1,0l1,0l1,0l1,0l1,0l1,0l1,0l1,0l1,0l1,0l1,0l1,0l1,0l1,0l1,0l1,0l1,0l1,0l1,0l1,0l1,0l1,0l1,0l1,0l1,0l1,0l1,0l1,0l1,0l1,0l1,0l1,0l1,0l1,0l1,0l1,0l1,0l1,0l1,0l1,0l1,0l1,0l1,0l1,0l1,0l1,0l1,0l1,0l1,0l1,0l1,0l1,-0.5l1,-1.2l1,-2l1,-2.7l1,-3.3l1,-3.9l1,-4.4l1,-4.8l1,-5.2l1,-5.4l1,-5.5l1,-5.6l1,-5.5l1,-5.3l1,-5l1,-4.7l1,-4.2l1,-3.6l1,-3.1l1,-2.3l1,-1.7l1,-0.9l1,-0.2l1,0.6l1,1.4l1,2.1l1,2.8l1,3.4l1,4l1,4.5l1,4.9l1,5.2l1,5.4l1,5.5l1,5.6l1,5.5l1,5.2l1,4.7l1,3.7l1,2.6l1,1.5l1,0.3l1,-0.9l1,-2l1,-3.2l1,-4.2l1,-4.4l1,-4.7l1,-4.6l1,-4.6l1,-4.5l1,-4.3l1,-4l1,-3.6l1,-3.2l1,-2.7l1,-2.2l1,-1.5l1,-1l1,-0.3l1,0.3l1,1l1,1.5l1,2.2l1,2.7l1,3.2l1,3.6l1,4l1,4.3l1,4.5l1,4.6l1,4.6l1,4.7l1,4.4l1,4.3l1,4l1,3.5l1,3.2l1,2.6l1,2.1l1,1.5l1,0.9l1,0.3l1,0l1,0l1,0l1,0l1,0l1,0l1,0l1,0l1,0l1,0l1,0l1,0l1,0l1,0l1,0l1,0l1,0l1,0l1,0l1,0l1,-0.1l1,-0.5l1,-1.1l1,-1.6l1,-2.1l1,-2.6l1,-3l1,-3.4l1,-3.7l1,-3.9l1,-4.1l1,-4.2l1,-4.2l1,-4.1l1,-3.9l1,-3.7l1,-3.5l1,-3.1l1,-2.7l1,-2.2l1,-1.7l1,-1.2l1,-0.6l1,-0.1l1,0.6l1,1l1,1.6l1,2.1l1,2.4l1,2.6l1,2.7l1,2.9l1,3l1,2.8l1,2.4l1,2l1,1.7l1,1.2l1,0.9l1,0.4l1,0.1l1,-0.3l1,-0.7l1,-1.1l1,-1.4l1,-1.8l1,-2.1l1,-1.9l1,-1.8l1,-1.5l1,-1.3l1,-1.1l1,-0.8l1,-0.7l1,-0.4l1,-0.2l1,0.2l1,0.7l1,1.1l1,1.5l1,1.8l1,2.3l1,2.5l1,2.8l1,3l1,3.1l1,3.2l1,3.3l1,3.2l1,3.2l1,3l1,2.8l1,2.5l1,2.3l1,1.9l1,1.5l1,1.1l1,0.7l1,0.3l1,0l1,0l1,0l1,0l1,0l1,0l1,0l1,0l1,0l1,0l1,0l1,0l1,0l1,0l1,0l1,0l1,0l1,0l1,0l1,0l1,0l1,0l1,0l1,0l1,0l1,0l1,0l1,0l1,0l1,0l1,0l1,0l1,0l1,0l1,0l1,0l1,0l1,0l1,0l1,0l1,0l1,0l1,0l1,0l1,0l1,0l1,0l1,0l1,0l1,0l1,0l1,0l1,0l1,0l1,0l1,0l1,0l1,0l1,0l1,0l1,0l1,0l1,0l1,0l1,0l1,0l1,0l1,0l1,0l1,0l1,0l1,0l1,0l1,0l1,0l1,0l1,0l1,0l1,0l1,0l1,0l1,0l1,0l1,0l1,0l1,0l1,0l1,0l1,0l1,0l1,0l1,0l1,0l1,0l1,0l1,0l1,0l1,0l1,0l1,0l1,0l1,0l1,0l1,0l1,0l1,0l1,0l1,0l1,0l1,0l1,0l1,0l1,0l1,0l1,0l1,0l1,0l1,0l1,0l1,-0.4l1,-1.5l1,-2.5l1,-3.5l1,-4.4l1,-5.2l1,-6l1,-6.7l1,-7.1l1,-7.6l1,-7.8l1,-7.9l1,-7.9l1,-7.7l1,-7.4l1,-7l1,-6.4l1,-5.7l1,-4.9l1,-4.1l1,-3.1l1,-2.1l1,-1.1l1,0l1,1.1l1,2.1l1,3.1l1,4.1l1,4.9l1,5.7l1,6.4l1,7l1,7.4l1,7.7l1,7.9l1,7.9l1,7.8l1,7.6l1,7.1l1,6.7l1,6l1,5.2l1,4.4l1,3.5l1,2.5l1,1.5l1,0.4l1,0l1,0l1,0l1,0l1,0l1,0l1,0l1,0l1,0l1,0l1,0l1,0l1,0l1,0l1,0l1,0l1,0l1,0l1,0l1,0l1,0l1,0l1,0l1,0l1,0l1,0l1,0l1,0l1,0" fill="none" stroke="#2a2a2a" stroke-width="2.3" stroke-linejoin="round"/>
<line x1="19" y1="841.5" x2="1652" y2="841.5" stroke="#e2e2e2" stroke-width="2"/>
<path d="M19,837.5v0l1,0l1,0l1,0l1,0l1,0l1,0l1,0l1,0l1,0l1,0l1,0l1,0l1,0l1,0l1,0l1,0l1,0l1,0l1,0l1,0l1,0l1,0l1,0l1,0l1,0l1,0l1,0l1,0l1,0l1,0l1,0l1,0l1,0l1,0l1,0l1,0l1,0l1,0l1,0l1,0l1,0l1,0l1,0l1,0l1,0l1,0l1,0l1,0l1,0l1,0l1,0l1,0l1,0l1,0l1,0l1,0l1,0l1,0l1,0l1,0l1,0l1,0l1,0l1,0l1,0l1,0l1,0l1,0l1,0l1,0l1,0l1,0l1,0l1,0l1,0l1,0l1,0l1,0l1,0l1,0l1,0l1,0l1,0l1,0l1,0l1,0l1,0l1,0l1,0l1,0l1,0l1,0l1,0l1,0l1,0l1,0l1,0l1,0l1,0l1,0l1,0l1,0l1,0l1,0l1,0l1,0l1,0l1,0l1,0l1,0l1,0l1,0l1,0l1,0l1,0l1,0l1,0l1,0l1,0l1,0l1,0l1,0l1,0l1,0l1,0l1,0l1,0l1,0l1,0l1,0l1,0l1,0l1,0l1,0l1,0l1,0l1,0l1,0l1,0l1,0l1,0l1,0l1,0l1,0l1,0l1,0l1,0l1,0l1,0l1,0l1,0l1,0l1,0l1,0l1,0l1,0l1,0l1,0l1,0l1,0l1,0l1,0l1,0l1,0l1,0l1,0l1,0l1,0l1,0l1,0l1,0l1,0l1,0l1,0l1,0l1,0l1,0l1,0l1,0l1,0l1,0l1,0l1,0l1,0l1,0l1,0l1,0l1,0l1,0l1,0l1,0l1,0l1,0l1,0l1,0l1,0l1,0l1,0l1,0l1,0l1,0l1,0l1,0l1,0l1,0l1,0l1,0l1,0l1,0l1,0l1,0l1,0l1,0l1,0l1,0l1,0l1,0l1,0l1,0l1,0l1,0l1,0l1,0l1,0l1,0l1,0l1,0l1,0l1,0l1,0l1,0l1,0l1,0l1,0l1,0l1,0l1,0l1,0l1,0l1,0l1,0l1,0l1,0l1,0l1,0l1,0l1,0l1,0l1,0l1,0l1,0l1,0l1,0l1,0l1,0l1,0l1,0l1,0l1,-0.1l1,-0.3l1,-0.3l1,-0.4l1,-0.6l1,-0.6l1,-0.7l1,-0.7l1,-0.8l1,-0.9l1,-0.9l1,-0.8l1,-0.9l1,-0.9l1,-0.8l1,-0.8l1,-0.7l1,-0.7l1,-0.5l1,-0.5l1,-0.4l1,-0.3l1,-0.1l1,-0.1l1,0.1l1,0.1l1,0.3l1,0.4l1,0.5l1,0.5l1,0.7l1,0.7l1,0.6l1,0.4l1,0.3l1,0.1l1,-0.1l1,-0.3l1,-0.4l1,-0.6l1,-0.7l1,-0.9l1,-1l1,-1.1l1,-1.2l1,-1.3l1,-1.3l1,-1.3l1,-1.4l1,-1.2l1,-1l1,-0.9l1,-0.8l1,-0.5l1,-0.3l1,-0.1l1,0.1l1,0.3l1,0.5l1,0.8l1,0.9l1,1l1,1.2l1,1.4l1,1.5l1,1.5l1,1.6l1,1.6l1,1.7l1,1.6l1,1.6l1,1.5l1,1.4l1,1.2l1,1.2l1,0.9l1,0.8l1,0.6l1,0.4l1,0.2l1,0l1,0l1,0l1,0l1,0l1,0l1,-0.3l1,-0.9l1,-1.3l1,-1.8l1,-2.1l1,-2.4l1,-2.6l1,-2.7l1,-2.7l1,-2.5l1,-2.4l1,-2.1l1,-1.7l1,-1.3l1,-0.7l1,-0.3l1,0.3l1,0.7l1,1.3l1,1.5l1,1.3l1,1.3l1,1l1,0.9l1,0.6l1,0.4l1,0.1l1,-0.3l1,-0.4l1,-0.8l1,-0.9l1,-1.2l1,-1.1l1,-0.7l1,-0.2l1,0.2l1,0.7l1,1.1l1,1.5l1,1.8l1,2.1l1,2.2l1,2.3l1,2.4l1,2.2l1,2.1l1,1.8l1,1.5l1,0.6l1,-0.2l1,-1.2l1,-1.8l1,-2.2l1,-2.5l1,-2.7l1,-2.8l1,-2.9l1,-2.7l1,-2.6l1,-2.4l1,-2.1l1,-1.7l1,-1.2l1,-0.7l1,-0.3l1,0.3l1,0.7l1,1.2l1,1.7l1,2.1l1,2.4l1,2.6l1,2.7l1,2.9l1,2.8l1,2.7l1,2.5l1,2.1l1,1.4l1,0.5l1,-0.5l1,-1.4l1,-2.3l1,-2.6l1,-2.8l1,-2.9l1,-3l1,-2.9l1,-2.8l1,-2.5l1,-2.2l1,-1.7l1,-1.3l1,-0.8l1,-0.3l1,0.3l1,0.8l1,1.3l1,1.7l1,2.2l1,2.5l1,2.8l1,2.9l1,3l1,2.9l1,2.8l1,2.2l1,1.4l1,0.5l1,-0.4l1,-1.3l1,-2.1l1,-2.8l1,-2.9l1,-3l1,-2.9l1,-2.7l1,-2.5l1,-2.2l1,-1.7l1,-1.3l1,-0.8l1,-0.3l1,0.3l1,0.8l1,1.3l1,1.7l1,2.2l1,2.5l1,2.7l1,2.9l1,2.5l1,2l1,1.5l1,0.9l1,0.4l1,-0.4l1,-0.9l1,-1.5l1,-2l1,-2.3l1,-2.2l1,-2l1,-1.6l1,-1.3l1,-0.9l1,-0.5l1,-0.1l1,0.4l1,0.9l1,1.2l1,1.6l1,1.9l1,2.1l1,2.3l1,2.4l1,2.5l1,2.2l1,2l1,1.6l1,1.2l1,0.8l1,0.3l1,-0.2l1,-0.7l1,-0.8l1,-0.8l1,-0.8l1,-0.7l1,-0.6l1,-0.4l1,-0.4l1,-0.2l1,-0.1l1,0.1l1,0.2l1,0.4l1,0.4l1,0.6l1,0.7l1,0.6l1,0.2l1,-0.1l1,-0.4l1,-0.8l1,-1.1l1,-1.3l1,-1.5l1,-1.8l1,-1.8l1,-1.8l1,-1.8l1,-1.6l1,-1.2l1,-0.9l1,-0.6l1,-0.2l1,0.2l1,0.6l1,0.9l1,1.2l1,1.6l1,1.8l1,1.9l1,2l1,2.1l1,2.1l1,1.7l1,1.2l1,0.5l1,-0.3l1,-0.8l1,-1.5l1,-2.1l1,-2.5l1,-2.4l1,-2.5l1,-2.3l1,-2.1l1,-1.8l1,-1.5l1,-1.1l1,-0.7l1,-0.2l1,0.2l1,0.7l1,1.1l1,1.5l1,1.8l1,2.1l1,2.3l1,2.5l1,2.4l1,2.5l1,2.2l1,2.1l1,1.8l1,1.4l1,1.1l1,0.5l1,-0.4l1,-1l1,-1.3l1,-1.7l1,-2l1,-2.2l1,-2.4l1,-2.4l1,-2.3l1,-2.3l1,-2l1,-1.8l1,-1.4l1,-1.1l1,-0.7l1,-0.2l1,0.2l1,0.7l1,1.1l1,1.4l1,1.8l1,2l1,2.3l1,2.3l1,2.4l1,2.4l1,2.2l1,2l1,1.7l1,1.2l1,0.4l1,-0.6l1,-1.4l1,-2.1l1,-2.4l1,-2.7l1,-2.9l1,-3.1l1,-3.1l1,-3l1,-2.9l1,-2.6l1,-2.3l1,-2l1,-1.5l1,-1l1,-0.5l1,0.1l1,0.6l1,1.1l1,1.6l1,2l1,2.4l1,2.7l1,2.9l1,2.9l1,2.7l1,2.3l1,2l1,1.5l1,1l1,0.4l1,0l1,-0.7l1,-1.1l1,-1.5l1,-1.5l1,-1.4l1,-1.2l1,-0.9l1,-0.7l1,-0.5l1,-0.1l1,0.1l1,0.5l1,0.7l1,0.9l1,1.2l1,1.4l1,1.5l1,1.5l1,1.7l1,1.6l1,1.6l1,1.5l1,1.4l1,1.1l1,0.7l1,-0.1l1,-0.7l1,-1.3l1,-1.8l1,-2.1l1,-2.2l1,-2.4l1,-2.4l1,-2.4l1,-2.3l1,-2.1l1,-1.9l1,-1.6l1,-1.3l1,-0.9l1,-0.4l1,-0.1l1,0.4l1,0.8l1,1.2l1,1.5l1,1.9l1,2.1l1,2.2l1,2.4l1,2.4l1,2.4l1,2.3l1,2.1l1,1.8l1,1.6l1,1.2l1,0.8l1,0.4l1,0l1,0l1,-0.4l1,-1.1l1,-1.7l1,-2.1l1,-2.7l1,-3l1,-3.4l1,-3.5l1,-3.6l1,-3.5l1,-3.4l1,-3.2l1,-2.8l1,-2.3l1,-1.8l1,-1.3l1,-0.6l1,0l1,0.6l1,1.3l1,1.8l1,2.3l1,2.8l1,3.2l1,3.4l1,3.5l1,3.6l1,3.5l1,3.4l1,3l1,2.7l1,2.1l1,1.7l1,1.1l1,0.3l1,-0.5l1,-0.9l1,-1.3l1,-1.6l1,-1.8l1,-2l1,-2.2l1,-2.3l1,-2.3l1,-2.2l1,-2l1,-1.9l1,-1.6l1,-1.2l1,-0.9l1,-0.6l1,-0.1l1,0.3l1,0.7l1,1l1,1.4l1,1.7l1,2l1,2.1l1,2.2l1,2.3l1,2.3l1,2.1l1,2l1,1.7l1,1.5l1,1.1l1,0.7l1,0.4l1,0l1,0l1,0l1,0l1,-0.3l1,-0.6l1,-0.8l1,-1.1l1,-1.4l1,-1.5l1,-1.6l1,-1.7l1,-1.7l1,-1.6l1,-1.6l1,-1.4l1,-1.2l1,-1l1,-0.8l1,-0.4l1,-0.2l1,0.2l1,0.4l1,0.8l1,1l1,1.2l1,1.4l1,1.6l1,1.6l1,1.4l1,1l1,0.5l1,0.1l1,-0.3l1,-0.8l1,-1.2l1,-1.6l1,-1.9l1,-2.1l1,-2l1,-1.8l1,-1.6l1,-1.3l1,-0.9l1,-0.6l1,-0.2l1,0.2l1,0.6l1,0.9l1,1.3l1,1.6l1,1.8l1,2l1,2.2l1,2.1l1,2.2l1,2l1,1.9l1,1.7l1,1.4l1,1.1l1,0.7l1,0.3l1,0l1,0l1,0l1,0l1,0l1,0l1,-0.1l1,-0.5l1,-0.9l1,-1.4l1,-1.7l1,-2l1,-2.3l1,-2.4l1,-2.6l1,-2.5l1,-2.4l1,-2.3l1,-2.1l1,-1.7l1,-1.4l1,-0.9l1,-0.5l1,-0.1l1,0.5l1,0.8l1,1.3l1,1.7l1,1.9l1,2.3l1,2.4l1,2.5l1,2.6l1,2.4l1,2.3l1,2.1l1,1.6l1,0.1l1,-1.6l1,-3.3l1,-4.8l1,-6l1,-6.9l1,-7.7l1,-8.4l1,-9l1,-9.3l1,-9.5l1,-9.5l1,-9.4l1,-9.1l1,-8.7l1,-8l1,-7.3l1,-6.4l1,-5.4l1,-4.2l1,-3.2l1,-1.9l1,-0.6l1,0.6l1,1.9l1,3.2l1,4.2l1,5l1,5.5l1,5.7l1,5.7l1,5.8l1,5.6l1,5.4l1,5.1l1,4.7l1,4.3l1,3.8l1,3.2l1,2.7l1,1.9l1,1.3l1,0.5l1,-0.2l1,-1.1l1,-1.9l1,-2.6l1,-2.4l1,-1.9l1,-1.6l1,-1.1l1,-0.8l1,-0.5l1,-0.2l1,0.1l1,0.4l1,0.5l1,0.7l1,1l1,1.1l1,1.4l1,1.5l1,1.7l1,1.9l1,1.9l1,2.2l1,2.2l1,2.2l1,2.4l1,2.3l1,2.4l1,2.3l1,2.4l1,2.2l1,2.2l1,2.1l1,1.9l1,1.8l1,1.6l1,1.5l1,1.3l1,1l1,0.8l1,0.6l1,0.6l1,0.9l1,1.1l1,1.3l1,1.5l1,1.6l1,1.8l1,2l1,2l1,2l1,2.1l1,2.1l1,2.1l1,2l1,1.9l1,1.8l1,1.6l1,1.5l1,1.3l1,1l1,0.9l1,0.6l1,0.3l1,0.1l1,0l1,0l1,0l1,0l1,0l1,0l1,0l1,-0.2l1,-0.4l1,-0.8l1,-1l1,-1.3l1,-1.5l1,-1.7l1,-1.8l1,-2l1,-2l1,-2.1l1,-2l1,-2l1,-1.8l1,-1.7l1,-1.5l1,-1.3l1,-1l1,-0.8l1,-0.4l1,-0.2l1,0.2l1,0.4l1,0.8l1,1l1,1.3l1,1.5l1,1.7l1,1.8l1,2l1,2l1,2.1l1,2l1,2l1,1.8l1,1.7l1,1.5l1,1.3l1,1l1,0.8l1,0.4l1,0.2l1,0l1,0l1,0l1,0l1,0l1,0l1,0l1,0l1,0l1,0l1,0l1,0l1,0l1,-0.2l1,-0.7l1,-1.4l1,-1.9l1,-2.5l1,-3l1,-3.4l1,-3.8l1,-4.1l1,-4.4l1,-4.4l1,-4.6l1,-4.4l1,-4.4l1,-4.2l1,-3.9l1,-3.5l1,-3.2l1,-2.6l1,-2.1l1,-1.6l1,-0.9l1,-0.3l1,0.3l1,0.9l1,1.6l1,2.1l1,2.6l1,3.2l1,3.5l1,3.8l1,4l1,4.1l1,4.2l1,4.1l1,4l1,3.9l1,3.7l1,3.4l1,3l1,2.7l1,2.3l1,1.8l1,0.9l1,-0.5l1,-1.9l1,-2.7l1,-3.4l1,-4l1,-4.5l1,-4.8l1,-5.2l1,-5.3l1,-5.4l1,-5.3l1,-5.1l1,-4.8l1,-4.3l1,-3.8l1,-3.2l1,-2.4l1,-1.7l1,-0.8l1,0l1,1l1,1.3l1,1.1l1,0.8l1,0.5l1,0.3l1,0l1,-0.3l1,-0.6l1,-0.8l1,-1l1,-1.2l1,-1.5l1,-1.6l1,-1.7l1,-1.8l1,-1.9l1,-1.9l1,-1.9l1,-1.4l1,-0.4l1,0.6l1,1.6l1,2.7l1,3.6l1,4.5l1,5.2l1,5.9l1,6.4l1,6.7l1,6.9l1,6.9l1,6.7l1,6.3l1,5.9l1,5.2l1,4.4l1,3.5l1,2.6l1,1.5l1,0.4l1,0l1,0l1,0l1,0l1,0l1,0l1,0l1,0l1,0l1,0l1,0l1,0l1,0l1,0l1,0l1,0l1,0l1,0l1,0l1,0l1,0l1,0l1,0l1,0l1,0l1,0l1,0l1,0l1,0l1,0l1,0l1,0l1,0l1,0l1,0l1,0l1,0l1,0l1,0l1,0l1,0l1,0l1,0l1,0l1,0l1,0l1,0l1,0l1,0l1,0l1,0l1,0l1,0l1,0l1,0l1,0l1,0l1,0l1,0l1,0l1,0l1,0l1,0l1,0l1,0l1,0l1,0l1,0l1,0l1,0l1,0l1,0l1,0l1,0l1,0l1,0l1,0l1,0l1,0l1,0l1,0l1,0l1,0l1,0l1,0l1,0l1,0l1,0l1,0l1,0l1,0l1,0l1,0l1,0l1,0l1,0l1,0l1,0l1,0l1,0l1,0l1,0l1,0l1,0l1,0l1,0l1,0l1,-0.1l1,-1l1,-2.1l1,-3l1,-3.7l1,-4.5l1,-4.8l1,-5l1,-4.9l1,-4.7l1,-4.2l1,-3.4l1,-2.6l1,-1.7l1,-0.5l1,0.5l1,1.7l1,2.6l1,3.4l1,4.2l1,4.7l1,4.9l1,5l1,4.8l1,4.5l1,3.5l1,2.1l1,0.7l1,-0.8l1,-2l1,-2.3l1,-2.3l1,-2.1l1,-1.8l1,-1.4l1,-0.9l1,-0.3l1,0.3l1,0.9l1,1.4l1,1.8l1,2.1l1,2.3l1,2.3l1,2.1l1,1.8l1,1.4l1,0.8l1,0.3l1,0l1,0l1,0l1,0l1,0l1,0l1,0l1,0l1,0l1,0l1,0l1,0l1,0l1,0l1,0l1,0l1,0l1,0l1,0l1,0l1,0l1,0l1,0l1,0l1,0l1,0l1,0l1,0l1,0l1,0l1,0l1,0l1,0l1,0l1,0l1,0l1,0l1,0l1,0l1,0l1,0l1,0l1,0l1,0l1,0l1,0l1,0l1,0l1,0l1,0l1,0l1,0l1,0l1,0l1,0l1,0l1,0l1,0l1,0l1,-0.2l1,-0.4l1,-0.5l1,-0.6l1,-0.8l1,-1l1,-1l1,-1l1,-1.1l1,-1.1l1,-1.1l1,-1l1,-1l1,-0.8l1,-0.7l1,-0.6l1,-0.3l1,-0.3l1,0l1,0.2l1,0.3l1,0.5l1,0.6l1,0.8l1,0.9l1,1l1,1l1,1.1l1,1.1l1,1.1l1,1l1,1l1,0.9l1,0.7l1,0.6l1,0.4l1,0.2l1,0.1l1,0l1,0l1,0l1,0l1,0l1,0l1,0l1,0l1,0l1,0l1,0l1,0l1,0l1,0l1,0l1,0l1,0l1,0l1,0l1,0l1,0l1,0l1,0l1,0l1,0l1,0l1,0l1,0l1,0l1,0l1,0l1,0l1,0l1,0l1,0l1,0l1,0l1,0l1,0l1,0l1,0l1,0l1,0l1,0l1,0l1,0l1,0l1,0l1,0l1,0l1,0l1,0l1,0l1,0l1,0l1,0l1,0l1,0l1,0l1,0l1,0l1,0l1,0l1,0l1,0l1,0l1,0l1,0l1,-0.2l1,-0.4l1,-0.7l1,-0.9l1,-1.1l1,-1.3l1,-1.4l1,-1.5l1,-1.6l1,-1.6l1,-1.5l1,-1.4l1,-1.4l1,-1.1l1,-1l1,-0.8l1,-0.5l1,-0.3l1,0l1,0.3l1,0.5l1,0.8l1,1l1,1.1l1,1.4l1,1.4l1,1.5l1,1.6l1,1.6l1,1.5l1,1.4l1,1.3l1,1.1l1,0.9l1,0.7l1,0.4l1,0.2l1,0l1,0l1,0l1,0l1,0l1,0l1,0l1,0l1,0l1,0l1,0l1,0l1,0l1,0l1,0l1,0l1,0l1,0l1,0l1,0l1,0l1,0l1,0l1,0l1,0l1,0l1,0l1,0l1,0l1,0l1,0l1,0l1,0l1,0l1,0l1,0l1,0l1,0l1,0l1,0l1,0l1,0l1,0l1,0l1,0l1,0l1,0l1,0l1,0l1,0l1,0l1,0l1,0l1,0l1,0l1,0l1,0l1,0l1,0l1,0l1,0l1,0l1,0l1,0l1,0l1,0l1,0l1,0l1,0l1,0l1,0l1,0l1,0l1,0l1,0l1,0l1,0l1,0l1,0l1,0l1,0l1,0l1,0l1,0l1,0l1,0l1,0l1,0l1,0l1,0l1,0l1,0l1,0l1,-0.3l1,-0.5l1,-0.9l1,-1.1l1,-1.3l1,-1.5l1,-1.7l1,-1.7l1,-1.8l1,-1.8l1,-1.7l1,-1.6l1,-1.4l1,-1.1l1,-1l1,-0.7l1,-0.3l1,-0.1l1,0.3l1,0.5l1,0.8l1,1.1l1,1.4l1,1.5l1,1.6l1,1.8l1,1.7l1,1.8l1,1.7l1,1.6" fill="none" stroke="#2aee2a" stroke-width="2.3" stroke-linejoin="round"/>
<path d="M19,839.5v0l1,0l1,0l1,0l1,0l1,0l1,0l1,0l1,0l1,0l1,0l1,0l1,0l1,0l1,0l1,0l1,0l1,0l1,0l1,0l1,0l1,0l1,0l1,0l1,0l1,0l1,0l1,0l1,0l1,0l1,0l1,0l1,0l1,0l1,0l1,0l1,0l1,0l1,0l1,0l1,0l1,0l1,0l1,0l1,0l1,0l1,0l1,0l1,0l1,0l1,0l1,0l1,0l1,0l1,0l1,0l1,0l1,0l1,0l1,0l1,0l1,0l1,0l1,0l1,0l1,0l1,0l1,0l1,0l1,0l1,0l1,0l1,0l1,0l1,0l1,0l1,0l1,0l1,0l1,0l1,0l1,0l1,0l1,0l1,0l1,0l1,0l1,0l1,0l1,0l1,0l1,0l1,0l1,0l1,0l1,0l1,0l1,0l1,0l1,0l1,0l1,-0.4l1,-1.4l1,-2.2l1,-3.1l1,-4l1,-4.7l1,-5.3l1,-6l1,-6.5l1,-6.8l1,-7.1l1,-7.3l1,-7.3l1,-7.3l1,-7l1,-6.8l1,-6.3l1,-5.7l1,-5.2l1,-4.5l1,-3.6l1,-2.9l1,-1.9l1,-1l1,-0.1l1,0.8l1,1.8l1,2.6l1,3.5l1,4.3l1,5.1l1,5.6l1,6.2l1,6.7l1,7l1,7.2l1,7.3l1,7.3l1,7.2l1,6.9l1,6.5l1,6.1l1,5.5l1,4.9l1,4.1l1,3.2l1,2.5l1,1.5l1,0.6l1,0l1,0l1,0l1,0l1,0l1,0l1,0l1,0l1,0l1,0l1,0l1,0l1,0l1,0l1,0l1,0l1,0l1,0l1,0l1,0l1,0l1,0l1,0l1,0l1,0l1,0l1,0l1,0l1,0l1,0l1,0l1,0l1,0l1,0l1,0l1,0l1,0l1,0l1,0l1,0l1,0l1,0l1,0l1,0l1,0l1,0l1,0l1,0l1,0l1,0l1,0l1,0l1,0l1,0l1,0l1,0l1,0l1,0l1,0l1,0l1,0l1,0l1,0l1,0l1,0l1,0l1,0l1,0l1,0l1,0l1,0l1,0l1,0l1,0l1,0l1,0l1,0l1,0l1,0l1,0l1,0l1,0l1,0l1,0l1,0l1,0l1,0l1,0l1,0l1,0l1,0l1,0l1,0l1,0l1,0l1,0l1,0l1,0l1,0l1,0l1,0l1,0l1,0l1,0l1,0l1,0l1,0l1,0l1,0l1,0l1,0l1,0l1,0l1,0l1,0l1,0l1,0l1,-0.1l1,-0.2l1,-0.2l1,-0.4l1,-0.4l1,-0.5l1,-0.5l1,-0.6l1,-0.6l1,-0.7l1,-0.7l1,-0.7l1,-0.7l1,-0.6l1,-0.7l1,-0.6l1,-0.6l1,-0.5l1,-0.4l1,-0.4l1,-0.3l1,-0.2l1,-0.2l1,0l1,0l1,0.2l1,0.2l1,0.3l1,0.4l1,0.4l1,0.5l1,0.6l1,0.6l1,0.7l1,0.6l1,0.7l1,0.7l1,0.7l1,0.7l1,0.5l1,0.4l1,0.2l1,0.1l1,-0.1l1,-0.3l1,-0.4l1,-0.5l1,-0.7l1,-0.9l1,-0.8l1,-0.9l1,-0.9l1,-0.8l1,-0.8l1,-0.8l1,-0.7l1,-0.7l1,-0.5l1,-0.5l1,-0.4l1,-0.3l1,-0.1l1,-0.1l1,0.1l1,0.1l1,0.3l1,0.4l1,0.5l1,0.5l1,0.7l1,0.6l1,0.7l1,0.6l1,0.6l1,0.6l1,0.5l1,0.4l1,0.4l1,0.3l1,0.2l1,0.1l1,0.1l1,-0.1l1,-0.1l1,-0.2l1,-0.3l1,-0.4l1,-0.4l1,-0.3l1,-0.3l1,-0.3l1,-0.2l1,-0.1l1,0l1,0l1,0.1l1,0.2l1,0.3l1,0.3l1,0.3l1,0.4l1,0.3l1,0l1,-0.2l1,-0.3l1,-0.6l1,-0.6l1,-0.9l1,-0.9l1,-1.1l1,-1.1l1,-1.1l1,-1.2l1,-1.1l1,-1.1l1,-1l1,-0.9l1,-0.7l1,-0.6l1,-0.4l1,-0.1l1,0.1l1,0.4l1,0.5l1,0.8l1,0.9l1,1l1,1.1l1,1.2l1,1.2l1,1.3l1,1.2l1,1.2l1,1.1l1,1l1,0.9l1,0.7l1,0.5l1,0.4l1,0.1l1,0l1,-0.3l1,-0.2l1,-0.1l1,-0.1l1,-0.1l1,0l1,0l1,0.1l1,0.1l1,0.2l1,0.2l1,0.3l1,0.3l1,0.3l1,0.3l1,0.4l1,0.4l1,0.3l1,0.4l1,0.4l1,0.3l1,0.4l1,0.3l1,0.2l1,0.3l1,0.2l1,0.1l1,0.1l1,0.1l1,0l1,0l1,0l1,0l1,0l1,0l1,0l1,0l1,0l1,0l1,0l1,0l1,0l1,0l1,0l1,0l1,0l1,0l1,0l1,0l1,0l1,0l1,0l1,0l1,0l1,0l1,0l1,0l1,0l1,0l1,0l1,0l1,0l1,0l1,0l1,0l1,0l1,0l1,0l1,0l1,0l1,0l1,0l1,0l1,0l1,0l1,0l1,0l1,0l1,0l1,0l1,0l1,0l1,0l1,0l1,0l1,0l1,0l1,0l1,0l1,0l1,0l1,0l1,0l1,0l1,0l1,0l1,0l1,0l1,0l1,0l1,0l1,0l1,0l1,0l1,0l1,0l1,0l1,0l1,0l1,0l1,0l1,0l1,0l1,0l1,0l1,0l1,0l1,0l1,0l1,0l1,0l1,0l1,0l1,0l1,0l1,0l1,0l1,0l1,0l1,0l1,0l1,0l1,0l1,0l1,0l1,0l1,0l1,0l1,0l1,0l1,0l1,0l1,0l1,0l1,0l1,0l1,0l1,0l1,0l1,0l1,0l1,0l1,0l1,0l1,0l1,0l1,0l1,0l1,0l1,0l1,0l1,0l1,0l1,0l1,0l1,0l1,0l1,0l1,0l1,0l1,0l1,0l1,0l1,0l1,0l1,-0.1l1,-0.2l1,-0.4l1,-0.5l1,-0.6l1,-0.7l1,-0.8l1,-0.9l1,-0.9l1,-1l1,-0.9l1,-1l1,-1l1,-0.9l1,-0.9l1,-0.9l1,-0.7l1,-0.7l1,-0.5l1,-0.4l1,-0.3l1,-0.2l1,0l1,0.1l1,0.3l1,0.3l1,0.5l1,0.6l1,0.7l1,0.8l1,0.9l1,0.9l1,1l1,1l1,1l1,0.9l1,1l1,0.9l1,0.8l1,0.7l1,0.7l1,0.5l1,0.4l1,0.3l1,0.2l1,0l1,0l1,0l1,0l1,0l1,0l1,0l1,0l1,0l1,0l1,0l1,0l1,0l1,0l1,0l1,0l1,0l1,0l1,0l1,0l1,0l1,0l1,0l1,0l1,0l1,0l1,0l1,0l1,0l1,0l1,0l1,0l1,0l1,0l1,0l1,0l1,0l1,0l1,0l1,0l1,-0.1l1,-0.1l1,-0.2l1,-0.2l1,-0.3l1,-0.3l1,-0.4l1,-0.3l1,-0.5l1,-0.4l1,-0.5l1,-0.5l1,-0.4l1,-0.5l1,-0.5l1,-0.5l1,-0.4l1,-0.5l1,-0.3l1,-0.4l1,-0.3l1,-0.3l1,-0.2l1,-0.2l1,-0.1l1,-0.1l1,0l1,0l1,0.1l1,0.2l1,0.2l1,0.3l1,0.3l1,0.3l1,0.4l1,0.4l1,0.4l1,0.5l1,0.5l1,0.5l1,0.4l1,0.5l1,0.5l1,0.5l1,0.4l1,0.4l1,0.4l1,0.3l1,0.3l1,0.2l1,0.2l1,0.2l1,0.1l1,0l1,0l1,0l1,0l1,0l1,0l1,0l1,0l1,0l1,0l1,0l1,0l1,0l1,0l1,0l1,0l1,0l1,0l1,0l1,0l1,0l1,0l1,0l1,0l1,0l1,0l1,0l1,0l1,0l1,0l1,0l1,0l1,0l1,0l1,0l1,0l1,0l1,0l1,0l1,0l1,0l1,0l1,0l1,0l1,0l1,0l1,0l1,0l1,0l1,0l1,0l1,0l1,0l1,0l1,0l1,0l1,0l1,0l1,-0.1l1,-0.2l1,-0.2l1,-0.3l1,-0.3l1,-0.4l1,-0.4l1,-0.4l1,-0.5l1,-0.5l1,-0.4l1,-0.5l1,-0.4l1,-0.4l1,-0.4l1,-0.3l1,-0.3l1,-0.2l1,-0.2l1,-0.1l1,0l1,0l1,0l1,0l1,-0.1l1,-0.1l1,-0.1l1,-0.2l1,-0.2l1,-0.3l1,-0.3l1,-0.3l1,-0.3l1,-0.3l1,-0.3l1,-0.3l1,-0.3l1,-0.3l1,-0.2l1,-0.3l1,-0.1l1,-0.2l1,-0.1l1,0l1,0.1l1,0.2l1,0.3l1,0.4l1,0.5l1,0.6l1,0.6l1,0.7l1,0.7l1,0.8l1,0.8l1,0.7l1,0.8l1,0.7l1,0.6l1,0.6l1,0.6l1,0.4l1,0.3l1,0.3l1,0.1l1,0l1,0l1,0l1,0l1,0l1,0l1,0l1,0l1,0l1,0l1,0l1,0l1,0l1,0l1,0l1,0l1,0l1,0l1,0l1,0l1,0l1,0l1,0l1,0l1,0l1,0l1,-0.2l1,-0.3l1,-0.5l1,-0.7l1,-0.7l1,-0.9l1,-1l1,-1l1,-1.1l1,-1.1l1,-1.1l1,-1.2l1,-1l1,-1l1,-0.9l1,-0.8l1,-0.7l1,-0.6l1,-0.4l1,-0.2l1,-0.1l1,0.1l1,0.2l1,0.4l1,0.6l1,0.7l1,0.8l1,0.9l1,1l1,1l1,1.1l1,1.1l1,0.9l1,0.8l1,0.6l1,0.5l1,0.3l1,0.1l1,0l1,-0.2l1,-0.4l1,-0.6l1,-0.6l1,-0.7l1,-0.7l1,-0.6l1,-0.5l1,-0.5l1,-0.3l1,-0.3l1,-0.1l1,-0.1l1,0.1l1,0.1l1,0.3l1,0.3l1,0.5l1,0.5l1,0.6l1,0.7l1,0.7l1,0.7l1,0.7l1,0.7l1,0.7l1,0.7l1,0.6l1,0.6l1,0.5l1,0.4l1,0.3l1,0.2l1,0.1l1,0l1,0l1,0l1,0l1,0l1,0l1,0l1,0l1,0l1,0l1,0l1,0l1,0l1,0l1,0l1,0l1,0l1,0l1,0l1,0l1,0l1,0l1,0l1,0l1,0l1,0l1,0l1,0l1,0l1,0l1,0l1,0l1,0l1,0l1,0l1,0l1,0l1,0l1,0l1,0l1,0l1,0l1,0l1,0l1,0l1,0l1,0l1,0l1,0l1,0l1,0l1,0l1,0l1,0l1,0l1,0l1,0l1,0l1,0l1,0l1,0l1,0l1,0l1,0l1,0l1,0l1,0l1,0l1,0l1,0l1,-0.1l1,-0.1l1,-0.3l1,-0.3l1,-0.4l1,-0.5l1,-0.6l1,-0.5l1,-0.7l1,-0.6l1,-0.6l1,-0.7l1,-0.6l1,-0.5l1,-0.5l1,-0.5l1,-0.4l1,-0.3l1,-0.2l1,-0.1l1,0l1,0.1l1,0.2l1,0.2l1,0.4l1,0.4l1,0.5l1,0.5l1,0.6l1,0.6l1,0.7l1,0.6l1,0.6l1,0.6l1,0.6l1,0.5l1,0.4l1,0.4l1,0.3l1,0.2l1,0.1l1,0l1,0l1,0l1,0l1,0l1,0l1,0l1,0l1,0l1,0l1,0l1,0l1,0l1,0l1,0l1,0l1,0l1,0l1,0l1,0l1,0l1,0l1,0l1,0l1,0l1,0l1,0l1,0l1,0l1,0l1,0l1,0l1,0l1,0l1,0l1,0l1,0l1,0l1,0l1,0l1,0l1,0l1,0l1,0l1,0l1,0l1,0l1,0l1,0l1,0l1,0l1,0l1,0l1,0l1,0l1,0l1,0l1,0l1,0l1,0l1,0l1,0l1,0l1,0l1,0l1,0l1,0l1,0l1,0l1,0l1,0l1,0l1,0l1,0l1,0l1,0l1,0l1,0l1,0l1,0l1,0l1,0l1,0l1,0l1,0l1,0l1,0l1,0l1,0l1,0l1,0l1,0l1,0l1,0l1,0l1,0l1,0l1,0l1,0l1,0l1,0l1,0l1,0l1,0l1,0l1,0l1,0l1,0l1,0l1,-0.3l1,-0.6l1,-1.1l1,-1.3l1,-1.7l1,-2l1,-2.1l1,-2.4l1,-2.4l1,-2.5l1,-2.4l1,-2.4l1,-2.2l1,-2.1l1,-1.8l1,-1.4l1,-1.2l1,-0.8l1,-0.4l1,0l1,0.4l1,0.8l1,1.2l1,1.4l1,1.8l1,2.1l1,2.2l1,2.4l1,2.4l1,2.5l1,2.4l1,2.4l1,2.1l1,2l1,1.7l1,1.3l1,1l1,0.4l1,0l1,-0.5l1,-0.6l1,-0.7l1,-0.7l1,-0.9l1,-0.9l1,-0.9l1,-0.9l1,-0.8l1,-0.9l1,-0.7l1,-0.7l1,-0.6l1,-0.5l1,-0.3l1,-0.2l1,-0.1l1,0.1l1,0.2l1,0.3l1,0.5l1,0.6l1,0.7l1,0.7l1,0.9l1,0.8l1,0.9l1,0.8l1,0.6l1,0.5l1,0.3l1,0.2l1,0l1,-0.1l1,-0.3l1,-0.5l1,-0.6l1,-0.6l1,-0.7l1,-0.5l1,-0.5l1,-0.5l1,-0.3l1,-0.3l1,-0.1l1,-0.1l1,0.1l1,0.1l1,0.3l1,0.3l1,0.5l1,0.5l1,0.5l1,0.7l1,0.6l1,0.7l1,0.7l1,0.6l1,0.6l1,0.6l1,0.5l1,0.4l1,0.4l1,0.2l1,0.2l1,0l1,0l1,0l1,0l1,0l1,0l1,0l1,0l1,0l1,0l1,0l1,0l1,0l1,0l1,0l1,0l1,0l1,0l1,0l1,0l1,0l1,0l1,0l1,0l1,0l1,0l1,0l1,-0.3l1,-0.5l1,-0.8l1,-0.9l1,-1.2l1,-1.3l1,-1.5l1,-1.5l1,-1.6l1,-1.6l1,-1.5l1,-1.5l1,-1.4l1,-1.3l1,-1l1,-0.9l1,-0.6l1,-0.4l1,-0.1l1,0.1l1,0.4l1,0.6l1,0.9l1,1l1,1.3l1,1.4l1,1.5l1,1.5l1,1.6l1,1.6l1,1.5l1,1.5l1,1.3l1,1.2l1,0.9l1,0.8l1,0.5l1,0.3l1,0l1,0l1,0l1,0l1,0l1,0l1,0l1,-0.1l1,-0.3l1,-0.5l1,-0.6l1,-0.7l1,-0.8l1,-0.9l1,-1l1,-1l1,-1l1,-1l1,-1l1,-0.9l1,-0.7l1,-0.7l1,-0.6l1,-0.4l1,-0.2l1,-0.1l1,0.1l1,0.2l1,0.4l1,0.6l1,0.7l1,0.7l1,0.9l1,1l1,1l1,1l1,1l1,1l1,0.9l1,0.8l1,0.7l1,0.6l1,0.5l1,0.3l1,0.1l1,-0.3l1,-1l1,-1.6l1,-2.4l1,-2.8l1,-3.4l1,-3.8l1,-4l1,-4.2l1,-4.3l1,-4.2l1,-4.1l1,-3.7l1,-3.3l1,-2.9l1,-2.2l1,-1.6l1,-1l1,-0.2l1,0.5l1,1.2l1,1.9l1,2.5l1,3l1,3.5l1,3.9l1,4.1l1,4.3l1,4.3l1,4.1l1,4l1,3.6l1,3.2l1,2.6l1,2.1l1,1.4l1,0.7l1,0.1l1,0l1,0l1,0l1,0l1,0l1,0l1,0l1,0l1,0l1,0l1,0l1,0l1,0l1,0l1,0l1,0l1,0l1,0l1,0l1,0l1,0l1,0l1,0l1,0l1,0l1,0l1,0l1,0l1,0l1,0l1,0l1,0l1,0l1,0l1,0l1,0l1,0l1,0l1,0l1,0l1,0l1,0l1,0l1,0l1,0l1,0l1,0l1,0l1,0l1,0l1,0l1,0l1,0l1,0l1,0l1,0l1,0l1,-0.1l1,-0.2l1,-0.5l1,-0.7l1,-0.9l1,-1.1l1,-1.2l1,-1.3l1,-1.3l1,-1.4l1,-1.4l1,-1.3l1,-1.2l1,-1.2l1,-0.9l1,-0.8l1,-0.5l1,-0.4l1,-0.1l1,0.1l1,0.4l1,0.5l1,0.8l1,0.9l1,1.2l1,1.2l1,1.3l1,1.4l1,1.4l1,1.3l1,1.3l1,1.2l1,1.1l1,0.9l1,0.7l1,0.5l1,0.2l1,0.1l1,0l1,0l1,0l1,0l1,0l1,0l1,0l1,0l1,0l1,0l1,0l1,0l1,0l1,0l1,0l1,0l1,0l1,0l1,0l1,0l1,0l1,0l1,0l1,0l1,0l1,0l1,0l1,0l1,0l1,0l1,0l1,0l1,0l1,0l1,0l1,0l1,0l1,0l1,0l1,0l1,0l1,0l1,0l1,0l1,0l1,0l1,0l1,0l1,0l1,0l1,0l1,0l1,0l1,0l1,0l1,0l1,0l1,0l1,0l1,0l1,0l1,0l1,0l1,0l1,0l1,0l1,0l1,0l1,0l1,0l1,0l1,0l1,0l1,0l1,0l1,0l1,0l1,0l1,0l1,0l1,0l1,0l1,0l1,0l1,0l1,0l1,0l1,0l1,0l1,0l1,0l1,0l1,0l1,0l1,-0.1l1,-0.3l1,-0.4l1,-0.5l1,-0.6l1,-0.7l1,-0.8l1,-0.8l1,-0.8l1,-0.8l1,-0.8l1,-0.7l1,-0.7l1,-0.5l1,-0.5l1,-0.3l1,-0.2l1,0l1,0.1l1,0.3l1,0.4l1,0.5l1,0.6l1,0.7l1,0.7l1,0.9l1,0.8l1,0.8l1,0.8l1,0.7" fill="none" stroke="#ff4242" stroke-width="2.3" stroke-linejoin="round"/>
<path d="M19,839.0v0l1,0l1,0l1,0l1,0l1,0l1,0l1,0l1,0l1,0l1,0l1,0l1,0l1,0l1,0l1,0l1,0l1,0l1,0l1,0l1,0l1,0l1,0l1,0l1,0l1,0l1,0l1,0l1,0l1,0l1,0l1,0l1,0l1,0l1,0l1,0l1,0l1,-0.2l1,-0.6l1,-1l1,-1.5l1,-1.8l1,-2.2l1,-2.6l1,-2.9l1,-3.1l1,-3.3l1,-3.4l1,-3.6l1,-3.5l1,-3.6l1,-3.5l1,-3.3l1,-3.1l1,-2.9l1,-2.7l1,-2.3l1,-1.9l1,-1.5l1,-1.1l1,-0.7l1,-0.7l1,-1.1l1,-1.6l1,-2l1,-2.3l1,-2.7l1,-3l1,-3.2l1,-3.4l1,-3.5l1,-3.6l1,-3.6l1,-3.6l1,-3.4l1,-3.4l1,-3.1l1,-2.8l1,-2.5l1,-2.2l1,-1.8l1,-1.4l1,-1l1,-0.5l1,0l1,0.4l1,0.9l1,1.6l1,2.4l1,3l1,3.5l1,4l1,4.3l1,4.7l1,4.8l1,5.1l1,5.2l1,5.2l1,5.2l1,5l1,4.9l1,4.6l1,4.3l1,3.8l1,3.5l1,3l1,2.4l1,1.9l1,1.3l1,0.7l1,0.2l1,0.4l1,0.7l1,1l1,1.2l1,1.4l1,1.6l1,1.8l1,1.8l1,1.9l1,2l1,1.9l1,1.9l1,1.9l1,1.6l1,1.5l1,1.4l1,1.1l1,0.8l1,0.6l1,0.3l1,0l1,0l1,0l1,0l1,-0.3l1,-0.9l1,-1.7l1,-2.3l1,-2.9l1,-3.4l1,-4l1,-4.5l1,-4.8l1,-5.2l1,-5.4l1,-5.6l1,-5.7l1,-5.7l1,-5.6l1,-5.5l1,-5.2l1,-4.9l1,-4.5l1,-4l1,-3.5l1,-3l1,-2.3l1,-1.7l1,-1.1l1,-0.3l1,0.3l1,1.1l1,1.7l1,2.3l1,3l1,3.5l1,4l1,4.5l1,4.9l1,5.2l1,5.5l1,5.6l1,5.7l1,5.7l1,5.6l1,5.4l1,5.2l1,4.8l1,4.5l1,4l1,3.4l1,2.9l1,2.3l1,1.7l1,0.9l1,0.3l1,0l1,0l1,0l1,0l1,0l1,0l1,0l1,0l1,0l1,0l1,0l1,0l1,0l1,0l1,0l1,0l1,0l1,0l1,0l1,0l1,0l1,0l1,0l1,0l1,0l1,0l1,0l1,0l1,0l1,0l1,0l1,0l1,0l1,0l1,0l1,0l1,0l1,0l1,0l1,0l1,0l1,0l1,0l1,0l1,0l1,0l1,0l1,0l1,0l1,0l1,0l1,0l1,0l1,0l1,0l1,0l1,0l1,0l1,0l1,0l1,0l1,-0.1l1,-0.6l1,-1.3l1,-1.8l1,-2.3l1,-2.8l1,-3.2l1,-3.7l1,-3.9l1,-4.3l1,-4.5l1,-4.5l1,-4.7l1,-4.6l1,-4.5l1,-4.3l1,-4.1l1,-3.8l1,-3.4l1,-3l1,-2.6l1,-2l1,-1.4l1,-0.9l1,-0.3l1,0.3l1,0.9l1,1.4l1,2l1,2.6l1,3l1,3.4l1,3.8l1,4.1l1,4.3l1,4.5l1,4.6l1,4.7l1,4.5l1,4.5l1,4.3l1,3.9l1,3.7l1,3.2l1,2.8l1,2.3l1,1.8l1,1.1l1,0.3l1,-0.4l1,-0.7l1,-0.8l1,-1l1,-1.1l1,-1.2l1,-1.3l1,-1.3l1,-1.4l1,-1.5l1,-1.4l1,-1.4l1,-1.3l1,-1.2l1,-1.2l1,-1.1l1,-0.9l1,-0.8l1,-0.6l1,-0.4l1,-0.3l1,-0.1l1,0.1l1,0.3l1,0.4l1,0.6l1,0.8l1,0.9l1,1.1l1,1.2l1,1.2l1,1.3l1,1.4l1,1.4l1,1.5l1,1.4l1,1.3l1,1.3l1,1.2l1,1.1l1,1l1,0.8l1,0.7l1,0.5l1,0.3l1,0.2l1,0l1,0l1,0l1,0l1,0l1,0l1,0l1,0l1,0l1,0l1,0l1,-0.1l1,-2.4l1,-5.2l1,-7.6l1,-9.6l1,-11l1,-11.6l1,-11.6l1,-10.6l1,-9.1l1,-7l1,-4.3l1,-1.5l1,1.5l1,4.3l1,7l1,8.2l1,7l1,5.1l1,3l1,0.7l1,-1.7l1,-4l1,-6l1,-7.5l1,-8l1,-5.7l1,-2.9l1,0l1,2.9l1,5.7l1,8.1l1,9.7l1,10.7l1,11l1,10.4l1,9.3l1,7.3l1,5l1,2.2l1,-0.8l1,-1.7l1,-1.8l1,-1.7l1,-1.8l1,-1.7l1,-1.6l1,-1.6l1,-1.4l1,-1.2l1,-1.1l1,-0.9l1,-0.7l1,-0.4l1,-0.3l1,0l1,0.3l1,0.4l1,0.7l1,0.9l1,1.1l1,1.2l1,1.4l1,1.6l1,1.6l1,1.7l1,1.8l1,1.7l1,1.8l1,1.7l1,1.6l1,1.6l1,1.4l1,1.2l1,1.1l1,0.9l1,0.6l1,0.5l1,0.2l1,0l1,0l1,0l1,0l1,0l1,0l1,0l1,0l1,0l1,0l1,0l1,0l1,0l1,0l1,0l1,0l1,0l1,0l1,0l1,-0.3l1,-1.1l1,-1.7l1,-2.3l1,-2.9l1,-3.5l1,-3.9l1,-4.4l1,-4.6l1,-5l1,-5l1,-5.2l1,-5.2l1,-5l1,-4.8l1,-4.6l1,-4.2l1,-3.7l1,-3.3l1,-2.6l1,-2.1l1,-1.4l1,-0.9l1,-0.4l1,0.2l1,0.6l1,1.2l1,1.7l1,2.2l1,2.7l1,3.1l1,3.4l1,3.9l1,4.1l1,4.4l1,4.6l1,4.7l1,4.7l1,4.6l1,4.5l1,4.3l1,4l1,3.6l1,3.2l1,2.7l1,2.1l1,1.5l1,1l1,1l1,1l1,0.8l1,0.8l1,0.6l1,0.5l1,0.3l1,0.1l1,0l1,0l1,0l1,0l1,0l1,0l1,0l1,0l1,0l1,0l1,0l1,0l1,0l1,0l1,0l1,0l1,0l1,0l1,0l1,0l1,0l1,0l1,0l1,0l1,0l1,0l1,0l1,0l1,0l1,0l1,-0.2l1,-0.4l1,-0.6l1,-0.7l1,-0.9l1,-1.1l1,-1.1l1,-1.3l1,-1.3l1,-1.4l1,-1.4l1,-1.4l1,-1.3l1,-1.3l1,-1.2l1,-1.1l1,-1l1,-0.8l1,-0.6l1,-0.5l1,-0.3l1,-0.1l1,0.1l1,0.2l1,-0.1l1,-0.6l1,-1l1,-1.3l1,-1.8l1,-2.1l1,-2.4l1,-2.7l1,-3l1,-3.2l1,-3.4l1,-3.5l1,-3.6l1,-3.7l1,-3.6l1,-3.5l1,-3.4l1,-3.2l1,-3l1,-2.7l1,-2.4l1,-1.9l1,-1.3l1,-0.8l1,-0.1l1,0.5l1,1.1l1,1.6l1,2.3l1,2.7l1,3.2l1,3.6l1,4.1l1,4.3l1,4.5l1,4.8l1,4.8l1,4.9l1,4.8l1,4.6l1,4.5l1,4.2l1,3.9l1,3.5l1,3l1,2.5l1,2.1l1,1.4l1,0.8l1,0.3l1,0l1,0l1,0l1,-0.2l1,-0.3l1,-0.6l1,-0.6l1,-0.8l1,-0.8l1,-0.8l1,-0.9l1,-0.7l1,-0.7l1,-0.6l1,-0.4l1,-0.4l1,-0.4l1,-0.4l1,-0.4l1,-0.5l1,-0.5l1,-0.5l1,-0.6l1,-0.7l1,-0.8l1,-0.9l1,-1l1,-1.2l1,-1.2l1,-1.4l1,-1.5l1,-1.5l1,-1.3l1,-1.2l1,-1l1,-0.8l1,-0.6l1,-0.4l1,-0.3l1,-0.2l1,-0.2l1,-0.1l1,0l1,0.1l1,0.1l1,0.3l1,0.4l1,0.6l1,0.7l1,0.8l1,1l1,1.2l1,1.3l1,1.4l1,0.5l1,-0.4l1,-1.5l1,-2.5l1,-3.5l1,-4.3l1,-5.1l1,-5.9l1,-6.4l1,-6.9l1,-7.2l1,-7.2l1,-7.1l1,-6.8l1,-6.4l1,-5.9l1,-5.3l1,-4.5l1,-3.4l1,-2.4l1,-1.3l1,-0.1l1,1l1,2.2l1,3.3l1,4.2l1,5.1l1,5.9l1,6.5l1,7l1,7.3l1,7.7l1,7.7l1,7.2l1,6.1l1,5l1,3.8l1,2.6l1,1.2l1,-0.1l1,-1.3l1,-2.5l1,-3.6l1,-4.6l1,-4.5l1,-4.1l1,-3.7l1,-3.1l1,-2.5l1,-1.7l1,-1.1l1,-0.3l1,0.5l1,1.2l1,2.1l1,2.8l1,3.4l1,4.1l1,4.5l1,4.8l1,5l1,5.2l1,5l1,4.9l1,4.5l1,4.1l1,3.5l1,2.9l1,2.1l1,1.3l1,0.5l1,0l1,0l1,0l1,0l1,0l1,0l1,0l1,0l1,0l1,0l1,0l1,0l1,0l1,0l1,0l1,0l1,0l1,0l1,0l1,0l1,0l1,0l1,0l1,0l1,0l1,0l1,0l1,0l1,0l1,0l1,0l1,0l1,0l1,0l1,0l1,0l1,0l1,0l1,0l1,0l1,0l1,0l1,-0.1l1,-0.6l1,-1.4l1,-2l1,-2.6l1,-3.2l1,-3.7l1,-4.2l1,-4.4l1,-4.7l1,-4.8l1,-4.9l1,-4.7l1,-4.6l1,-4.3l1,-4l1,-3.5l1,-3l1,-2.3l1,-1.8l1,-1l1,-0.4l1,0.4l1,1l1,1.8l1,2.3l1,3l1,3.5l1,4l1,4.3l1,4.6l1,4.7l1,4.9l1,4.8l1,4.7l1,4.4l1,4.2l1,3.7l1,3.2l1,2.6l1,2l1,1.4l1,0.6l1,0.1l1,0l1,0l1,0l1,0l1,0l1,0l1,-0.1l1,-0.2l1,-0.2l1,-0.4l1,-0.3l1,-0.5l1,-0.4l1,-0.5l1,-0.5l1,-0.5l1,-0.5l1,-0.5l1,-0.4l1,-0.3l1,-0.3l1,-0.2l1,-0.2l1,0l1,0l1,0.2l1,0.2l1,0.3l1,0.3l1,0.4l1,0.5l1,0.5l1,0.5l1,0.5l1,0.5l1,0.4l1,0.5l1,0.3l1,0.4l1,0.2l1,0.2l1,0.1l1,0l1,0l1,0l1,0l1,0l1,0l1,0l1,0l1,0l1,0l1,0l1,-0.4l1,-0.6l1,-1.1l1,-1.3l1,-1.6l1,-1.9l1,-2l1,-2.1l1,-2.2l1,-2.1l1,-2.1l1,-2l1,-1.7l1,-1.5l1,-1.3l1,-0.9l1,-0.5l1,-0.2l1,0.2l1,0.5l1,0.9l1,1.3l1,1.5l1,1.7l1,2l1,2.1l1,2.1l1,2.2l1,2.1l1,2l1,1.9l1,1.6l1,1.3l1,1.1l1,0.6l1,0.4l1,0l1,0l1,0l1,0l1,0l1,0l1,0l1,0l1,0l1,0l1,0l1,0l1,0l1,0l1,0l1,0l1,0l1,0l1,0l1,0l1,-0.1l1,-0.1l1,-0.2l1,-0.2l1,-0.3l1,-0.3l1,-0.3l1,-0.4l1,-0.4l1,-0.3l1,-0.4l1,-0.4l1,-0.3l1,-0.3l1,-0.3l1,-0.3l1,-0.1l1,-0.2l1,-0.1l1,0l1,0l1,0.1l1,0.2l1,0.1l1,0.3l1,0.3l1,0.3l1,0.3l1,0.4l1,0.4l1,0.3l1,0.4l1,0.4l1,0.3l1,0.3l1,0.3l1,0.2l1,0.2l1,0.1l1,0.1l1,0l1,0l1,0l1,0l1,0l1,0l1,0l1,0l1,0l1,0l1,0l1,0l1,0l1,0l1,0l1,-0.1l1,-0.5l1,-1.2l1,-1.7l1,-2.1l1,-2.7l1,-3l1,-3.4l1,-3.6l1,-3.7l1,-3.8l1,-3.8l1,-3.7l1,-3.5l1,-3.2l1,-2.9l1,-2.8l1,-3.3l1,-3.7l1,-4l1,-4.3l1,-4.4l1,-4.4l1,-4.3l1,-4.1l1,-3.8l1,-3.5l1,-3l1,-2.4l1,-1.9l1,-1.3l1,-0.5l1,0.1l1,0.7l1,1.5l1,2l1,2.7l1,3.1l1,3.6l1,4l1,4.2l1,4.5l1,5l1,5.6l1,5.9l1,6.2l1,6.1l1,5.7l1,5.1l1,4.6l1,3.8l1,2.9l1,2.1l1,1.2l1,0.1l1,-0.8l1,-1.7l1,-2.1l1,-2l1,-1.9l1,-1.6l1,-1.4l1,-1.1l1,-0.8l1,-0.5l1,-0.2l1,0.2l1,0.5l1,0.8l1,1.1l1,1.4l1,1.6l1,1.9l1,2l1,2.1l1,2.1l1,2.2l1,2.1l1,2l1,1.9l1,1.7l1,1.4l1,1.2l1,0.9l1,0.6l1,0.3l1,0l1,0l1,0l1,0l1,0l1,0l1,0l1,0l1,0l1,0l1,0l1,0l1,0l1,0l1,0l1,0l1,0l1,0l1,0l1,0l1,0l1,0l1,0l1,0l1,0l1,0l1,0l1,0l1,0l1,0l1,0l1,0l1,0l1,0l1,0l1,0l1,0l1,0l1,0l1,0l1,0l1,0l1,0l1,0l1,0l1,0l1,0l1,0l1,0l1,0l1,0l1,0l1,0l1,0l1,0l1,0l1,0l1,0l1,0l1,0l1,0l1,0l1,0l1,0l1,0l1,0l1,0l1,0l1,0l1,0l1,0l1,0l1,0l1,0l1,0l1,0l1,0l1,0l1,0l1,0l1,0l1,0l1,0l1,0l1,0l1,0l1,0l1,0l1,0l1,0l1,0l1,0l1,0l1,0l1,0l1,0l1,0l1,0l1,0l1,0l1,0l1,0l1,0l1,0l1,0l1,0l1,0l1,0l1,0l1,-0.3l1,-0.4l1,-0.6l1,-0.8l1,-0.9l1,-1.1l1,-1.1l1,-1.3l1,-1.2l1,-1.3l1,-1.3l1,-1.2l1,-1.1l1,-1l1,-0.8l1,-0.7l1,-0.5l1,-0.3l1,-0.1l1,0.1l1,0.3l1,0.5l1,0.3l1,0.3l1,0.1l1,0l1,-0.1l1,-0.2l1,-0.2l1,-0.4l1,-0.3l1,-0.4l1,-0.4l1,-0.3l1,-0.3l1,-0.3l1,-0.1l1,-0.1l1,0l1,0.3l1,0.6l1,0.9l1,1l1,1.3l1,1.5l1,1.5l1,1.5l1,0.2l1,-1.4l1,-2.9l1,-4.5l1,-5.8l1,-7.2l1,-8.2l1,-9l1,-9.7l1,-9.8l1,-9.6l1,-9.2l1,-8.5l1,-7.7l1,-6.5l1,-5.3l1,-3.8l1,-2.4l1,-0.8l1,0.8l1,2.3l1,3.9l1,5.2l1,6.5l1,7.6l1,8.5l1,9.1l1,9.5l1,9.7l1,8.5l1,7.2l1,5.5l1,3.7l1,1.8l1,-0.1l1,-2l1,-3.9l1,-5.6l1,-6.9l1,-6.9l1,-6.5l1,-6l1,-5.4l1,-4.5l1,-3.6l1,-2.6l1,-1.4l1,-0.4l1,0.7l1,1.6l1,2.6l1,3.6l1,4.2l1,4.4l1,4.3l1,4.2l1,3.8l1,3.6l1,3l1,2.5l1,1.8l1,1.2l1,0.4l1,-0.5l1,-1.2l1,-2.1l1,-2.8l1,-3.1l1,-2.6l1,-2.2l1,-1.6l1,-1.2l1,-0.6l1,0l1,0.5l1,1l1,1.6l1,2.3l1,2.8l1,3.3l1,3.7l1,4.1l1,4.3l1,4.5l1,4.6l1,4.6l1,4.4l1,4.2l1,4l1,3.5l1,3l1,2.6l1,1.9l1,1.3l1,0.7l1,0.1l1,0l1,0l1,0l1,-0.3l1,-0.9l1,-1.4l1,-2.1l1,-2.5l1,-3l1,-3.4l1,-3.6l1,-3.7l1,-3.8l1,-3.8l1,-3.6l1,-3.4l1,-3l1,-2.6l1,-2.1l1,-1.5l1,-1l1,-0.3l1,0.3l1,1l1,1.5l1,2.1l1,2.6l1,3l1,3.4l1,3.6l1,3.8l1,3.8l1,3.7l1,3.6l1,3.4l1,3l1,2.5l1,2.1l1,1.1l1,-0.5l1,-2.2l1,-3.4l1,-4.4l1,-5.2l1,-5.8l1,-6.2l1,-6.6l1,-6.7l1,-6.6l1,-6.4l1,-5.9l1,-5.4l1,-4.5l1,-3.8l1,-2.7l1,-1.6l1,-0.6l1,0.6l1,1.6l1,2.7l1,3.8l1,4.5l1,5.4l1,5.9l1,6.4l1,6.6l1,6.7l1,6.6l1,6.2l1,5.8l1,5.2l1,4.4l1,3.4l1,2.5l1,1.4l1,0.3l1,0l1,0l1,0l1,0l1,0l1,0l1,0l1,0l1,0l1,0l1,0l1,0l1,0l1,0l1,0l1,0l1,0l1,0l1,-0.2l1,-0.4l1,-0.7l1,-0.8l1,-0.9l1,-1.1l1,-1.1l1,-1.1l1,-1.2l1,-1.1l1,-1l1,-0.8l1,-0.7l1,-0.5l1,-0.3l1,-0.1l1,0.2l1,0.3l1,0.6l1,0.8l1,0.9l1,1l1,1.2l1,1l1,-0.1l1,-1.5l1,-3l1,-4.2l1,-5.5l1,-6.5l1,-7.4l1,-8.1l1,-8.3l1,-8.3l1,-8l1,-7.5l1,-6.8l1,-5.8l1,-4.7l1,-3.5l1,-2.1l1,-0.7l1,0.7l1,1.8l1,2.9l1,3.8l1,4.8l1,5.5l1,6.1l1,6.7l1,6.9l1,6.3l1,5.1l1,3.9l1,2.6l1,1.3l1,-0.1l1,-1.3l1,-2.4l1,-3.5l1,-4.2l1,-3.7l1,-3l1,-2.3l1,-1.5l1,-0.7l1,0.1l1,1l1,1.8l1,2.5l1,3.2l1,3.9l1,3.4l1,1.8l1,0.3l1,-1.3l1,-2.9l1,-4.5l1,-6l1,-7.3l1,-8.6l1,-9.5l1,-10.1l1,-9.8l1,-8.7l1,-7.5l1,-6.1l1,-4.6l1,-2.7l1,-1.1l1,0.7l1,2.5l1,4.2l1,5.8l1,7.3l1,8.6l1,9.4l1,9.1l1,8.2l1,7l1,5.6l1,4.1l1,2.5l1,0.8l1,-0.9l1,-2.7l1,-4.2l1,-5.8l1,-6.4l1,-5.6l1,-4.6l1,-3.5l1,-2.4l1,-1l1,0.2l1,1.5l1,2.6l1,3.8l1,4.2l1,4.2l1,4.3l1,4.3l1,4.2l1,4.1l1,4l1,3.8l1,3.7l1,3.5l1,3.2l1,3l1,2.7l1,2.3l1,1.8l1,1.9l1,2.2l1,2.3l1,2.4l1,2.2l1,2.1l1,1.7l1,1.4l1,0.8l1,0.3l1,-0.2l1,-0.6l1,-0.6l1,-1l1,-1.3l1,-1.7l1,-2l1,-2.3l1,-2.7l1,-2.8l1,-3.1l1,-3.2l1,-3.3l1,-3.4l1,-3.4l1,-3.2l1,-3l1,-2.5l1,-2l1,-1.5l1,-0.8l1,-0.2l1,0.6l1,1.3l1,2l1,2.5l1,2.6l1,2.3l1,2.1l1,1.8l1,1.5l1,0.9l1,0.5l1,-0.1l1,-0.6l1,-1.3l1,-2l1,-2.6l1,-2.6l1,-2.3l1,-2l1,-1.6l1,-1.3l1,-1l1,-0.5l1,0l1,0.9l1,1.6l1,2.3l1,2.9l1,3.6l1,4l1,4.4l1,4.7l1,4.7l1,4.2l1,3.4l1,2.6l1,1.7l1,0.8l1,-0.1l1,-1l1,-1.8l1,-2.5l1,-3.2l1,-3.5l1,-3.3l1,-2.8l1,-2.3l1,-1.7l1,-1.1l1,-0.3" fill="none" stroke="#4274ff" stroke-width="2.3" stroke-linejoin="round"/>
<path d="M19,804.3v0l1,-2.4l1,-2.6l1,-2.8l1,-2.9l1,-3.1l1,-3.1l1,-3.1l1,-3.1l1,-3l1,-3l1,-2.8l1,-2.6l1,-2.5l1,-2.2l1,-1.8l1,-1.3l1,-0.8l1,-0.2l1,0.3l1,0.9l1,1.4l1,2l1,2.4l1,2.9l1,3.3l1,3.7l1,3.9l1,4.3l1,4.4l1,4.6l1,4.7l1,4.7l1,4.7l1,4.5l1,4.3l1,4.1l1,3.8l1,3.5l1,3l1,2.6l1,2.2l1,1.6l1,1.1l1,0.5l1,0.1l1,0l1,0l1,0l1,0l1,0l1,0l1,0l1,0l1,0l1,0l1,0l1,0l1,0l1,0l1,0l1,0l1,0l1,0l1,0l1,0l1,0l1,0l1,0l1,0l1,0l1,0l1,0l1,0l1,0l1,0l1,0l1,0l1,0l1,0l1,0l1,0l1,0l1,0l1,0l1,0l1,0l1,0l1,0l1,0l1,0l1,0l1,0l1,0l1,0l1,0l1,0l1,0l1,0l1,0l1,0l1,0l1,0l1,0l1,0l1,0l1,0l1,0l1,0l1,0l1,0l1,0l1,0l1,0l1,0l1,0l1,0l1,0l1,0l1,0l1,0l1,0l1,0l1,0l1,0l1,0l1,0l1,0l1,0l1,0l1,0l1,0l1,0l1,0l1,0l1,0l1,0l1,0l1,0l1,0l1,0l1,0l1,0l1,0l1,0l1,0l1,0l1,0l1,0l1,0l1,0l1,0l1,0l1,0l1,0l1,0l1,0l1,0l1,0l1,0l1,0l1,0l1,0l1,0l1,0l1,0l1,0l1,-0.4l1,-0.9l1,-1.4l1,-1.9l1,-2.4l1,-2.8l1,-3.2l1,-3.6l1,-3.8l1,-4l1,-4.2l1,-4.3l1,-4.3l1,-4.3l1,-4.1l1,-4l1,-3.7l1,-3.4l1,-3.1l1,-2.6l1,-2.3l1,-1.7l1,-1.2l1,-0.7l1,-0.2l1,0.4l1,0.9l1,1.4l1,2l1,2.4l1,2.8l1,3.2l1,3.6l1,3.8l1,4l1,3.8l1,3.3l1,2.8l1,2.2l1,1.6l1,1l1,0.4l1,-0.3l1,-1l1,-1.6l1,-2.1l1,-2.8l1,-3.3l1,-3.7l1,-4.1l1,-4.1l1,-3.9l1,-3.5l1,-3.1l1,-2.7l1,-2.2l1,-1.7l1,-1.2l1,-0.6l1,-0.2l1,0.1l1,0.4l1,0.7l1,1l1,1.3l1,1.7l1,1.9l1,2.2l1,2.5l1,2.7l1,3l1,3.2l1,3.4l1,3.5l1,3.6l1,3.7l1,3.6l1,3.6l1,3.4l1,3.3l1,3.1l1,2.7l1,2.3l1,2l1,1.5l1,1.6l1,1.6l1,1.5l1,1.4l1,1.3l1,1.1l1,0.9l1,0.7l1,0.4l1,0.1l1,0l1,0l1,0l1,0l1,0l1,-0.2l1,-0.4l1,-0.5l1,-0.6l1,-0.8l1,-0.9l1,-1l1,-1l1,-1.1l1,-1.2l1,-1.2l1,-1.2l1,-1.1l1,-1.2l1,-1l1,-1l1,-1.1l1,-1.4l1,-1.8l1,-2.1l1,-2.3l1,-2.6l1,-2.8l1,-2.9l1,-2.9l1,-2.9l1,-2.7l1,-2.7l1,-2.4l1,-2.1l1,-1.7l1,-1.4l1,-1l1,-0.5l1,0l1,0.4l1,0.8l1,1.1l1,1.5l1,1.8l1,2.1l1,2.3l1,2.6l1,2.6l1,2.8l1,2.2l1,1.1l1,0.1l1,-0.8l1,-1.9l1,-2.9l1,-3.9l1,-4.7l1,-5.6l1,-6.4l1,-7.1l1,-7.6l1,-8.2l1,-8.1l1,-7.9l1,-7.5l1,-7.1l1,-6.4l1,-5.8l1,-5l1,-4.2l1,-3.3l1,-2.4l1,-1.4l1,-0.4l1,0.6l1,1.6l1,2.7l1,3.7l1,4.7l1,5.5l1,6.3l1,7.1l1,7.6l1,8.1l1,8.4l1,8.6l1,8.8l1,8.6l1,8.4l1,8.1l1,7.7l1,7l1,6.4l1,5.6l1,4.7l1,3.7l1,2.7l1,1.7l1,0.6l1,0l1,0l1,0l1,0l1,0l1,0l1,0l1,0l1,0l1,0l1,0l1,0l1,0l1,0l1,0l1,0l1,0l1,0l1,0l1,0l1,-0.3l1,-0.9l1,-1.5l1,-2.2l1,-2.6l1,-3.2l1,-3.6l1,-4.1l1,-4.3l1,-4.6l1,-4.8l1,-4.8l1,-4.9l1,-4.7l1,-4.6l1,-4.4l1,-4l1,-3.7l1,-3.2l1,-2.7l1,-2.2l1,-1.5l1,-1l1,-0.3l1,0.3l1,0.9l1,1.6l1,2.1l1,2.6l1,3.1l1,3.6l1,3.9l1,4.3l1,4.5l1,4.7l1,3.9l1,2.9l1,1.7l1,0.6l1,-0.6l1,-1.7l1,-2.8l1,-3.9l1,-4.9l1,-5.8l1,-6.6l1,-7.4l1,-7.9l1,-8l1,-7.7l1,-7.2l1,-6.7l1,-5.9l1,-5.1l1,-4.3l1,-3.2l1,-2.2l1,-1.1l1,0l1,1.1l1,2.2l1,3.2l1,4.3l1,5.1l1,5.9l1,6.7l1,7.3l1,7.7l1,8.1l1,8.3l1,8.4l1,8.2l1,8l1,7.7l1,7.1l1,6.6l1,5.7l1,5l1,4l1,3l1,1.9l1,0.9l1,0l1,0l1,0l1,0l1,0l1,0l1,0l1,0l1,0l1,0l1,0l1,0l1,0l1,0l1,0l1,0l1,0l1,0l1,0l1,0l1,0l1,0l1,-0.1l1,-0.5l1,-0.8l1,-1.2l1,-1.4l1,-1.8l1,-2l1,-2.2l1,-2.4l1,-2.6l1,-2.7l1,-2.8l1,-2.8l1,-2.9l1,-2.7l1,-2.7l1,-2.6l1,-2.4l1,-2.1l1,-2l1,-1.7l1,-1.4l1,-1l1,-0.8l1,-0.4l1,-0.1l1,0.3l1,0.3l1,0.6l1,0.6l1,0.8l1,1l1,1.2l1,1.4l1,1.5l1,1.8l1,2.1l1,2.2l1,1.7l1,0.9l1,0.2l1,-0.7l1,-1.4l1,-2.2l1,-3l1,-3.7l1,-4.3l1,-5l1,-5.6l1,-6.1l1,-6.5l1,-6.8l1,-6.7l1,-6.5l1,-6.1l1,-5.5l1,-4.9l1,-4l1,-3.2l1,-2.2l1,-1.3l1,-0.3l1,0.7l1,1.7l1,2.6l1,3.5l1,4.4l1,5.1l1,5.8l1,6.4l1,6.8l1,7.2l1,7.5l1,7.5l1,7.6l1,7.3l1,7.1l1,6.7l1,6.2l1,5.5l1,4.8l1,4.1l1,3.1l1,2.3l1,1.3l1,0.3l1,0l1,0l1,0l1,0l1,-0.1l1,-0.3l1,-0.6l1,-0.8l1,-1.1l1,-1.4l1,-1.5l1,-1.7l1,-1.9l1,-1.9l1,-2.1l1,-2.1l1,-2l1,-2.1l1,-1.9l1,-1.9l1,-1.6l1,-1.5l1,-1.3l1,-1.1l1,-0.8l1,-0.5l1,-0.3l1,0.1l1,0.3l1,0.5l1,0.4l1,0.1l1,0l1,-0.3l1,-0.5l1,-0.6l1,-0.8l1,-0.8l1,-1l1,-0.9l1,-1l1,-0.9l1,-0.8l1,-1l1,-1.1l1,-1.4l1,-1.4l1,-1.4l1,-1.5l1,-1.4l1,-1.4l1,-0.9l1,-0.5l1,-0.1l1,0.3l1,0.8l1,1.1l1,1.6l1,1.8l1,2.2l1,2.1l1,1.4l1,0.7l1,0l1,-0.9l1,-1.6l1,-2.4l1,-3.2l1,-3.9l1,-4.2l1,-4.3l1,-4.5l1,-4.5l1,-4.6l1,-4.5l1,-4.5l1,-4.3l1,-4.2l1,-3.9l1,-3.6l1,-3.3l1,-2.8l1,-2.1l1,-1.3l1,-0.4l1,0.4l1,1.3l1,2.1l1,2.8l1,3.6l1,4.3l1,4.9l1,5.4l1,5.9l1,6.2l1,6.5l1,6.7l1,6.6l1,6.7l1,6.4l1,6.2l1,5.8l1,5.4l1,4.8l1,4.2l1,3.5l1,2.7l1,2l1,1.1l1,0.3l1,0l1,0l1,0l1,0l1,0l1,0l1,0l1,0l1,0l1,0l1,0l1,0l1,0l1,0l1,0l1,0l1,0l1,0l1,-0.1l1,-0.7l1,-1.2l1,-1.6l1,-2.2l1,-2.5l1,-3l1,-3.3l1,-3.5l1,-3.7l1,-3.8l1,-3.8l1,-3.9l1,-3.7l1,-3.5l1,-3.2l1,-3l1,-2.5l1,-2.2l1,-1.7l1,-1.1l1,-0.7l1,-0.1l1,0.5l1,0.9l1,1.3l1,1.4l1,1.5l1,1.6l1,1.7l1,1.9l1,1.9l1,2.1l1,2.3l1,2.4l1,2.6l1,2.6l1,2l1,1.3l1,0.6l1,-0.2l1,-1l1,-1.8l1,-2.5l1,-3.4l1,-4l1,-4.3l1,-4.5l1,-4.8l1,-4.9l1,-5.1l1,-5.2l1,-5.3l1,-5l1,-4.5l1,-3.9l1,-3.2l1,-2.6l1,-1.8l1,-1l1,-0.3l1,0.6l1,1.3l1,2.1l1,2.9l1,3.5l1,4.1l1,4.8l1,5.1l1,5.6l1,5.9l1,6l1,6.2l1,6.2l1,6l1,5.9l1,5.5l1,5.2l1,4.6l1,4.1l1,3.5l1,2.8l1,2l1,1.3l1,0.5l1,0l1,0l1,0l1,0l1,0l1,0l1,0l1,0l1,0l1,0l1,0l1,0l1,0l1,0l1,0l1,0l1,0l1,0l1,0l1,0l1,0l1,0l1,0l1,0l1,0l1,0l1,0l1,-0.4l1,-0.8l1,-1.2l1,-1.6l1,-1.9l1,-2.3l1,-2.5l1,-2.8l1,-2.9l1,-3l1,-3l1,-3l1,-2.9l1,-2.7l1,-2.5l1,-2.2l1,-1.8l1,-1.5l1,-1.1l1,-0.7l1,-0.2l1,0.2l1,0.3l1,0.5l1,0.5l1,0.7l1,0.8l1,0.9l1,1.2l1,1.3l1,1.6l1,1.7l1,2l1,2.2l1,2.4l1,2.4l1,1.1l1,-0.2l1,-1.5l1,-3l1,-4.1l1,-5.4l1,-6.3l1,-6.7l1,-7.1l1,-7.2l1,-7.1l1,-6.8l1,-6.5l1,-5.8l1,-4.7l1,-3.5l1,-2.2l1,-0.7l1,0.7l1,2.2l1,3.5l1,4.7l1,5.9l1,6.8l1,7.6l1,8.1l1,8.4l1,8.5l1,8.3l1,7.9l1,7.2l1,6.4l1,5.3l1,4.1l1,2.8l1,1.4l1,0.2l1,0l1,0l1,0l1,0l1,0l1,0l1,0l1,0l1,0l1,0l1,0l1,0l1,0l1,0l1,0l1,0l1,0l1,0l1,0l1,0l1,0l1,0l1,0l1,0l1,0l1,0l1,0l1,0l1,0l1,0l1,0l1,0l1,0l1,0l1,0l1,0l1,0l1,0l1,0l1,0l1,0l1,0l1,0l1,0l1,0l1,0l1,0l1,0l1,0l1,0l1,0l1,0l1,0l1,0l1,0l1,0l1,0l1,0l1,0l1,0l1,0l1,0l1,0l1,0l1,-0.1l1,-0.6l1,-1.1l1,-1.7l1,-2.3l1,-2.6l1,-3.1l1,-3.5l1,-3.6l1,-3.9l1,-4l1,-3.9l1,-3.9l1,-3.7l1,-3.5l1,-3.2l1,-2.8l1,-2.3l1,-1.8l1,-1.3l1,-0.7l1,-0.1l1,0.5l1,1l1,1.6l1,2.2l1,2.6l1,3l1,3.3l1,3.7l1,3.8l1,3.9l1,4l1,3.9l1,3.8l1,3.5l1,3.3l1,2.8l1,2.4l1,1.9l1,1.4l1,0.9l1,0.2l1,0l1,0l1,0l1,0l1,0l1,0l1,0l1,0l1,0l1,0l1,0l1,0l1,0l1,0l1,0l1,0l1,0l1,0l1,0l1,0l1,0l1,0l1,0l1,0l1,0l1,0l1,0l1,0l1,0l1,-0.1l1,-0.3l1,-0.5l1,-0.6l1,-0.7l1,-0.8l1,-0.9l1,-1l1,-1l1,-1l1,-1.1l1,-1l1,-0.9l1,-0.9l1,-0.8l1,-0.7l1,-0.5l1,-0.4l1,-0.2l1,-0.1l1,0.1l1,0.2l1,0.4l1,0.5l1,0.7l1,0.8l1,0.9l1,0.9l1,1l1,1.1l1,1l1,1l1,1l1,0.9l1,0.4l1,0l1,-0.3l1,-0.8l1,-1.2l1,-1.6l1,-1.9l1,-2l1,-2.1l1,-2.3l1,-2.2l1,-2.2l1,-2.2l1,-2.1l1,-1.9l1,-1.8l1,-1.6l1,-1.3l1,-1l1,-0.8l1,-0.4l1,-0.2l1,0.2l1,0.4l1,0.8l1,1l1,1.3l1,1.6l1,1.8l1,1.9l1,1.7l1,1.6l1,1.3l1,1.1l1,0.8l1,0.5l1,0.2l1,0l1,-0.4l1,-0.7l1,-1l1,-1.2l1,-1.5l1,-1.6l1,-1.9l1,-1.7l1,-1.5l1,-1.3l1,-1l1,-0.8l1,-0.4l1,-0.2l1,0.2l1,0.4l1,0.8l1,1l1,1.3l1,1.5l1,1.7l1,1.9l1,2.1l1,2.1l1,1.9l1,1l1,0.3l1,-0.5l1,-1.4l1,-2l1,-2.8l1,-3.3l1,-3.9l1,-4.2l1,-4.5l1,-4.8l1,-4.7l1,-4.4l1,-4l1,-3.4l1,-2.7l1,-2l1,-1.2l1,-0.4l1,0.4l1,1.2l1,2l1,2.7l1,3.4l1,4l1,4.4l1,4.8l1,5l1,5.2l1,5.1l1,5l1,4.4l1,3.9l1,3.2l1,2.4l1,1.6l1,0.7l1,-0.1l1,-1.1l1,-1.4l1,-1.4l1,-1.5l1,-1.3l1,-1.3l1,-1.1l1,-1l1,-0.9l1,-0.6l1,-0.5l1,-0.2l1,0l1,0.2l1,0.5l1,0.6l1,0.9l1,1l1,0.9l1,0.2l1,-0.6l1,-1.2l1,-1.9l1,-2.3l1,-2.7l1,-2.9l1,-3l1,-2.8l1,-2.5l1,-2.2l1,-1.6l1,-1.3l1,-1.3l1,-1.3l1,-1.1l1,-0.8l1,-0.6l1,-0.2l1,0l1,0.4l1,0.6l1,0.9l1,0.2l1,-0.7l1,-1.7l1,-2.7l1,-3.6l1,-4.3l1,-4.4l1,-4.1l1,-3.7l1,-3.3l1,-2.9l1,-2.4l1,-1.9l1,-1.4l1,-0.9l1,-0.4l1,-0.1l1,0.4l1,0.8l1,1.7l1,2.9l1,3.9l1,4.8l1,5.6l1,6.2l1,6.6l1,6.8l1,6.9l1,6.7l1,6.3l1,5.8l1,5.1l1,4.1l1,3.2l1,2.1l1,0.9l1,0.1l1,0l1,0l1,0l1,0l1,0l1,0l1,0l1,0l1,0l1,0l1,0l1,0l1,0l1,0l1,0l1,0l1,0l1,0l1,0l1,0l1,0l1,0l1,0l1,0l1,0l1,0l1,0l1,0l1,0l1,0l1,0l1,0l1,0l1,0l1,0l1,0l1,0l1,0l1,0l1,0l1,0l1,0l1,0l1,0l1,0l1,0l1,0l1,0l1,0l1,0l1,0l1,0l1,0l1,0l1,0l1,0l1,0l1,0l1,0l1,0l1,0l1,0l1,0l1,0l1,0l1,0l1,0l1,0l1,-0.2l1,-0.5l1,-0.7l1,-1.1l1,-1.3l1,-1.6l1,-1.7l1,-1.8l1,-1.9l1,-1.9l1,-2l1,-1.8l1,-1.7l1,-1.5l1,-1.3l1,-1.1l1,-0.8l1,-0.4l1,-0.2l1,0.2l1,0.4l1,0.8l1,1.1l1,1.3l1,1.5l1,1.7l1,1.8l1,2l1,1.6l1,0.8l1,-0.1l1,-0.9l1,-1.7l1,-2.5l1,-3.2l1,-3.7l1,-4.3l1,-4.7l1,-4.8l1,-4.6l1,-4.3l1,-3.9l1,-3.3l1,-2.6l1,-2l1,-1.2l1,-0.4l1,0.4l1,1.2l1,2l1,2.6l1,3.3l1,3.9l1,4.3l1,4.6l1,4.8l1,4.8l1,4.6l1,4l1,3.4l1,2.6l1,1.9l1,1.1l1,0.2l1,-0.5l1,-1.1l1,-1.4l1,-1.1l1,-0.9l1,-0.5l1,-0.2l1,0.2l1,0.5l1,0.9l1,1.1l1,1.4l1,1.5l1,1.6l1,1.6l1,1.5l1,1.4l1,1.1l1,0.9l1,0.6l1,0.2l1,0l1,0l1,0l1,0l1,0l1,0l1,0l1,0l1,0l1,-0.5l1,-1.5l1,-2.7l1,-3.6l1,-4.6l1,-5.4l1,-6.2l1,-6.7l1,-7.1l1,-7.4l1,-7.4l1,-7.4l1,-7.2l1,-6.7l1,-6.2l1,-5.5l1,-4.7l1,-3.7l1,-2.7l1,-1.7l1,-0.6l1,-0.2l1,-0.1l1,-0.1l1,0.1l1,0.3l1,0.5l1,0.8l1,1.2l1,1.6l1,2.1l1,2.6l1,3.1l1,3.6l1,4.1l1,4.5l1,4.9l1,5.1l1,5.3l1,5.2l1,5.1l1,4.7l1,4.9l1,5.3l1,5.6l1,5.5l1,5.4l1,5l1,4.4l1,3.6l1,2.8l1,1.8l1,0.8l1,0l1,0l1,0l1,0l1,0l1,0l1,0l1,0l1,0l1,0l1,0l1,0l1,0l1,0l1,0l1,0l1,0l1,0l1,0l1,0l1,0l1,0l1,0l1,0l1,0l1,0l1,0l1,0l1,0l1,0l1,0l1,0l1,0l1,0l1,0l1,0l1,0l1,0l1,0l1,0l1,0l1,0l1,0l1,0l1,0l1,0l1,0l1,0l1,0l1,0l1,0l1,0l1,0l1,0l1,0l1,0l1,0l1,0l1,0l1,0l1,0l1,0l1,0l1,0l1,0l1,0l1,0l1,0l1,0l1,0l1,0l1,0l1,0l1,0l1,0l1,0l1,0l1,0l1,0l1,0l1,0l1,0l1,0l1,-0.1l1,-0.7l1,-1.6l1,-2.4l1,-3.1l1,-3.7l1,-4.2l1,-4.6l1,-4.8l1,-5l1,-4.8l1,-4.7l1,-4.3l1,-3.8l1,-3.3l1,-2.5l1,-1.8l1,-0.9l1,-0.1l1,0.7l1,1.3l1,1.4l1,1.2l1,1.2l1,1.1l1,1l1,0.7l1,0.6l1,0.4l1,0.1l1,0l1,-0.3l1,-0.5l1,-0.7l1,-0.9l1,-1l1,-1l1,-0.4l1,0.4l1,1.2l1,1.9l1,2.6l1,3.2l1,3.7l1,4.1l1,4.4l1,4.5l1,4.5l1,4.4l1,4l1,3.7l1,3.1l1,2.6l1,1.8l1,1.1l1,0.3l1,0l1,0l1,0l1,0l1,0l1,0l1,0l1,0l1,0l1,-0.1l1,-0.8l1,-1.3l1,-1.9l1,-2.3l1,-2.8l1,-3.1l1,-3.4l1,-3.5l1,-3.5l1,-3.4l1,-3.2l1,-2.9l1,-2.5l1,-2.1l1,-1.5l1,-0.9l1,-0.3l1,0.3l1,0.9l1,1.5l1,2.1l1,2.5l1,2.9l1,3.2l1,3.4l1,3.5l1,3.5l1,3.4l1,3.1l1,2.8l1,2.3l1,1.9l1,1.3l1,0.8l1,0.1" fill="none" stroke="#2a2a2a" stroke-width="2.3" stroke-linejoin="round"/>
<line x1="19" y1="1236.5" x2="1654" y2="1236.5" stroke="#e2e2e2" stroke-width="2"/>
<path d="M19,1232.0v0l1,0l1,0l1,0l1,0l1,0l1,0l1,0l1,0l1,0l1,0l1,0l1,0l1,0l1,0l1,0l1,0l1,0l1,0l1,0l1,0l1,0l1,0l1,0l1,0l1,0l1,0l1,0l1,0l1,0l1,0l1,0l1,0l1,0l1,0l1,0l1,0l1,0l1,0l1,0l1,0l1,0l1,0l1,0l1,0l1,0l1,0l1,0l1,0l1,0l1,0l1,0l1,0l1,0l1,0l1,0l1,0l1,0l1,0l1,0l1,0l1,0l1,0l1,0l1,0l1,0l1,0l1,0l1,0l1,0l1,0l1,0l1,0l1,0l1,0l1,0l1,0l1,0l1,0l1,0l1,0l1,0l1,0l1,0l1,0l1,0l1,0l1,0l1,0l1,0l1,0l1,0l1,0l1,0l1,0l1,0l1,0l1,0l1,0l1,0l1,0l1,0l1,0l1,0l1,0l1,0l1,0l1,0l1,0l1,0l1,0l1,0l1,0l1,0l1,0l1,0l1,0l1,0l1,0l1,0l1,0l1,0l1,0l1,0l1,0l1,0l1,0l1,0l1,0l1,0l1,0l1,0l1,0l1,0l1,0l1,0l1,0l1,0l1,0l1,0l1,0l1,0l1,0l1,0l1,0l1,0l1,0l1,0l1,0l1,0l1,0l1,0l1,0l1,0l1,0l1,0l1,0l1,0l1,0l1,0l1,0l1,0l1,0l1,-0.1l1,-0.2l1,-0.3l1,-0.4l1,-0.5l1,-0.6l1,-0.6l1,-0.6l1,-0.6l1,-0.6l1,-0.6l1,-0.6l1,-0.4l1,-0.4l1,-0.3l1,-0.1l1,-0.1l1,0.1l1,0.1l1,0.3l1,0.4l1,0.4l1,0.6l1,0.6l1,0.6l1,0.6l1,0.6l1,0.6l1,0.6l1,0.5l1,0.4l1,0.3l1,0.2l1,0.1l1,0l1,0l1,0l1,0l1,0l1,0l1,0l1,0l1,0l1,-0.1l1,-0.1l1,-0.4l1,-0.4l1,-0.5l1,-0.7l1,-0.6l1,-0.8l1,-0.7l1,-0.8l1,-0.7l1,-0.7l1,-0.6l1,-0.5l1,-0.4l1,-0.2l1,-0.2l1,0l1,0.2l1,0.2l1,0.4l1,0.5l1,0.6l1,0.7l1,0.7l1,0.8l1,0.7l1,0.8l1,0.6l1,0.7l1,0.5l1,0.4l1,0.4l1,0.1l1,0.1l1,0l1,0l1,0l1,0l1,0l1,0l1,0l1,0l1,0l1,0l1,0l1,0l1,0l1,0l1,-0.1l1,-0.1l1,-0.2l1,-0.3l1,-0.3l1,-0.4l1,-0.3l1,-0.4l1,-0.4l1,-0.4l1,-0.4l1,-0.3l1,-0.3l1,-0.3l1,-0.2l1,-0.1l1,0l1,0l1,0.1l1,0.2l1,0.3l1,0.3l1,0.3l1,0.4l1,0.4l1,0.4l1,0.4l1,0.3l1,0.4l1,0.3l1,0.3l1,0.2l1,0.1l1,0.1l1,0l1,0l1,0l1,0l1,0l1,0l1,0l1,0l1,0l1,0l1,-0.2l1,-0.2l1,-0.5l1,-0.5l1,-0.6l1,-0.7l1,-0.8l1,-0.8l1,-0.8l1,-0.8l1,-0.7l1,-0.7l1,-0.6l1,-0.5l1,-0.3l1,-0.2l1,-0.1l1,0.1l1,0.2l1,0.3l1,0.5l1,0.6l1,0.7l1,0.7l1,0.8l1,0.8l1,0.8l1,0.8l1,0.7l1,0.6l1,0.5l1,0.5l1,0.2l1,0.2l1,0l1,0l1,0l1,0l1,0l1,0l1,0l1,0l1,0l1,0l1,0l1,0l1,0l1,0l1,0l1,0l1,0l1,0l1,0l1,0l1,0l1,0l1,0l1,0l1,0l1,0l1,-0.2l1,-0.3l1,-0.5l1,-0.5l1,-0.7l1,-0.8l1,-0.8l1,-0.8l1,-0.9l1,-0.8l1,-0.8l1,-0.7l1,-0.6l1,-0.5l1,-0.4l1,-0.2l1,-0.1l1,0.1l1,0.2l1,0.4l1,0.5l1,0.6l1,0.7l1,0.8l1,0.7l1,0.7l1,0.6l1,0.5l1,0.4l1,0.3l1,0.2l1,0l1,-0.2l1,-0.2l1,-0.4l1,-0.4l1,-0.3l1,-0.3l1,-0.1l1,-0.2l1,0l1,0l1,0.2l1,0.1l1,0.3l1,0.3l1,0.4l1,0.4l1,0.4l1,0.5l1,0.4l1,0.4l1,0.4l1,0.4l1,0.3l1,0.2l1,0.2l1,0.1l1,0l1,0l1,0l1,0l1,0l1,0l1,0l1,0l1,0l1,0l1,0l1,0l1,0l1,0l1,0l1,0l1,0l1,0l1,0l1,0l1,0l1,0l1,0l1,0l1,0l1,0l1,0l1,0l1,-0.2l1,-0.2l1,-0.3l1,-0.4l1,-0.5l1,-0.5l1,-0.5l1,-0.6l1,-0.6l1,-0.6l1,-0.5l1,-0.5l1,-0.4l1,-0.3l1,-0.3l1,-0.1l1,-0.1l1,0.1l1,0.1l1,0.3l1,0.3l1,0.4l1,0.5l1,0.5l1,0.6l1,0.6l1,0.6l1,0.5l1,0.5l1,0.5l1,0.3l1,0l1,-0.2l1,-0.5l1,-0.6l1,-0.9l1,-0.9l1,-0.9l1,-1l1,-0.9l1,-1l1,-0.8l1,-0.8l1,-0.6l1,-0.5l1,-0.4l1,-0.2l1,0l1,0.2l1,0.3l1,0.5l1,0.6l1,0.7l1,0.9l1,0.8l1,0.7l1,0.5l1,0.4l1,0.3l1,0l1,-0.2l1,-0.3l1,-0.5l1,-0.6l1,-0.8l1,-0.9l1,-0.7l1,-0.7l1,-0.5l1,-0.4l1,-0.2l1,-0.1l1,0.1l1,0.3l1,0.5l1,0.5l1,0.8l1,0.8l1,0.9l1,0.9l1,1l1,0.9l1,1l1,0.8l1,0.8l1,0.6l1,0.5l1,0.4l1,0.2l1,0l1,0l1,0l1,0l1,0l1,0l1,0l1,0l1,0l1,0l1,0l1,0l1,0l1,0l1,0l1,-0.1l1,-0.1l1,-0.1l1,-0.1l1,-0.2l1,-0.3l1,-0.2l1,-0.3l1,-0.3l1,-0.3l1,-0.4l1,-0.3l1,-0.4l1,-0.4l1,-0.4l1,-0.4l1,-0.4l1,-0.4l1,-0.4l1,-0.4l1,-0.4l1,-0.3l1,-0.4l1,-0.3l1,-0.3l1,-0.3l1,-0.2l1,-0.3l1,-0.2l1,-0.1l1,-0.1l1,-0.1l1,-0.1l1,0l1,0l1,0.1l1,0.1l1,0.1l1,0.1l1,0.2l1,0.3l1,0.2l1,0.3l1,0.3l1,0.3l1,0.4l1,0.3l1,0.4l1,0.4l1,0.4l1,0.4l1,0.4l1,0.4l1,0.4l1,0.4l1,0.4l1,0.3l1,0.4l1,0.3l1,0.3l1,0.3l1,0.2l1,0.3l1,0.2l1,0.1l1,0.1l1,0.1l1,0.1l1,0l1,0l1,0l1,0l1,0l1,0l1,0l1,0l1,0l1,0l1,0l1,0l1,-0.2l1,-0.3l1,-0.4l1,-0.6l1,-0.6l1,-0.8l1,-0.7l1,-0.9l1,-0.8l1,-0.8l1,-0.8l1,-0.7l1,-0.7l1,-0.5l1,-0.4l1,-0.3l1,-0.1l1,0l1,0.2l1,0.3l1,0.4l1,0.6l1,0.6l1,0.7l1,0.8l1,0.9l1,0.8l1,0.8l1,0.8l1,0.7l1,0.6l1,0.6l1,0.4l1,0.3l1,0.1l1,0l1,0l1,0l1,0l1,0l1,0l1,0l1,0l1,-0.2l1,-0.4l1,-0.6l1,-0.7l1,-0.9l1,-1l1,-1.1l1,-1.1l1,-1.2l1,-1.2l1,-1.1l1,-1l1,-0.9l1,-0.7l1,-0.6l1,-0.4l1,-0.3l1,0l1,0.2l1,0.4l1,0.5l1,0.8l1,0.8l1,1l1,1.1l1,1.2l1,1.1l1,1.2l1,1.1l1,1l1,0.9l1,0.8l1,0.6l1,0.4l1,0.3l1,0l1,0l1,0l1,0l1,0l1,0l1,0l1,0l1,0l1,0l1,0l1,0l1,0l1,0l1,0l1,0l1,0l1,0l1,0l1,0l1,0l1,0l1,0l1,-0.1l1,-0.2l1,-0.3l1,-0.4l1,-0.6l1,-0.6l1,-0.6l1,-0.7l1,-0.8l1,-0.7l1,-0.7l1,-0.6l1,-0.6l1,-0.5l1,-0.4l1,-0.4l1,-0.1l1,-0.1l1,0.1l1,0.1l1,0.4l1,0.4l1,0.5l1,0.6l1,0.6l1,0.7l1,0.7l1,0.8l1,0.7l1,0.6l1,0.6l1,0.2l1,-0.2l1,-0.6l1,-0.9l1,-1.3l1,-1.5l1,-1.7l1,-1.7l1,-1.7l1,-1.8l1,-1.6l1,-1.5l1,-1.4l1,-1.1l1,-0.9l1,-0.6l1,-0.3l1,-0.1l1,0.3l1,0.6l1,0.8l1,1.1l1,1.3l1,1.5l1,1.6l1,1.7l1,1.8l1,1.7l1,1.7l1,1.5l1,1.4l1,1.2l1,0.9l1,0.7l1,0.4l1,0.1l1,0l1,0l1,0l1,0l1,0l1,0l1,0l1,0l1,0l1,0l1,0l1,0l1,0l1,0l1,0l1,0l1,0l1,0l1,0l1,0l1,0l1,0l1,0l1,0l1,0l1,0l1,0l1,0l1,0l1,0l1,0l1,0l1,0l1,0l1,0l1,0l1,0l1,0l1,0l1,0l1,0l1,0l1,0l1,0l1,0l1,0l1,0l1,0l1,0l1,0l1,0l1,0l1,-0.4l1,-0.7l1,-1.2l1,-1.5l1,-1.8l1,-2.1l1,-2.2l1,-2.4l1,-2.5l1,-2.4l1,-2.4l1,-2.2l1,-2l1,-1.7l1,-1.3l1,-1.1l1,-0.6l1,-0.2l1,0.2l1,0.6l1,1.1l1,1.3l1,1.7l1,2l1,2.2l1,2.4l1,2.4l1,2.5l1,2.4l1,2.2l1,2.1l1,1.8l1,1.5l1,1.2l1,0.7l1,0.4l1,0l1,0l1,0l1,0l1,0l1,0l1,0l1,0l1,0l1,0l1,0l1,0l1,0l1,0l1,0l1,0l1,0l1,0l1,0l1,0l1,0l1,0l1,0l1,0l1,0l1,0l1,0l1,0l1,0l1,0l1,0l1,0l1,0l1,0l1,0l1,0l1,0l1,0l1,0l1,0l1,0l1,0l1,0l1,0l1,0l1,0l1,0l1,0l1,0l1,0l1,0l1,0l1,0l1,0l1,0l1,0l1,0l1,0l1,0l1,0l1,0l1,0l1,0l1,0l1,0l1,0l1,0l1,0l1,0l1,0l1,0l1,0l1,0l1,0l1,0l1,0l1,0l1,0l1,0l1,0l1,0l1,0l1,0l1,0l1,0l1,0l1,0l1,0l1,0l1,0l1,0l1,0l1,0l1,-0.6l1,-2l1,-3.5l1,-4.9l1,-6.2l1,-7.4l1,-8.3l1,-9.1l1,-9.8l1,-10.1l1,-10.3l1,-10.3l1,-10l1,-9.5l1,-8.8l1,-7.9l1,-6.8l1,-5.7l1,-4.2l1,-2.9l1,-1.4l1,0.2l1,1.6l1,3.2l1,4.6l1,5.8l1,7l1,8l1,8.8l1,9.5l1,9.9l1,10.1l1,9.2l1,8.3l1,7l1,5.7l1,4.2l1,2.6l1,1l1,-0.7l1,-2.3l1,-3.9l1,-5.3l1,-5.5l1,-5.3l1,-4.9l1,-4.4l1,-3.9l1,-3.2l1,-2.6l1,-1.8l1,-1l1,-0.2l1,0.7l1,1.5l1,2.4l1,3l1,3.8l1,4.3l1,4.9l1,5.3l1,5.5l1,5.7l1,5.8l1,5.7l1,5.4l1,5.2l1,4.7l1,4.1l1,3.5l1,2.8l1,2.1l1,1.2l1,0.4l1,0l1,0l1,0l1,0l1,0l1,0l1,0l1,0l1,0l1,0l1,0l1,0l1,0l1,0l1,0l1,0l1,0l1,0l1,0l1,0l1,0l1,0l1,0l1,0l1,0l1,-0.1l1,-0.3l1,-0.6l1,-0.9l1,-1.1l1,-1.3l1,-1.5l1,-1.6l1,-1.6l1,-1.7l1,-1.7l1,-1.6l1,-1.6l1,-1.3l1,-1.2l1,-0.9l1,-0.7l1,-0.5l1,-0.1l1,0.1l1,0.5l1,0.7l1,0.9l1,1.2l1,1.3l1,1.6l1,1.6l1,1.7l1,1.7l1,1.6l1,1.6l1,1.5l1,1.3l1,1.1l1,0.9l1,0.6l1,0.3l1,0.1l1,0l1,0l1,0l1,0l1,0l1,0l1,0l1,0l1,0l1,0l1,0l1,0l1,-0.9l1,-2.1l1,-3.2l1,-4.2l1,-5.2l1,-6.1l1,-6.7l1,-7.4l1,-7.7l1,-8l1,-8l1,-8l1,-7.6l1,-7.2l1,-6.6l1,-5.9l1,-4.9l1,-4l1,-2.9l1,-1.8l1,-0.6l1,0.6l1,1.8l1,2.9l1,4l1,4.9l1,5.9l1,6.6l1,7.2l1,7.6l1,8l1,8l1,8l1,7.7l1,7.4l1,6.7l1,6.1l1,5.2l1,4.2l1,3.2l1,2.1l1,0.9l1,0l1,-0.9l1,-2.6l1,-4.2l1,-5.8l1,-7.1l1,-8.5l1,-9.4l1,-10.2l1,-10.8l1,-11l1,-11l1,-10.8l1,-10.2l1,-9.4l1,-8.5l1,-7.1l1,-5.8l1,-4.2l1,-2.6l1,-0.9l1,0.9l1,2.6l1,4.2l1,5.8l1,7.1l1,8.4l1,8.7l1,8.2l1,7.8l1,6.9l1,6.1l1,5l1,3.8l1,2.6l1,1.1l1,-0.1l1,-1.6l1,-2.9l1,-4.1l1,-5.3l1,-5.5l1,-4.6l1,-3.6l1,-2.6l1,-1.5l1,-0.4l1,0.8l1,2l1,3l1,4.1l1,4.9l1,5.8l1,6.4l1,6.9l1,7.2l1,7.4l1,7.3l1,7.1l1,6.7l1,6.2l1,5.5l1,4.6l1,3.6l1,2.6l1,1.5l1,0.4l1,0l1,0l1,0l1,0l1,0l1,0l1,0l1,0l1,0l1,0l1,0l1,0l1,0l1,0l1,0l1,0l1,0l1,0l1,0l1,0l1,0l1,0l1,0l1,0l1,0l1,0l1,0l1,0l1,0l1,0l1,0l1,0l1,0l1,0l1,0l1,0l1,0l1,0l1,0l1,0l1,0l1,0l1,0l1,0l1,0l1,0l1,0l1,0l1,0l1,0l1,0l1,0l1,0l1,0l1,0l1,0l1,0l1,0l1,0l1,0l1,0l1,0l1,0l1,0l1,0l1,0l1,0l1,0l1,0l1,0l1,0l1,0l1,0l1,0l1,0l1,0l1,0l1,0l1,0l1,0l1,0l1,0l1,-0.7l1,-1.6l1,-2.5l1,-3.3l1,-4l1,-4.7l1,-5.3l1,-5.7l1,-6l1,-6.2l1,-6.3l1,-6.1l1,-6l1,-5.6l1,-5.1l1,-4.5l1,-3.9l1,-3.1l1,-2.3l1,-1.3l1,-0.5l1,0.5l1,1.3l1,2.3l1,3.1l1,3.9l1,4.5l1,5.1l1,5.6l1,6l1,6.1l1,6.3l1,6.2l1,6l1,5.7l1,5.3l1,4.7l1,4l1,3.3l1,2.5l1,1.6l1,0.7l1,0l1,0l1,0l1,0l1,0l1,0l1,0l1,0l1,0l1,0l1,0l1,0l1,0l1,0l1,0l1,0l1,0l1,0l1,0l1,0l1,0l1,0l1,0l1,0l1,0l1,0l1,0l1,0l1,0l1,0l1,0l1,0l1,0l1,0l1,0l1,0l1,0l1,0l1,0l1,0l1,0l1,0l1,0l1,0l1,0l1,0l1,0l1,0l1,0l1,0l1,0l1,0l1,0l1,0l1,0l1,0l1,0l1,0l1,0l1,0l1,0l1,0l1,0l1,0l1,0l1,0l1,0l1,0l1,0l1,0l1,0l1,0l1,0l1,0l1,0l1,0l1,0l1,0l1,0l1,0l1,0l1,0l1,0l1,0l1,0l1,0l1,-0.1l1,-0.1l1,-0.1l1,-0.3l1,-0.3l1,-0.3l1,-0.4l1,-0.3l1,-0.4l1,-0.5l1,-0.4l1,-0.3l1,-0.4l1,-0.3l1,-0.3l1,-0.2l1,-0.2l1,-0.1l1,0l1,0l1,0.1l1,0.2l1,0.2l1,0.3l1,0.3l1,0.4l1,0.3l1,0.4l1,0.5l1,0.4l1,0.3l1,0.4l1,0.3l1,0.3l1,0.3l1,0.1l1,0.1l1,0.1l1,0l1,0l1,0l1,0l1,0l1,0l1,0l1,0l1,0l1,0l1,0l1,0l1,0l1,0l1,0l1,0l1,0l1,0l1,0l1,0l1,0l1,0l1,0l1,0l1,0l1,0l1,0l1,0l1,0l1,0l1,0l1,0l1,0l1,0l1,0l1,0l1,0l1,0l1,0l1,0l1,0l1,0l1,0l1,0l1,0l1,0l1,0l1,0l1,0l1,0l1,0l1,0l1,0l1,0l1,0l1,0l1,0l1,0l1,0l1,0l1,0l1,0l1,0l1,0l1,0l1,0l1,0l1,0l1,0l1,0l1,0l1,0l1,0l1,0l1,-0.1l1,-0.1l1,-0.1l1,-0.2l1,-0.2l1,-0.3l1,-0.3l1,-0.3l1,-0.3l1,-0.3l1,-0.3l1,-0.3l1,-0.3l1,-0.3l1,-0.2l1,-0.2l1,-0.1l1,-0.1l1,0l1,0l1,0.1l1,0.1l1,0.2l1,0.2l1,0.3l1,0.3l1,0.3l1,0.3l1,0.3l1,0.3l1,0.3l1,0.3l1,0.3l1,0.2l1,0.2l1,0.1l1,0.1l1,0.1l1,0l1,0l1,0l1,0l1,0l1,0l1,0l1,0l1,0l1,0l1,0l1,0l1,0l1,0l1,0l1,0l1,0l1,0l1,0l1,0l1,0l1,0l1,0l1,0l1,0l1,0l1,0l1,0l1,0l1,0l1,0l1,0l1,0l1,0l1,0l1,0l1,0l1,0l1,0l1,0" fill="none" stroke="#2aee2a" stroke-width="2.3" stroke-linejoin="round"/>
<path d="M19,1234.0v0l1,0l1,0l1,0l1,0l1,0l1,0l1,0l1,0l1,0l1,0l1,0l1,0l1,0l1,0l1,0l1,0l1,0l1,0l1,0l1,0l1,0l1,0l1,0l1,0l1,0l1,0l1,0l1,0l1,0l1,0l1,0l1,0l1,0l1,0l1,0l1,0l1,0l1,0l1,0l1,0l1,0l1,0l1,0l1,0l1,0l1,0l1,0l1,0l1,0l1,0l1,0l1,0l1,0l1,0l1,0l1,0l1,0l1,0l1,0l1,0l1,0l1,0l1,0l1,0l1,0l1,0l1,0l1,0l1,0l1,0l1,0l1,0l1,0l1,0l1,0l1,0l1,0l1,0l1,0l1,0l1,0l1,0l1,0l1,0l1,0l1,0l1,0l1,0l1,0l1,0l1,0l1,0l1,0l1,0l1,-0.7l1,-2l1,-3.2l1,-4.3l1,-5.3l1,-6.1l1,-6.8l1,-7.4l1,-7.6l1,-7.6l1,-7.5l1,-7.2l1,-6.6l1,-5.9l1,-5l1,-3.9l1,-2.8l1,-1.5l1,-0.2l1,1l1,2.3l1,3.4l1,4.6l1,5.5l1,6.4l1,6.9l1,7.4l1,7.7l1,7.6l1,7.5l1,7l1,6.5l1,5.6l1,4.8l1,3.6l1,2.5l1,1.2l1,0.1l1,0l1,0l1,0l1,0l1,0l1,0l1,-0.2l1,-0.3l1,-0.6l1,-0.8l1,-0.9l1,-1l1,-1.1l1,-1.2l1,-1.1l1,-1.2l1,-1.1l1,-1l1,-0.9l1,-0.7l1,-0.5l1,-0.3l1,-0.1l1,0.1l1,0.3l1,0.5l1,0.7l1,0.9l1,1l1,1.1l1,1.2l1,1.1l1,1.2l1,1.1l1,1l1,0.9l1,0.8l1,0.6l1,0.3l1,0.2l1,0l1,0l1,0l1,0l1,0l1,0l1,0l1,0l1,0l1,0l1,0l1,0l1,0l1,0l1,0l1,0l1,0l1,0l1,0l1,0l1,0l1,0l1,0l1,0l1,0l1,0l1,0l1,0l1,0l1,0l1,0l1,0l1,0l1,0l1,0l1,0l1,0l1,0l1,0l1,0l1,0l1,0l1,0l1,0l1,0l1,0l1,0l1,0l1,0l1,0l1,-0.1l1,-0.3l1,-0.4l1,-0.4l1,-0.6l1,-0.7l1,-0.7l1,-0.9l1,-0.8l1,-0.9l1,-0.9l1,-0.9l1,-0.9l1,-0.8l1,-0.8l1,-0.7l1,-0.7l1,-0.5l1,-0.4l1,-0.3l1,-0.2l1,-0.1l1,0.1l1,0.2l1,0.3l1,0.4l1,0.5l1,0.7l1,0.7l1,0.8l1,0.8l1,0.9l1,0.9l1,0.9l1,0.9l1,0.8l1,0.9l1,0.7l1,0.7l1,0.6l1,0.4l1,0.4l1,0.3l1,0.1l1,0l1,0l1,0l1,0l1,0l1,0l1,0l1,0l1,0l1,0l1,0l1,0l1,0l1,0l1,0l1,0l1,0l1,0l1,0l1,0l1,0l1,0l1,0l1,0l1,0l1,0l1,0l1,0l1,0l1,0l1,0l1,0l1,0l1,0l1,0l1,0l1,0l1,0l1,0l1,0l1,0l1,0l1,0l1,0l1,0l1,0l1,0l1,0l1,0l1,0l1,0l1,-0.1l1,-0.1l1,-0.2l1,-0.3l1,-0.3l1,-0.4l1,-0.5l1,-0.5l1,-0.4l1,-0.5l1,-0.4l1,-0.5l1,-0.3l1,-0.3l1,-0.3l1,-0.1l1,-0.1l1,0l1,0.1l1,0.2l1,0.2l1,0.4l1,0.3l1,0.4l1,0.5l1,0.5l1,0.4l1,0.5l1,0.4l1,0.4l1,0.4l1,0.2l1,0.2l1,0.2l1,0l1,0l1,0l1,0l1,0l1,0l1,0l1,0l1,0l1,0l1,0l1,0l1,0l1,0l1,0l1,0l1,0l1,0l1,0l1,0l1,0l1,0l1,0l1,0l1,0l1,0l1,0l1,0l1,0l1,0l1,0l1,0l1,0l1,0l1,0l1,0l1,0l1,0l1,0l1,0l1,0l1,0l1,0l1,0l1,0l1,0l1,0l1,0l1,0l1,0l1,0l1,0l1,0l1,0l1,0l1,0l1,0l1,0l1,0l1,0l1,0l1,0l1,0l1,0l1,0l1,0l1,-0.3l1,-0.4l1,-0.6l1,-0.8l1,-0.9l1,-1.1l1,-1.1l1,-1.1l1,-1.2l1,-1.1l1,-1l1,-1l1,-0.8l1,-0.7l1,-0.5l1,-0.3l1,-0.1l1,0.1l1,0.3l1,0.5l1,0.7l1,0.8l1,1l1,1l1,1.1l1,1.2l1,1.1l1,1.1l1,1.1l1,0.9l1,0.8l1,0.6l1,0.4l1,0.3l1,0l1,0l1,0l1,0l1,0l1,0l1,0l1,0l1,0l1,0l1,0l1,0l1,0l1,0l1,0l1,0l1,0l1,0l1,0l1,0l1,0l1,0l1,0l1,0l1,0l1,0l1,0l1,0l1,0l1,0l1,0l1,0l1,0l1,0l1,0l1,0l1,0l1,0l1,0l1,0l1,0l1,0l1,0l1,0l1,0l1,0l1,0l1,0l1,0l1,0l1,0l1,0l1,0l1,0l1,0l1,0l1,0l1,0l1,0l1,0l1,0l1,0l1,0l1,0l1,0l1,0l1,0l1,0l1,0l1,0l1,0l1,0l1,0l1,0l1,-0.1l1,-0.2l1,-0.4l1,-0.4l1,-0.5l1,-0.6l1,-0.7l1,-0.7l1,-0.7l1,-0.7l1,-0.7l1,-0.6l1,-0.5l1,-0.5l1,-0.3l1,-0.3l1,-0.1l1,0l1,0.1l1,0.3l1,0.3l1,0.5l1,0.5l1,0.6l1,0.7l1,0.7l1,0.7l1,0.7l1,0.7l1,0.6l1,0.5l1,0.4l1,0.4l1,0.2l1,0.1l1,0l1,0l1,0l1,0l1,0l1,0l1,0l1,0l1,0l1,0l1,0l1,0l1,0l1,0l1,0l1,0l1,0l1,0l1,0l1,0l1,0l1,0l1,0l1,0l1,0l1,0l1,0l1,0l1,0l1,0l1,0l1,0l1,0l1,-0.1l1,-0.1l1,-0.1l1,-0.2l1,-0.2l1,-0.3l1,-0.3l1,-0.3l1,-0.4l1,-0.3l1,-0.4l1,-0.5l1,-0.4l1,-0.4l1,-0.5l1,-0.5l1,-0.4l1,-0.5l1,-0.5l1,-0.4l1,-0.4l1,-0.5l1,-0.4l1,-0.3l1,-0.4l1,-0.3l1,-0.3l1,-0.3l1,-0.2l1,-0.2l1,-0.1l1,-0.1l1,-0.1l1,0l1,0l1,0.1l1,0.1l1,0.1l1,0.2l1,0.2l1,0.3l1,0.3l1,0.3l1,0.4l1,0.3l1,0.4l1,0.5l1,0.4l1,0.4l1,0.5l1,0.5l1,0.4l1,0.5l1,0.5l1,0.4l1,0.4l1,0.5l1,0.4l1,0.3l1,0.4l1,0.3l1,0.3l1,0.3l1,0.2l1,0.2l1,0.1l1,0.1l1,0.1l1,0l1,0l1,0l1,0l1,0l1,0l1,0l1,0l1,0l1,0l1,0l1,0l1,0l1,0l1,0l1,0l1,0l1,0l1,0l1,0l1,0l1,0l1,0l1,0l1,0l1,0l1,0l1,0l1,0l1,0l1,0l1,0l1,0l1,0l1,0l1,0l1,0l1,0l1,0l1,0l1,0l1,0l1,0l1,-0.2l1,-0.3l1,-0.5l1,-0.7l1,-0.8l1,-0.8l1,-1l1,-1l1,-1.1l1,-1l1,-1l1,-0.9l1,-0.8l1,-0.7l1,-0.6l1,-0.3l1,-0.3l1,0l1,0.2l1,0.3l1,0.5l1,0.6l1,0.8l1,0.8l1,1l1,1l1,1l1,1.1l1,1l1,0.9l1,0.8l1,0.7l1,0.6l1,0.4l1,0.2l1,0.1l1,0l1,0l1,0l1,0l1,0l1,0l1,0l1,0l1,0l1,0l1,0l1,0l1,0l1,0l1,0l1,0l1,0l1,0l1,0l1,0l1,0l1,0l1,0l1,0l1,0l1,0l1,0l1,0l1,0l1,0l1,0l1,0l1,0l1,0l1,0l1,0l1,0l1,0l1,0l1,0l1,0l1,0l1,0l1,0l1,0l1,0l1,0l1,0l1,0l1,0l1,0l1,0l1,0l1,0l1,0l1,0l1,0l1,0l1,0l1,0l1,0l1,0l1,0l1,0l1,0l1,0l1,0l1,0l1,0l1,0l1,0l1,0l1,0l1,0l1,0l1,0l1,0l1,0l1,0l1,0l1,0l1,0l1,0l1,0l1,0l1,0l1,0l1,0l1,0l1,0l1,0l1,0l1,0l1,0l1,0l1,0l1,0l1,0l1,0l1,0l1,0l1,0l1,0l1,0l1,0l1,0l1,0l1,0l1,0l1,0l1,0l1,0l1,0l1,0l1,0l1,0l1,0l1,0l1,0l1,0l1,0l1,0l1,0l1,0l1,0l1,0l1,0l1,-0.1l1,-0.1l1,-0.1l1,-0.1l1,-0.2l1,-0.2l1,-0.2l1,-0.3l1,-0.3l1,-0.2l1,-0.3l1,-0.4l1,-0.3l1,-0.3l1,-0.4l1,-0.4l1,-0.3l1,-0.4l1,-0.3l1,-0.4l1,-0.3l1,-0.4l1,-0.3l1,-0.3l1,-0.3l1,-0.3l1,-0.2l1,-0.3l1,-0.2l1,-0.2l1,-0.1l1,-0.2l1,-0.1l1,0l1,-0.1l1,0l1,0l1,0.1l1,0l1,0.1l1,0.2l1,0.1l1,0.2l1,0.2l1,0.3l1,0.2l1,0.3l1,0.3l1,0.3l1,0.3l1,0.4l1,0.3l1,0.4l1,0.3l1,0.4l1,0.3l1,0.4l1,0.4l1,0.3l1,0.3l1,0.4l1,0.3l1,0.2l1,0.3l1,0.3l1,0.2l1,0.2l1,0.2l1,0.1l1,0.1l1,0.1l1,0.1l1,0l1,0l1,0l1,0l1,0l1,0l1,0l1,0l1,0l1,0l1,0l1,0l1,0l1,0l1,0l1,0l1,0l1,0l1,0l1,0l1,0l1,0l1,0l1,0l1,0l1,0l1,0l1,0l1,0l1,0l1,0l1,0l1,0l1,0l1,0l1,0l1,0l1,0l1,0l1,0l1,0l1,0l1,0l1,0l1,0l1,0l1,0l1,0l1,0l1,0l1,0l1,0l1,0l1,0l1,0l1,0l1,0l1,0l1,0l1,0l1,0l1,0l1,0l1,0l1,0l1,0l1,0l1,0l1,0l1,0l1,0l1,0l1,0l1,0l1,0l1,0l1,0l1,0l1,0l1,0l1,0l1,0l1,0l1,0l1,0l1,0l1,0l1,0l1,0l1,0l1,0l1,0l1,0l1,0l1,0l1,0l1,0l1,0l1,0l1,0l1,0l1,0l1,0l1,0l1,0l1,0l1,0l1,0l1,0l1,0l1,0l1,0l1,0l1,0l1,0l1,0l1,0l1,0l1,0l1,0l1,0l1,0l1,0l1,0l1,0l1,0l1,0l1,0l1,0l1,0l1,0l1,0l1,0l1,0l1,0l1,0l1,0l1,0l1,0l1,0l1,0l1,0l1,0l1,0l1,0l1,0l1,0l1,0l1,0l1,0l1,0l1,0l1,0l1,0l1,-0.1l1,-0.1l1,-0.3l1,-0.3l1,-0.4l1,-0.4l1,-0.5l1,-0.5l1,-0.6l1,-0.5l1,-0.5l1,-0.5l1,-0.5l1,-0.4l1,-0.4l1,-0.2l1,-0.2l1,-0.1l1,0l1,0.1l1,0.2l1,0.2l1,0.4l1,0.4l1,0.5l1,0.5l1,0.5l1,0.5l1,0.6l1,0.5l1,0.5l1,0.3l1,0.1l1,0l1,-0.2l1,-0.4l1,-0.5l1,-0.6l1,-0.7l1,-0.7l1,-0.6l1,-0.7l1,-0.5l1,-0.6l1,-0.4l1,-0.4l1,-0.3l1,-0.1l1,-0.1l1,0.1l1,0.1l1,0.3l1,0.4l1,0.4l1,0.6l1,0.5l1,0.7l1,0.6l1,0.7l1,0.7l1,0.6l1,0.6l1,0.5l1,0.4l1,0.4l1,0.2l1,0.2l1,0l1,0l1,0l1,0l1,0l1,0l1,0l1,0l1,0l1,0l1,0l1,0l1,0l1,0l1,0l1,0l1,0l1,0l1,0l1,0l1,0l1,0l1,0l1,0l1,0l1,0l1,0l1,0l1,0l1,0l1,0l1,0l1,0l1,0l1,0l1,0l1,0l1,0l1,0l1,0l1,0l1,0l1,0l1,0l1,0l1,0l1,0l1,0l1,0l1,0l1,0l1,0l1,0l1,0l1,0l1,0l1,0l1,0l1,0l1,0l1,0l1,0l1,0l1,0l1,-0.3l1,-0.8l1,-1.3l1,-1.7l1,-2.1l1,-2.4l1,-2.7l1,-2.9l1,-3l1,-3l1,-2.9l1,-2.9l1,-2.6l1,-2.3l1,-2l1,-1.6l1,-1.1l1,-0.6l1,-0.2l1,0.4l1,0.8l1,1.3l1,1.8l1,2.1l1,2.4l1,2.7l1,2.9l1,3l1,3l1,3l1,2.8l1,2.6l1,2.3l1,1.9l1,1.6l1,1.1l1,0.6l1,0.1l1,0l1,0l1,0l1,0l1,0l1,0l1,0l1,0l1,0l1,0l1,0l1,0l1,0l1,0l1,0l1,0l1,0l1,0l1,0l1,0l1,0l1,0l1,0l1,0l1,0l1,0l1,0l1,0l1,-0.1l1,-0.3l1,-0.5l1,-0.6l1,-0.7l1,-0.8l1,-0.9l1,-1l1,-1l1,-1.1l1,-1l1,-1l1,-0.8l1,-0.8l1,-0.7l1,-0.5l1,-0.4l1,-0.2l1,-0.1l1,0.1l1,0.3l1,0.5l1,0.5l1,0.8l1,0.8l1,0.9l1,1l1,1l1,1.1l1,1l1,0.9l1,0.9l1,0.8l1,0.7l1,0.5l1,0.4l1,0.2l1,0.1l1,0l1,0l1,0l1,0l1,0l1,0l1,0l1,0l1,0l1,0l1,0l1,0l1,0l1,0l1,0l1,0l1,0l1,0l1,0l1,0l1,0l1,0l1,0l1,0l1,0l1,0l1,0l1,0l1,0l1,0l1,0l1,0l1,0l1,0l1,0l1,0l1,0l1,0l1,0l1,0l1,0l1,0l1,0l1,0l1,0l1,0l1,0l1,0l1,0l1,0l1,0l1,0l1,0l1,0l1,0l1,0l1,0l1,0l1,0l1,0l1,0l1,0l1,0l1,0l1,0l1,0l1,0l1,0l1,0l1,0l1,0l1,0l1,0l1,0l1,0l1,0l1,0l1,0l1,0l1,0l1,0l1,0l1,0l1,0l1,0l1,0l1,0l1,-0.5l1,-1l1,-1.5l1,-2l1,-2.3l1,-2.7l1,-3l1,-3.1l1,-3.2l1,-3.3l1,-3.2l1,-3l1,-2.9l1,-2.4l1,-2.2l1,-1.6l1,-1.2l1,-0.7l1,-0.2l1,0.4l1,0.9l1,1.4l1,1.8l1,2.3l1,2.6l1,2.9l1,3.2l1,3.2l1,3.3l1,3.2l1,3.1l1,2.8l1,2.6l1,2.2l1,1.7l1,1.3l1,0.8l1,0.3l1,0l1,0l1,0l1,0l1,0l1,0l1,0l1,0l1,0l1,0l1,0l1,0l1,0l1,0l1,0l1,0l1,0l1,0l1,0l1,0l1,0l1,0l1,0l1,0l1,0l1,0l1,-0.1l1,-0.2l1,-0.3l1,-0.4l1,-0.5l1,-0.5l1,-0.6l1,-0.7l1,-0.7l1,-0.6l1,-0.7l1,-0.7l1,-0.6l1,-0.5l1,-0.4l1,-0.4l1,-0.3l1,-0.1l1,-0.1l1,0.1l1,0.1l1,0.3l1,0.4l1,0.4l1,0.4l1,0.5l1,0.5l1,0.4l1,0.4l1,0.3l1,0.3l1,0.2l1,0.1l1,0l1,-0.1l1,-0.2l1,-0.4l1,-0.5l1,-0.6l1,-0.6l1,-0.5l1,-0.6l1,-0.6l1,-0.6l1,-0.6l1,-0.5l1,-0.5l1,-0.5l1,-0.4l1,-0.5l1,-0.3l1,-0.4l1,-0.2l1,-0.3l1,-0.2l1,-0.1l1,-0.1l1,0l1,0l1,0.1l1,0.1l1,0.2l1,0.3l1,0.2l1,0.4l1,0.3l1,0.5l1,0.4l1,0.5l1,0.5l1,0.5l1,0.6l1,0.6l1,0.6l1,0.6l1,0.5l1,0.6l1,0.6l1,0.6l1,0.6l1,0.5l1,0.5l1,0.5l1,0.4l1,0.5l1,0.3l1,0.4l1,0.2l1,0.3l1,0.2l1,0.1l1,0.1l1,0l1,0l1,0l1,0l1,0l1,0l1,0l1,0l1,0l1,0l1,0l1,0l1,0l1,0l1,0l1,0l1,0l1,0l1,0l1,0l1,0l1,0l1,0l1,0l1,0l1,0l1,0l1,0l1,0l1,0l1,0l1,-0.2l1,-0.2l1,-0.4l1,-0.5l1,-0.5l1,-0.6l1,-0.7l1,-0.7l1,-0.7l1,-0.8l1,-0.7l1,-0.6l1,-0.6l1,-0.6l1,-0.4l1,-0.4l1,-0.2l1,-0.2l1,0l1,0.1l1,0.2l1,0.3l1,0.4l1,0.5l1,0.6l1,0.7l1,0.7l1,0.7l1,0.7l1,0.7l1,0.7l1,0.6l1,0.6" fill="none" stroke="#ff4242" stroke-width="2.3" stroke-linejoin="round"/>
<path d="M19,1233.5v0l1,0l1,0l1,0l1,0l1,0l1,0l1,0l1,0l1,0l1,0l1,0l1,0l1,0l1,0l1,0l1,0l1,0l1,0l1,0l1,0l1,0l1,0l1,0l1,0l1,0l1,0l1,0l1,0l1,-0.2l1,-0.9l1,-1.8l1,-2.6l1,-3.4l1,-4l1,-4.5l1,-5l1,-5.3l1,-5.5l1,-5.6l1,-5.5l1,-5.2l1,-4.9l1,-4.5l1,-3.9l1,-3.2l1,-2.4l1,-1.6l1,-0.8l1,0.1l1,0.9l1,1.7l1,2.6l1,3.2l1,3.8l1,4.4l1,4.9l1,5.1l1,5.4l1,5.3l1,4.3l1,3l1,1.8l1,0.5l1,-0.9l1,-2.3l1,-3.5l1,-4.8l1,-6l1,-6.8l1,-6.8l1,-6.8l1,-6.4l1,-6.1l1,-5.5l1,-4.8l1,-4l1,-3.2l1,-2.3l1,-1.2l1,-0.3l1,0.9l1,1.8l1,2.9l1,3.7l1,4.6l1,5.4l1,5.9l1,6.5l1,6.8l1,7l1,7l1,7l1,6.6l1,6.3l1,5.8l1,5.1l1,4.3l1,3.4l1,2.5l1,1.5l1,0.5l1,0l1,0l1,0l1,0l1,0l1,0l1,0l1,0l1,0l1,0l1,0l1,0l1,0l1,0l1,0l1,0l1,0l1,0l1,0l1,0l1,0l1,0l1,0l1,0l1,0l1,0l1,0l1,-0.2l1,-1.4l1,-2.9l1,-4.2l1,-5.5l1,-6.5l1,-7.3l1,-7.9l1,-8.2l1,-8.3l1,-8.1l1,-7.5l1,-6.9l1,-5.8l1,-4.7l1,-3.4l1,-1.9l1,-0.5l1,1.1l1,2.5l1,3.9l1,5.2l1,6.3l1,7.1l1,7.8l1,8.2l1,8.3l1,8.1l1,7.7l1,7l1,6.1l1,5l1,3.8l1,2.3l1,0.8l1,0l1,0l1,0l1,0l1,0l1,0l1,0l1,0l1,0l1,0l1,0l1,0l1,0l1,0l1,0l1,0l1,0l1,0l1,0l1,0l1,0l1,0l1,0l1,0l1,0l1,0l1,0l1,0l1,0l1,0l1,0l1,0l1,0l1,0l1,0l1,0l1,0l1,0l1,0l1,0l1,0l1,0l1,0l1,0l1,0l1,0l1,0l1,0l1,0l1,0l1,0l1,0l1,0l1,0l1,0l1,0l1,0l1,-0.1l1,-0.9l1,-1.6l1,-2.3l1,-2.9l1,-3.4l1,-3.9l1,-4.1l1,-4.3l1,-4.4l1,-4.2l1,-3.9l1,-3.5l1,-3.1l1,-2.4l1,-1.7l1,-1l1,-0.3l1,0.6l1,1.3l1,2l1,2.7l1,3.2l1,3.7l1,4.1l1,4.3l1,4.3l1,4.2l1,4.1l1,3.7l1,3.2l1,2.7l1,2l1,1.3l1,0.6l1,0l1,0l1,0l1,0l1,0l1,0l1,0l1,0l1,0l1,0l1,0l1,0l1,0l1,0l1,0l1,0l1,0l1,0l1,0l1,0l1,0l1,0l1,0l1,0l1,0l1,0l1,0l1,0l1,0l1,0l1,0l1,0l1,0l1,0l1,0l1,0l1,0l1,0l1,0l1,0l1,0l1,0l1,0l1,0l1,0l1,0l1,0l1,0l1,0l1,0l1,0l1,0l1,0l1,0l1,0l1,0l1,0l1,0l1,0l1,0l1,-0.6l1,-1.4l1,-2.3l1,-3l1,-3.6l1,-4.2l1,-4.6l1,-4.9l1,-5l1,-4.9l1,-4.7l1,-4.3l1,-3.8l1,-3.2l1,-2.5l1,-1.6l1,-0.8l1,0.1l1,0.9l1,1.6l1,2.2l1,2.7l1,3.2l1,3.4l1,3.7l1,3.8l1,3.7l1,3.6l1,3.4l1,3l1,2.5l1,2l1,1.4l1,0.7l1,0.1l1,-0.1l1,0.1l1,0.3l1,0.6l1,0.7l1,0.8l1,1.1l1,1.1l1,1.1l1,1.3l1,1.2l1,1.1l1,1.1l1,0.9l1,0.8l1,0.6l1,0.5l1,0.2l1,0l1,0l1,0l1,0l1,0l1,0l1,0l1,0l1,0l1,0l1,0l1,0l1,0l1,0l1,0l1,0l1,0l1,0l1,0l1,0l1,0l1,0l1,0l1,0l1,0l1,0l1,0l1,0l1,0l1,0l1,0l1,0l1,0l1,0l1,0l1,0l1,0l1,0l1,0l1,0l1,0l1,0l1,-0.7l1,-1.7l1,-2.6l1,-3.4l1,-4.2l1,-4.8l1,-5.3l1,-5.5l1,-5.7l1,-5.6l1,-5.4l1,-5l1,-4.4l1,-3.7l1,-2.9l1,-2l1,-1l1,0l1,1l1,2l1,2.9l1,3.7l1,4.4l1,5l1,5.4l1,5.6l1,5.7l1,5.5l1,5.3l1,4.8l1,4.2l1,3.4l1,2.6l1,1.7l1,0.7l1,0l1,0l1,0l1,0l1,0l1,0l1,0l1,0l1,0l1,0l1,0l1,0l1,0l1,0l1,0l1,0l1,0l1,0l1,0l1,0l1,0l1,0l1,0l1,0l1,0l1,0l1,0l1,0l1,0l1,0l1,0l1,0l1,0l1,0l1,0l1,0l1,0l1,0l1,0l1,0l1,0l1,0l1,0l1,0l1,0l1,0l1,0l1,0l1,0l1,0l1,0l1,0l1,0l1,0l1,0l1,0l1,0l1,0l1,0l1,-0.3l1,-1.4l1,-2.3l1,-3.2l1,-4l1,-4.6l1,-5.2l1,-5.6l1,-5.8l1,-5.8l1,-5.6l1,-5.2l1,-4.8l1,-4.2l1,-3.3l1,-2.5l1,-1.5l1,-0.5l1,0.5l1,1.5l1,2.3l1,3.1l1,3.7l1,4.4l1,4.7l1,5l1,5.2l1,5.1l1,4.9l1,4.6l1,4l1,3.5l1,2.7l1,1.9l1,1.1l1,0.2l1,-0.1l1,0.1l1,0.1l1,0.3l1,0.4l1,0.5l1,0.5l1,0.6l1,0.6l1,0.7l1,0.7l1,0.6l1,0.6l1,0.5l1,0.5l1,0.3l1,0.3l1,0.2l1,0l1,0l1,0l1,0l1,0l1,0l1,0l1,0l1,0l1,0l1,0l1,0l1,0l1,0l1,0l1,0l1,0l1,0l1,0l1,0l1,0l1,0l1,0l1,0l1,0l1,0l1,0l1,0l1,0l1,0l1,0l1,0l1,0l1,0l1,0l1,0l1,0l1,0l1,0l1,0l1,0l1,-0.5l1,-1.5l1,-2.4l1,-3.3l1,-4.1l1,-4.8l1,-5.3l1,-5.7l1,-5.8l1,-5.8l1,-5.7l1,-5.3l1,-4.8l1,-4.1l1,-3.4l1,-2.5l1,-1.5l1,-0.5l1,0.5l1,1.5l1,2.5l1,3.2l1,3.9l1,4.3l1,4.6l1,4.9l1,4.9l1,4.8l1,4.6l1,4.2l1,3.7l1,3.1l1,2.3l1,1.6l1,0.8l1,-0.2l1,-0.4l1,-0.2l1,-0.1l1,0.1l1,0.4l1,0.5l1,0.6l1,0.8l1,0.9l1,1l1,1.1l1,1.1l1,1.1l1,1l1,1l1,0.8l1,0.8l1,0.6l1,0.4l1,0.2l1,0.1l1,0l1,0l1,0l1,0l1,0l1,0l1,0l1,0l1,0l1,0l1,0l1,0l1,0l1,0l1,0l1,0l1,0l1,0l1,0l1,0l1,0l1,0l1,0l1,0l1,0l1,0l1,0l1,0l1,0l1,0l1,0l1,0l1,0l1,0l1,0l1,0l1,0l1,0l1,0l1,-0.1l1,-1.1l1,-2.1l1,-3.1l1,-4l1,-4.7l1,-5.4l1,-5.8l1,-6.1l1,-6.2l1,-6.1l1,-5.8l1,-5.4l1,-4.8l1,-4.1l1,-3.1l1,-2.2l1,-1.2l1,-0.1l1,0.9l1,2.1l1,2.9l1,3.9l1,4.7l1,5.3l1,5.7l1,6.1l1,6.2l1,6.1l1,5.9l1,5.4l1,4.9l1,4.1l1,3.3l1,2.3l1,1.3l1,0.3l1,0l1,0l1,0l1,0l1,0l1,0l1,0l1,0l1,0l1,0l1,0l1,0l1,0l1,0l1,0l1,0l1,0l1,0l1,0l1,0l1,0l1,0l1,0l1,0l1,0l1,0l1,0l1,0l1,0l1,0l1,0l1,0l1,0l1,0l1,0l1,0l1,0l1,0l1,0l1,0l1,0l1,0l1,0l1,0l1,0l1,0l1,0l1,0l1,0l1,0l1,0l1,0l1,0l1,0l1,0l1,0l1,-0.4l1,-1.3l1,-2.3l1,-3.1l1,-3.9l1,-4.6l1,-5.1l1,-5.5l1,-5.8l1,-5.7l1,-5.7l1,-5.3l1,-4.9l1,-4.3l1,-3.6l1,-2.8l1,-1.8l1,-0.9l1,0l1,0.7l1,1.5l1,2.1l1,2.7l1,3.3l1,3.7l1,4l1,4.2l1,4.2l1,4.2l1,4l1,3.6l1,3.1l1,2.6l1,2l1,1.3l1,0.6l1,-0.2l1,-0.1l1,0.1l1,0.4l1,0.6l1,0.8l1,1l1,1.1l1,1.3l1,1.4l1,1.5l1,1.6l1,1.5l1,1.5l1,1.4l1,1.3l1,1.1l1,1l1,0.8l1,0.6l1,0.4l1,0.1l1,0l1,0l1,0l1,0l1,0l1,0l1,0l1,0l1,0l1,0l1,0l1,0l1,0l1,0l1,0l1,0l1,0l1,0l1,0l1,0l1,0l1,0l1,0l1,0l1,0l1,0l1,0l1,0l1,0l1,0l1,0l1,0l1,0l1,0l1,0l1,0l1,-0.1l1,-0.9l1,-2.1l1,-3l1,-3.9l1,-4.7l1,-5.3l1,-5.9l1,-6.1l1,-6.3l1,-6.3l1,-6.1l1,-5.7l1,-5.1l1,-4.4l1,-3.5l1,-2.7l1,-1.6l1,-0.5l1,0.5l1,1.6l1,2.7l1,3.5l1,4.4l1,5.1l1,5.2l1,5.4l1,5.4l1,5.1l1,4.7l1,4.3l1,3.6l1,2.9l1,2l1,1.2l1,0.3l1,-0.6l1,-1.3l1,-1.2l1,-1l1,-0.7l1,-0.3l1,-0.1l1,0.3l1,0.5l1,0.9l1,1.1l1,1.3l1,1.5l1,1.5l1,1.3l1,1.3l1,1.2l1,0.9l1,0.7l1,0.5l1,0.3l1,0l1,-0.3l1,-0.5l1,-0.7l1,-0.8l1,-0.7l1,-0.6l1,-0.4l1,-0.2l1,-0.1l1,0.1l1,0.3l1,0.5l1,0.6l1,0.8l1,0.9l1,0.9l1,1.1l1,1l1,1.1l1,1l1,1l1,0.9l1,0.7l1,0.7l1,0.4l1,0.4l1,0.1l1,0l1,0l1,0l1,0l1,0l1,0l1,0l1,0l1,0l1,-0.1l1,-0.5l1,-1l1,-1.5l1,-1.9l1,-2.3l1,-2.6l1,-2.8l1,-3l1,-3l1,-3l1,-2.9l1,-2.7l1,-2.4l1,-2.1l1,-1.7l1,-1.3l1,-1l1,-0.7l1,-0.4l1,-0.1l1,0.2l1,0.6l1,0.8l1,1.1l1,1.4l1,1.6l1,1.7l1,1.8l1,1.9l1,1.9l1,1.8l1,1.7l1,1.6l1,1.4l1,1.1l1,0.9l1,0.6l1,0.8l1,0.9l1,1.1l1,1.2l1,1.3l1,1.3l1,1.3l1,1.3l1,1.3l1,1.1l1,1.1l1,0.8l1,0.7l1,0.4l1,0.3l1,0l1,0l1,0l1,0l1,0l1,0l1,0l1,0l1,0l1,0l1,0l1,0l1,0l1,0l1,0l1,0l1,0l1,0l1,0l1,0l1,0l1,0l1,0l1,0l1,0l1,0l1,0l1,0l1,0l1,0l1,0l1,0l1,0l1,0l1,0l1,0l1,0l1,0l1,-0.1l1,-0.6l1,-1.2l1,-1.8l1,-2.4l1,-2.9l1,-3.3l1,-3.7l1,-4l1,-4.3l1,-4.4l1,-4.4l1,-4.5l1,-4.3l1,-4.1l1,-3.9l1,-3.5l1,-3.1l1,-2.6l1,-2.1l1,-1.6l1,-0.9l1,-0.3l1,0.3l1,0.9l1,1.4l1,1.3l1,1.4l1,1.3l1,1.4l1,1.2l1,1.2l1,1.1l1,0.9l1,0.8l1,0.6l1,0.5l1,0.2l1,0.1l1,-0.1l1,-0.3l1,-0.5l1,-0.7l1,-0.8l1,-1l1,-1l1,-0.6l1,-0.1l1,0.5l1,1l1,1.5l1,2l1,2.4l1,2.8l1,3.1l1,3.3l1,3.2l1,3l1,2.8l1,2.5l1,2.2l1,1.8l1,1.5l1,1.1l1,0.7l1,0.3l1,0l1,-0.4l1,-0.7l1,-1.1l1,-1l1,-0.8l1,-0.5l1,-0.2l1,0.2l1,0.5l1,0.8l1,1l1,1.4l1,1.6l1,1.7l1,1.9l1,1.9l1,2l1,1.9l1,1.8l1,1.7l1,1.6l1,1.2l1,1.1l1,0.7l1,0.4l1,0.1l1,0l1,0l1,0l1,0l1,0l1,0l1,0l1,0l1,0l1,0l1,0l1,0l1,0l1,-0.1l1,-0.2l1,-0.5l1,-0.7l1,-0.8l1,-0.9l1,-1.1l1,-1.1l1,-1.2l1,-1.3l1,-1.2l1,-1.1l1,-1.1l1,-1l1,-0.8l1,-0.7l1,-0.5l1,-0.3l1,-0.1l1,0.1l1,0.3l1,0.5l1,0.6l1,0.5l1,0.3l1,0.3l1,0.1l1,0l1,-0.2l1,-0.2l1,-0.4l1,-0.5l1,-0.6l1,-0.7l1,-0.8l1,-0.8l1,-0.8l1,-0.7l1,-0.7l1,-0.4l1,-0.1l1,0.1l1,0.4l1,0.7l1,0.8l1,1.1l1,1.2l1,1.4l1,1.5l1,1.6l1,1.5l1,1.6l1,1.5l1,1.3l1,1.3l1,1l1,0.8l1,0.6l1,0.4l1,0.1l1,0l1,0l1,0l1,0l1,0l1,0l1,0l1,0l1,0l1,0l1,0l1,0l1,0l1,0l1,0l1,0l1,0l1,0l1,0l1,0l1,0l1,0l1,0l1,-0.2l1,-0.7l1,-1.2l1,-1.5l1,-2l1,-2.2l1,-2.5l1,-2.8l1,-2.8l1,-2.9l1,-2.8l1,-2.8l1,-2.5l1,-2.3l1,-1.9l1,-1.6l1,-1.2l1,-0.7l1,-0.2l1,0.2l1,0.7l1,1.2l1,1.6l1,1.9l1,2.3l1,2.5l1,2.8l1,2.5l1,1.8l1,1l1,0.3l1,-0.5l1,-1.3l1,-2.1l1,-2.9l1,-3.6l1,-4.3l1,-4.9l1,-5.2l1,-5l1,-4.9l1,-4.6l1,-4.3l1,-3.8l1,-3.4l1,-2.7l1,-2.1l1,-1.4l1,-0.7l1,0l1,0.7l1,1.4l1,2.1l1,2.7l1,3.4l1,3.8l1,4.3l1,4.5l1,4.2l1,3.7l1,3.1l1,2.5l1,1.8l1,1l1,0.4l1,-0.5l1,-1.1l1,-1.9l1,-2.6l1,-3.2l1,-3.8l1,-4.2l1,-4.3l1,-4l1,-3.4l1,-3l1,-2.3l1,-1.7l1,-1.1l1,-0.3l1,0.3l1,1.1l1,1.7l1,2.3l1,3l1,3.4l1,4l1,4.3l1,4.6l1,4.8l1,5l1,4.9l1,4.3l1,3.5l1,2.8l1,1.9l1,1l1,0.3l1,-0.7l1,-1.4l1,-2.1l1,-2.9l1,-3.3l1,-3.3l1,-2.9l1,-2.6l1,-2.2l1,-1.7l1,-1.1l1,-0.8l1,-0.4l1,0l1,0.3l1,0.7l1,1l1,1.5l1,1.8l1,2.1l1,2.5l1,2.7l1,2.9l1,3l1,2.4l1,1.5l1,0.7l1,-0.3l1,-1.1l1,-2.1l1,-2.9l1,-3.7l1,-4l1,-4l1,-4.1l1,-3.9l1,-3.8l1,-3.5l1,-3.2l1,-2.6l1,-1.8l1,-1l1,-0.2l1,0.7l1,1.5l1,2.3l1,3l1,3.6l1,4.2l1,4.7l1,4.9l1,5.1l1,5.1l1,5.1l1,4.8l1,4.4l1,3.9l1,2.6l1,1.2l1,-0.3l1,-1.7l1,-3.2l1,-3.9l1,-4.3l1,-4.5l1,-4.7l1,-4.7l1,-4.5l1,-4.4l1,-4l1,-3.5l1,-3l1,-2.3l1,-1.7l1,-0.9l1,-0.2l1,0.6l1,1.4l1,2.1l1,2.7l1,3.4l1,3.8l1,4.2l1,4.5l1,4.7l1,4.6l1,4.7l1,4.4l1,4l1,3.7l1,3.1l1,2.4l1,1.8l1,1.1l1,0.3l1,0l1,0l1,0l1,0l1,0l1,0l1,0l1,0l1,0l1,0l1,0l1,0l1,0l1,0l1,0l1,0l1,0l1,0l1,0l1,0l1,0l1,0l1,-0.1l1,-0.8l1,-1.5l1,-2.3l1,-3l1,-3.6l1,-4.2l1,-4.7l1,-5l1,-5.4l1,-5.5l1,-5.7l1,-5.6l1,-5.4l1,-5.2l1,-4.9l1,-4.4l1,-4l1,-3.3l1,-2.6l1,-1.9l1,-1.2l1,-0.4l1,0.4l1,1.2l1,1.9l1,2.6l1,3.3l1,4l1,4.4l1,4.9l1,4.7l1,3.9l1,3l1,2.1l1,1.1l1,0.2l1,-0.9l1,-1.8l1,-2.8l1,-3.6l1,-4.5l1,-5.2l1,-5.8l1,-6.4l1,-6.6l1,-6.2l1,-5.6l1,-4.8l1,-4l1,-3.1l1,-2l1,-1.1l1,0l1,1.1l1,2l1,3.1l1,4l1,4.8l1,5.6l1,6.2l1,6.4l1,6.1l1,5.5l1,4.8l1,4.1l1,3.2l1,2.3l1,1.4l1,0.4l1,-0.6l1,-1.6l1,-2.5l1,-3.3l1,-4.2l1,-5l1,-5.1l1,-4.6l1,-3.9l1,-3.4l1,-2.6l1,-1.8l1,-1l1,-0.2l1,0.7l1,1.5l1,2.3l1,3l1,3.8l1,4.3l1,4.9l1,5.3l1,5.7l1,5.9l1,6l1,6l1,5.9l1,5.5l1,4.7l1,3.8l1,2.8l1,1.8l1,0.7l1,-0.3l1,-1.3l1,-2.3l1,-2.9l1,-3l1,-2.8l1,-2.7l1,-2.5l1,-2.3l1,-1.8l1,-1.5l1,-1l1,-0.6l1,-0.1l1,0.4l1,0.9l1,1.2l1,1.8l1,2l1,2.4l1,2.7l1,2.7l1,2.1l1,1.4l1,0.6l1,-0.2l1,-1l1,-1.9l1,-2.7l1,-3.5l1,-4.2l1,-4.8l1,-5.4l1,-5.6l1,-5.5l1,-5.3l1,-4.9l1,-4.5l1,-4l1,-3.3l1,-2.7l1,-1.9l1,-1.2l1,-0.4l1,0.4l1,1.2l1,1.9l1,2.7l1,3.3l1,4l1,4.5l1,4.9l1,5.3l1,5.5l1,5.6l1,5.7l1,5.6l1,5.4l1,5.1l1,4.7l1,4.3" fill="none" stroke="#4274ff" stroke-width="2.3" stroke-linejoin="round"/>
<path d="M19,1226.6v0l1,-3.8l1,-4.3l1,-4.7l1,-5.1l1,-5.4l1,-5.4l1,-5.5l1,-5.3l1,-5.1l1,-4.7l1,-4.3l1,-3.8l1,-3.1l1,-2.4l1,-1.7l1,-0.9l1,0l1,0.7l1,1.5l1,2.3l1,3l1,3.6l1,4.2l1,4.6l1,5l1,5.3l1,5.5l1,5.4l1,5.4l1,5.2l1,4.8l1,4.4l1,3.9l1,3.3l1,2.6l1,1.8l1,1.1l1,0.3l1,0l1,0l1,0l1,0l1,0l1,0l1,0l1,0l1,0l1,0l1,0l1,0l1,0l1,0l1,0l1,0l1,0l1,0l1,0l1,0l1,0l1,0l1,0l1,0l1,0l1,0l1,0l1,0l1,0l1,0l1,0l1,0l1,0l1,0l1,0l1,0l1,0l1,0l1,0l1,0l1,0l1,0l1,0l1,0l1,0l1,0l1,0l1,0l1,0l1,0l1,0l1,0l1,0l1,0l1,0l1,0l1,0l1,0l1,0l1,0l1,0l1,0l1,0l1,0l1,0l1,0l1,0l1,0l1,0l1,0l1,0l1,0l1,0l1,0l1,0l1,0l1,0l1,0l1,0l1,0l1,0l1,0l1,0l1,0l1,0l1,0l1,0l1,0l1,0l1,0l1,0l1,0l1,0l1,0l1,0l1,0l1,0l1,0l1,0l1,0l1,0l1,0l1,0l1,0l1,0l1,0l1,0l1,0l1,0l1,0l1,0l1,0l1,0l1,0l1,0l1,0l1,0l1,0l1,-0.1l1,-0.9l1,-1.5l1,-2.2l1,-2.9l1,-3.3l1,-3.7l1,-4l1,-4.2l1,-4.1l1,-4.1l1,-3.7l1,-3.4l1,-2.9l1,-2.3l1,-1.6l1,-0.9l1,-0.2l1,0.6l1,1.4l1,2l1,2.7l1,3.2l1,3.6l1,3.9l1,4.2l1,4.1l1,4.1l1,3.9l1,3.5l1,3l1,2.5l1,1.8l1,1.1l1,0.3l1,-0.8l1,-1.8l1,-2.7l1,-3.6l1,-4.2l1,-4.8l1,-5.2l1,-5.5l1,-5.5l1,-5.4l1,-5.1l1,-4.6l1,-4l1,-3.3l1,-2.4l1,-1.5l1,-0.5l1,0.5l1,1.5l1,2.4l1,3.3l1,4l1,4.6l1,5.1l1,5.4l1,5.5l1,5.5l1,5.2l1,4.8l1,4.2l1,3.6l1,2.7l1,1.8l1,0.8l1,0.1l1,0l1,0l1,0l1,0l1,0l1,0l1,0l1,0l1,0l1,0l1,0l1,0l1,0l1,0l1,0l1,0l1,0l1,0l1,0l1,0l1,0l1,0l1,0l1,0l1,0l1,-0.6l1,-1.6l1,-2.5l1,-3.4l1,-4.1l1,-4.6l1,-5.1l1,-5.4l1,-5.5l1,-5.4l1,-5.2l1,-4.7l1,-4.2l1,-3.5l1,-2.6l1,-1.8l1,-0.8l1,0.2l1,1.2l1,2.1l1,3l1,3.8l1,4.4l1,5l1,5.2l1,5.5l1,5.5l1,5.3l1,4.9l1,4.5l1,3.7l1,3.1l1,2.1l1,1.2l1,0.1l1,-1.6l1,-3.3l1,-4.7l1,-6.1l1,-7.2l1,-8.1l1,-8.8l1,-9.1l1,-9.3l1,-9l1,-8.5l1,-7.7l1,-6.7l1,-5.4l1,-4l1,-2.5l1,-0.8l1,0.8l1,2.5l1,4l1,5.4l1,6.7l1,7.7l1,8.5l1,9l1,9.3l1,9.1l1,8.8l1,8.1l1,7.2l1,6.1l1,4.7l1,3.3l1,1.6l1,0.2l1,0l1,0l1,0l1,0l1,0l1,0l1,0l1,0l1,0l1,0l1,0l1,0l1,0l1,0l1,0l1,0l1,0l1,0l1,0l1,0l1,0l1,0l1,0l1,0l1,-0.6l1,-1.4l1,-2.3l1,-3l1,-3.6l1,-4.1l1,-4.5l1,-4.8l1,-4.9l1,-4.8l1,-4.6l1,-4.2l1,-3.8l1,-3.1l1,-2.4l1,-1.6l1,-0.8l1,0.1l1,0.9l1,1.8l1,2.6l1,3.2l1,3.9l1,4.3l1,4.6l1,4.9l1,4.8l1,4.8l1,4.4l1,4.1l1,3.5l1,2.8l1,2.1l1,1.3l1,0.4l1,-0.9l1,-2.4l1,-3.7l1,-4.9l1,-6l1,-6.9l1,-7.6l1,-8l1,-8.2l1,-8.1l1,-7.7l1,-7.2l1,-6.4l1,-5.3l1,-4.2l1,-2.9l1,-1.4l1,0l1,1.4l1,2.9l1,4.2l1,5.3l1,6.4l1,7.2l1,7.7l1,8.1l1,8.2l1,8l1,7.6l1,6.9l1,6l1,4.9l1,3.7l1,2.4l1,0.9l1,0l1,0l1,0l1,0l1,0l1,0l1,0l1,0l1,0l1,0l1,0l1,0l1,0l1,0l1,0l1,0l1,0l1,0l1,0l1,0l1,0l1,0l1,0l1,0l1,-0.3l1,-1.2l1,-2.1l1,-3.1l1,-3.8l1,-4.5l1,-5l1,-5.4l1,-5.6l1,-5.6l1,-5.4l1,-5.2l1,-4.6l1,-4l1,-3.3l1,-2.4l1,-1.5l1,-0.5l1,0.5l1,1.5l1,2.4l1,3.3l1,4l1,4.6l1,5.2l1,5.4l1,5.6l1,5.6l1,5.4l1,5l1,4.5l1,3.8l1,3.1l1,2.1l1,0.5l1,-2.1l1,-3.8l1,-5.1l1,-6.4l1,-7.4l1,-8.1l1,-8.7l1,-9l1,-8.9l1,-8.6l1,-8.1l1,-7.2l1,-6.2l1,-4.9l1,-3.6l1,-2l1,-0.5l1,1.1l1,2.7l1,4.1l1,5.5l1,6.6l1,7.6l1,8.3l1,8.8l1,8.9l1,8.9l1,8.5l1,7.9l1,7l1,5.9l1,4.6l1,3.3l1,1.6l1,0.3l1,0l1,0l1,0l1,0l1,0l1,0l1,0l1,0l1,0l1,0l1,0l1,0l1,0l1,0l1,0l1,0l1,0l1,0l1,0l1,0l1,0l1,0l1,0l1,0l1,0l1,0l1,-0.8l1,-1.6l1,-2.5l1,-3.3l1,-4l1,-4.6l1,-5l1,-5.3l1,-5.4l1,-5.3l1,-5.1l1,-4.8l1,-4.2l1,-3.6l1,-2.7l1,-2l1,-1l1,-0.1l1,0.8l1,1.8l1,2.6l1,3.4l1,4.1l1,4.7l1,5l1,5.3l1,5.4l1,5.3l1,5.1l1,4.7l1,4.1l1,3.5l1,2.7l1,1.8l1,0.3l1,-1.9l1,-3.3l1,-4.6l1,-5.7l1,-6.6l1,-7.3l1,-7.8l1,-8.1l1,-8.1l1,-7.9l1,-7.3l1,-6.7l1,-5.8l1,-4.6l1,-3.5l1,-2.1l1,-0.7l1,0.7l1,2.1l1,3.5l1,4.6l1,5.8l1,6.7l1,7.3l1,7.9l1,8.1l1,8.1l1,7.8l1,7.3l1,6.6l1,5.7l1,4.6l1,3.3l1,2l1,0.6l1,0l1,0l1,0l1,0l1,0l1,0l1,0l1,0l1,0l1,0l1,0l1,0l1,0l1,0l1,0l1,0l1,0l1,0l1,0l1,0l1,0l1,0l1,0l1,0l1,-0.1l1,-0.8l1,-1.6l1,-2.2l1,-2.9l1,-3.5l1,-3.9l1,-4.3l1,-4.5l1,-4.5l1,-4.4l1,-4.3l1,-3.9l1,-3.5l1,-2.9l1,-2.3l1,-1.5l1,-0.8l1,0l1,0.8l1,1.5l1,2.3l1,2.9l1,3.5l1,3.9l1,4.3l1,4.4l1,4.5l1,4.5l1,4.3l1,3.9l1,3.5l1,2.9l1,2l1,-0.1l1,-2.5l1,-4.6l1,-5.9l1,-7.2l1,-8l1,-8.7l1,-9.1l1,-9.2l1,-9.1l1,-8.6l1,-8l1,-7l1,-6l1,-4.6l1,-3.1l1,-1.6l1,0l1,1.6l1,3.1l1,4.6l1,6l1,7l1,8l1,8.6l1,9.1l1,9.2l1,9.1l1,8.7l1,8l1,7.2l1,5.9l1,4.7l1,3.3l1,1.6l1,0.3l1,0l1,0l1,0l1,0l1,0l1,0l1,0l1,0l1,0l1,0l1,0l1,0l1,0l1,0l1,0l1,0l1,0l1,0l1,0l1,0l1,0l1,0l1,0l1,0l1,0l1,-0.6l1,-1.4l1,-2.1l1,-2.9l1,-3.6l1,-4.1l1,-4.5l1,-4.8l1,-4.9l1,-4.9l1,-4.7l1,-4.5l1,-4l1,-3.4l1,-2.8l1,-2.1l1,-1.3l1,-0.4l1,0.4l1,1.3l1,2.1l1,2.8l1,3.4l1,4l1,4.5l1,4.7l1,4.9l1,4.9l1,4.8l1,4.5l1,4.1l1,3.6l1,2.9l1,2.1l1,0.3l1,-1.8l1,-3.6l1,-4.8l1,-5.7l1,-6.6l1,-7.1l1,-7.6l1,-7.8l1,-7.7l1,-7.4l1,-7l1,-6.2l1,-5.4l1,-4.3l1,-3.1l1,-1.9l1,-0.5l1,0.8l1,2.1l1,3.4l1,4.5l1,5.6l1,6.4l1,7l1,7.5l1,7.8l1,7.7l1,7.5l1,7.1l1,6.4l1,5.6l1,4.5l1,3.4l1,2.1l1,0.8l1,0l1,0l1,0l1,0l1,0l1,0l1,0l1,0l1,0l1,0l1,0l1,0l1,0l1,0l1,0l1,0l1,0l1,0l1,0l1,0l1,0l1,0l1,0l1,0l1,0l1,0l1,-0.6l1,-1.3l1,-1.9l1,-2.5l1,-3l1,-3.5l1,-3.8l1,-4l1,-4.1l1,-4.1l1,-4l1,-3.7l1,-3.4l1,-2.8l1,-2.4l1,-1.7l1,-1l1,-0.4l1,0.4l1,1l1,1.7l1,2.4l1,2.8l1,3.4l1,3.7l1,4l1,4.1l1,4.1l1,4l1,3.8l1,3.5l1,3l1,2.5l1,0.8l1,-0.9l1,-2.8l1,-4.3l1,-5.2l1,-6l1,-6.5l1,-7l1,-7l1,-7.1l1,-6.8l1,-6.4l1,-5.7l1,-4.9l1,-4l1,-3l1,-1.8l1,-0.6l1,0.6l1,1.8l1,3l1,4l1,4.9l1,5.7l1,6.4l1,6.8l1,7.1l1,7l1,7l1,6.5l1,6l1,5.2l1,4.4l1,3.3l1,2.2l1,1l1,0.1l1,0l1,0l1,0l1,0l1,0l1,0l1,0l1,0l1,0l1,0l1,0l1,0l1,0l1,0l1,0l1,0l1,0l1,0l1,0l1,0l1,0l1,0l1,-0.1l1,-0.6l1,-1.3l1,-1.9l1,-2.4l1,-2.9l1,-3.4l1,-3.6l1,-3.8l1,-4l1,-3.9l1,-3.7l1,-3.5l1,-3.2l1,-2.7l1,-2.2l1,-1.7l1,-1l1,-0.3l1,0.3l1,1l1,1.7l1,2.2l1,2.7l1,3.2l1,3.5l1,3.7l1,3.9l1,4l1,3.8l1,3.6l1,3.4l1,2.9l1,2.4l1,1.9l1,0.6l1,-1.1l1,-2.5l1,-3.5l1,-4.3l1,-4.8l1,-5.4l1,-5.8l1,-5.9l1,-5.9l1,-5.8l1,-5.4l1,-4.9l1,-4.4l1,-3.5l1,-2.8l1,-1.7l1,-0.9l1,0.2l1,1.2l1,2.2l1,3.1l1,3.9l1,4.6l1,5.1l1,5.6l1,5.9l1,5.9l1,5.9l1,5.6l1,5.2l1,4.6l1,4l1,3.1l1,2.3l1,1.3l1,0.3l1,0l1,0l1,0l1,0l1,0l1,0l1,0l1,0l1,0l1,0l1,0l1,0l1,0l1,0l1,0l1,0l1,0l1,0l1,0l1,0l1,0l1,0l1,-0.1l1,-0.4l1,-0.7l1,-0.9l1,-1.1l1,-1.3l1,-1.4l1,-1.5l1,-1.6l1,-1.6l1,-1.6l1,-1.5l1,-1.4l1,-1.2l1,-1l1,-0.8l1,-0.6l1,-0.3l1,0l1,0.3l1,0.5l1,0.7l1,1l1,1.2l1,1.3l1,1.5l1,1.6l1,1.6l1,1.6l1,1.5l1,1.5l1,1.3l1,1.1l1,1l1,0.5l1,-0.5l1,-1.5l1,-2.4l1,-3.1l1,-3.6l1,-4.1l1,-4.5l1,-4.7l1,-4.8l1,-4.8l1,-4.6l1,-4.2l1,-3.9l1,-3.3l1,-2.6l1,-2l1,-1.2l1,-0.4l1,0.4l1,1.2l1,2l1,2.6l1,3.3l1,3.9l1,4.2l1,4.6l1,4.8l1,4.8l1,4.7l1,4.5l1,4.1l1,3.6l1,3.1l1,2.4l1,1.7l1,0.9l1,0.2l1,0l1,0l1,0l1,0l1,0l1,0l1,0l1,0l1,0l1,0l1,0l1,0l1,0l1,0l1,0l1,0l1,0l1,0l1,0l1,0l1,0l1,0l1,-0.1l1,-0.4l1,-0.7l1,-1l1,-1.3l1,-1.5l1,-1.7l1,-1.8l1,-1.9l1,-2l1,-1.9l1,-1.8l1,-1.8l1,-1.5l1,-1.4l1,-1.1l1,-0.8l1,-0.4l1,-0.2l1,0.2l1,0.4l1,0.8l1,1.1l1,1.4l1,1.5l1,1.8l1,1.8l1,1.9l1,2l1,1.9l1,1.8l1,1.7l1,1.5l1,1.3l1,1l1,0.7l1,0.2l1,-0.7l1,-1.2l1,-1.6l1,-2.1l1,-2.4l1,-2.6l1,-2.9l1,-3l1,-3l1,-2.9l1,-2.9l1,-2.6l1,-2.3l1,-2l1,-1.6l1,-1.1l1,-0.6l1,-0.2l1,0.4l1,0.8l1,1.3l1,1.8l1,2.1l1,2.3l1,2.3l1,2.1l1,2l1,1.7l1,1.4l1,1l1,0.7l1,0.3l1,-0.1l1,-0.5l1,-0.9l1,-1.2l1,-1.5l1,-1.4l1,-1.1l1,-0.8l1,-0.5l1,-0.2l1,0l1,0.3l1,0.4l1,0.7l1,1l1,1.1l1,1.3l1,1.4l1,1.6l1,1.7l1,1.7l1,1.7l1,1.7l1,1.2l1,0.2l1,-0.8l1,-2l1,-2.9l1,-3.9l1,-4.5l1,-4.9l1,-5.2l1,-5.2l1,-5.3l1,-5.2l1,-4.9l1,-4.4l1,-3.9l1,-3.1l1,-2.3l1,-1.4l1,-0.5l1,0.5l1,1.4l1,2.3l1,3.1l1,3.9l1,4.5l1,5l1,5.4l1,5.6l1,5.7l1,5.6l1,5.4l1,4.9l1,4.5l1,3.8l1,3l1,1.9l1,0.7l1,-0.5l1,-1.2l1,-1.3l1,-1.6l1,-1.8l1,-1.8l1,-1.9l1,-1.9l1,-1.9l1,-1.8l1,-1.6l1,-1.5l1,-1.2l1,-0.9l1,-0.8l1,-0.5l1,-0.3l1,0l1,0.2l1,0.5l1,0.7l1,1l1,1.2l1,1.4l1,1.6l1,1.7l1,1.4l1,0.6l1,-0.2l1,-1l1,-1.8l1,-2.6l1,-3.3l1,-3.9l1,-4.4l1,-4.7l1,-4.8l1,-4.6l1,-4.3l1,-3.9l1,-3.4l1,-2.9l1,-2.1l1,-1.3l1,-0.4l1,0.4l1,1.3l1,2.1l1,2.9l1,3.5l1,4.1l1,4.6l1,5l1,5.1l1,5.2l1,5.2l1,4.9l1,4.6l1,4l1,3.6l1,2.8l1,2.1l1,1.2l1,0.4l1,0l1,0l1,0l1,0l1,0l1,0l1,0l1,0l1,0l1,0l1,0l1,0l1,0l1,0l1,0l1,0l1,0l1,0l1,0l1,0l1,0l1,0l1,0l1,0l1,0l1,0l1,0l1,0l1,0l1,0l1,0l1,0l1,0l1,0l1,0l1,0l1,0l1,0l1,0l1,0l1,0l1,0l1,0l1,0l1,0l1,0l1,0l1,0l1,0l1,0l1,0l1,0l1,0l1,0l1,0l1,0l1,0l1,-0.3l1,-0.7l1,-1.2l1,-1.5l1,-1.9l1,-2.3l1,-2.4l1,-2.7l1,-2.7l1,-2.8l1,-2.8l1,-2.6l1,-2.5l1,-2.2l1,-1.9l1,-1.5l1,-1.1l1,-0.7l1,-0.2l1,0.2l1,0.7l1,1.1l1,1.5l1,1.9l1,2.2l1,2.5l1,2.6l1,2.8l1,2.8l1,2.7l1,2.7l1,2.4l1,1.4l1,0.3l1,-0.9l1,-2.2l1,-3.2l1,-4.2l1,-5l1,-5.4l1,-5.5l1,-5.5l1,-5.4l1,-5.2l1,-4.7l1,-4.3l1,-3.5l1,-2.9l1,-2l1,-1.2l1,-0.3l1,0.7l1,1.5l1,2.4l1,3.1l1,3.9l1,4.4l1,5l1,5.2l1,5.5l1,5.6l1,5.4l1,5.2l1,4.8l1,4.4l1,3.6l1,3l1,2.2l1,1.3l1,0.4l1,0l1,0l1,0l1,0l1,0l1,0l1,0l1,0l1,0l1,0l1,0l1,0l1,0l1,0l1,0l1,0l1,0l1,0l1,0l1,0l1,0l1,0l1,0l1,0l1,-0.4l1,-2l1,-3.5l1,-4.9l1,-6.1l1,-7.3l1,-8.3l1,-9l1,-9.4l1,-9.6l1,-9.7l1,-9.3l1,-8.8l1,-8l1,-7.1l1,-5.9l1,-4.5l1,-3.1l1,-1.6l1,0l1,1.6l1,3.1l1,4.5l1,5.9l1,7.1l1,8l1,8.8l1,9.3l1,9.7l1,9.6l1,9.4l1,9l1,8.3l1,7.3l1,6.1l1,4.9l1,3.5l1,2l1,0.4l1,0l1,0l1,0l1,0l1,0l1,0l1,0l1,0l1,0l1,0l1,0l1,0l1,0l1,0l1,0l1,0l1,0l1,0l1,0l1,0l1,0l1,0l1,0l1,0l1,0l1,0l1,0l1,0l1,0l1,0l1,0l1,0l1,0l1,0l1,0l1,0l1,0l1,0l1,0l1,0l1,0l1,0l1,0l1,0l1,0l1,0l1,0l1,0l1,0l1,0l1,0l1,0l1,0l1,0l1,0l1,0l1,0l1,0l1,0l1,0l1,0l1,0l1,0l1,0l1,0l1,0l1,0l1,0l1,0l1,0l1,0l1,0l1,0l1,0l1,0l1,0l1,0l1,0l1,0l1,0l1,0l1,0l1,0l1,-0.1l1,-0.5l1,-1.1l1,-1.7l1,-2.2l1,-2.6l1,-3.1l1,-3.3l1,-3.5l1,-3.7l1,-3.6l1,-3.6l1,-3.5l1,-3.2l1,-2.8l1,-2.5l1,-2l1,-1.4l1,-0.9l1,-0.3l1,0.3l1,0.9l1,1.4l1,2l1,2.5l1,2.8l1,3.2l1,3.5l1,3.6l1,3.6l1,3.7l1,3.5l1,3.3l1,3.1l1,2.6l1,2.2l1,1.7l1,1.1l1,0.5l1,0.1l1,0l1,0l1,0l1,0l1,0l1,0l1,0l1,0l1,0l1,0l1,0l1,0l1,0l1,0l1,0l1,0l1,0l1,0l1,0l1,0l1,0l1,0l1,0l1,0l1,0l1,0l1,0l1,0l1,0" fill="none" stroke="#2a2a2a" stroke-width="2.3" stroke-linejoin="round"/>
<line x1="132.7" y1="1729.2" x2="132.7" y2="1874.5" stroke="#000" stroke-width="2.5"/>
<line x1="132.7" y1="1898.6" x2="132.7" y2="2041" stroke="#000" stroke-width="2.5"/>
<line x1="132.7" y1="2063.8" x2="132.7" y2="2207.5" stroke="#000" stroke-width="2.5"/>
<line x1="125.9" y1="1881.8" x2="143.7" y2="1864" stroke="#000" stroke-width="1.8"/>
<line x1="125.9" y1="1905.4" x2="143.7" y2="1887.6" stroke="#000" stroke-width="1.8"/>
<line x1="125.9" y1="2047.7" x2="141" y2="2032.5" stroke="#000" stroke-width="1.8"/>
<line x1="125.9" y1="2070.6" x2="141" y2="2055.3" stroke="#000" stroke-width="1.8"/>
<line x1="120.8" y1="1729.7" x2="132.7" y2="1729.7" stroke="#000" stroke-width="2.2"/>
<line x1="120.8" y1="1765.2" x2="132.7" y2="1765.2" stroke="#000" stroke-width="2.2"/>
<line x1="120.8" y1="1800.7" x2="132.7" y2="1800.7" stroke="#000" stroke-width="2.2"/>
<line x1="120.8" y1="1836.2" x2="132.7" y2="1836.2" stroke="#000" stroke-width="2.2"/>
<line x1="120.8" y1="1932.6" x2="132.7" y2="1932.6" stroke="#000" stroke-width="2.2"/>
<line x1="120.8" y1="1968.1" x2="132.7" y2="1968.1" stroke="#000" stroke-width="2.2"/>
<line x1="120.8" y1="2003.6" x2="132.7" y2="2003.6" stroke="#000" stroke-width="2.2"/>
<line x1="120.8" y1="2094.0" x2="132.7" y2="2094.0" stroke="#000" stroke-width="2.2"/>
<line x1="120.8" y1="2121.65" x2="132.7" y2="2121.65" stroke="#000" stroke-width="2.2"/>
<line x1="120.8" y1="2149.2999999999997" x2="132.7" y2="2149.2999999999997" stroke="#000" stroke-width="2.2"/>
<line x1="120.8" y1="2176.95" x2="132.7" y2="2176.95" stroke="#000" stroke-width="2.2"/>
<line x1="120.8" y1="2204.6" x2="132.7" y2="2204.6" stroke="#000" stroke-width="2.2"/>
<text transform="translate(75.79,1737.01) scale(0.9700,1)" font-family='"Liberation Sans", Arial, sans-serif' font-weight="normal" font-size="25.00" fill="#000">100</text>
<text transform="translate(89.27,1772.51) scale(0.9700,1)" font-family='"Liberation Sans", Arial, sans-serif' font-weight="normal" font-size="25.00" fill="#000">90</text>
<text transform="translate(89.27,1808.01) scale(0.9700,1)" font-family='"Liberation Sans", Arial, sans-serif' font-weight="normal" font-size="25.00" fill="#000">80</text>
<text transform="translate(89.27,1843.51) scale(0.9700,1)" font-family='"Liberation Sans", Arial, sans-serif' font-weight="normal" font-size="25.00" fill="#000">70</text>
<text transform="translate(89.55,1940.03) scale(0.9700,1)" font-family='"Liberation Sans", Arial, sans-serif' font-weight="normal" font-size="25.00" fill="#000">22</text>
<text transform="translate(89.27,1975.41) scale(0.9700,1)" font-family='"Liberation Sans", Arial, sans-serif' font-weight="normal" font-size="25.00" fill="#000">20</text>
<text transform="translate(89.38,2010.91) scale(0.9700,1)" font-family='"Liberation Sans", Arial, sans-serif' font-weight="normal" font-size="25.00" fill="#000">18</text>
<text transform="translate(102.52,2101.30) scale(0.9700,1)" font-family='"Liberation Sans", Arial, sans-serif' font-weight="normal" font-size="25.00" fill="#000">4</text>
<text transform="translate(102.88,2128.96) scale(0.9700,1)" font-family='"Liberation Sans", Arial, sans-serif' font-weight="normal" font-size="25.00" fill="#000">3</text>
<text transform="translate(103.03,2156.73) scale(0.9700,1)" font-family='"Liberation Sans", Arial, sans-serif' font-weight="normal" font-size="25.00" fill="#000">2</text>
<text transform="translate(103.00,2184.25) scale(0.9700,1)" font-family='"Liberation Sans", Arial, sans-serif' font-weight="normal" font-size="25.00" fill="#000">1</text>
<text transform="translate(102.76,2211.91) scale(0.9700,1)" font-family='"Liberation Sans", Arial, sans-serif' font-weight="normal" font-size="25.00" fill="#000">0</text>
<text transform="translate(89.27,1879.01) scale(0.9700,1)" font-family='"Liberation Sans", Arial, sans-serif' font-weight="normal" font-size="25.00" fill="#000">60</text>
<text transform="translate(89.04,1903.93) scale(0.9700,1)" font-family='"Liberation Sans", Arial, sans-serif' font-weight="normal" font-size="25.00" fill="#000">24</text>
<text transform="translate(89.39,2045.31) scale(0.9700,1)" font-family='"Liberation Sans", Arial, sans-serif' font-weight="normal" font-size="25.00" fill="#000">16</text>
<text transform="translate(102.83,2069.18) scale(0.9700,1)" font-family='"Liberation Sans", Arial, sans-serif' font-weight="normal" font-size="25.00" fill="#000">5</text>
<line x1="120.8" y1="2204.3" x2="703" y2="2204.3" stroke="#000" stroke-width="2.6"/>
<line x1="185.6" y1="2204.3" x2="185.6" y2="2219.4" stroke="#000" stroke-width="2.2"/>
<text transform="translate(167.79,2243.94) scale(0.9700,1)" font-family='"Liberation Sans", Arial, sans-serif' font-weight="bold" font-size="24.20" fill="#000">6/9</text>
<line x1="278.4" y1="2204.3" x2="278.4" y2="2219.4" stroke="#000" stroke-width="2.2"/>
<text transform="translate(260.52,2243.94) scale(0.9700,1)" font-family='"Liberation Sans", Arial, sans-serif' font-weight="bold" font-size="24.20" fill="#000">7/9</text>
<line x1="371.5" y1="2204.3" x2="371.5" y2="2219.4" stroke="#000" stroke-width="2.2"/>
<text transform="translate(353.67,2243.94) scale(0.9700,1)" font-family='"Liberation Sans", Arial, sans-serif' font-weight="bold" font-size="24.20" fill="#000">8/8</text>
<line x1="463.8" y1="2204.3" x2="463.8" y2="2219.4" stroke="#000" stroke-width="2.2"/>
<text transform="translate(446.05,2243.94) scale(0.9700,1)" font-family='"Liberation Sans", Arial, sans-serif' font-weight="bold" font-size="24.20" fill="#000">8/9</text>
<line x1="557.2" y1="2204.3" x2="557.2" y2="2219.4" stroke="#000" stroke-width="2.2"/>
<text transform="translate(539.41,2243.94) scale(0.9700,1)" font-family='"Liberation Sans", Arial, sans-serif' font-weight="bold" font-size="24.20" fill="#000">9/9</text>
<line x1="649.6" y1="2204.3" x2="649.6" y2="2219.4" stroke="#000" stroke-width="2.2"/>
<text transform="translate(625.18,2243.94) scale(0.9700,1)" font-family='"Liberation Sans", Arial, sans-serif' font-weight="bold" font-size="24.20" fill="#000">9/11</text>
<rect x="188.7" y="2189.5" width="33.0" height="14.0" fill="#000"/>
<rect x="281" y="2189.5" width="32.5" height="14.0" fill="#000"/>
<path d="M336.6,2203.5 L336.6,2171.5 L367.0,2171.5 L367.0,2203.5" fill="none" stroke="#000" stroke-width="2.0"/>
<rect x="375.5" y="2135.0" width="33.1" height="68.5" fill="#000"/>
<path d="M431.0,2037.7 L431.0,1980.5 L460.9,1980.5 L460.9,2037.7" fill="none" stroke="#000" stroke-width="2.0"/>
<path d="M431.0,2064.5 L431.0,2203.5 M460.9,2064.5 L460.9,2203.5" fill="none" stroke="#000" stroke-width="2.0"/>
<rect x="467" y="1964.7" width="33.4" height="73.0" fill="#000"/>
<rect x="467" y="2064.5" width="33.4" height="139.0" fill="#000"/>
<path d="M523.0,1872.4 L523.0,1803.9 L553.0,1803.9 L553.0,1872.4" fill="none" stroke="#000" stroke-width="2.0"/>
<path d="M523.0,1896.7 L523.0,2037.7 M553.0,1896.7 L553.0,2037.7" fill="none" stroke="#000" stroke-width="2.0"/>
<path d="M523.0,2064.5 L523.0,2203.5 M553.0,2064.5 L553.0,2203.5" fill="none" stroke="#000" stroke-width="2.0"/>
<rect x="561.7" y="1816.2" width="32.3" height="56.2" fill="#000"/>
<rect x="561.7" y="1896.7" width="32.3" height="141.0" fill="#000"/>
<rect x="561.7" y="2064.5" width="32.3" height="139.0" fill="#000"/>
<rect x="653.7" y="2189.4" width="32.9" height="14.1" fill="#000"/>
<text transform="translate(211.83,2180.16) rotate(-90) scale(0.9940,1)" font-family='"Liberation Sans", Arial, sans-serif' font-weight="bold" font-size="24.50" fill="#000">0.6%</text>
<text transform="translate(305.93,2179.70) rotate(-90) scale(1.0327,1)" font-family='"Liberation Sans", Arial, sans-serif' font-weight="bold" font-size="24.50" fill="#000">0.6%</text>
<text transform="translate(357.26,2165.01) rotate(-90) scale(1.0419,1)" font-family='"Liberation Sans", Arial, sans-serif' font-weight="bold" font-size="24.50" fill="#000">1.2%</text>
<text transform="translate(398.23,2126.18) rotate(-90) scale(1.0304,1)" font-family='"Liberation Sans", Arial, sans-serif' font-weight="bold" font-size="24.50" fill="#000">2.5%</text>
<text transform="translate(452.23,1974.91) rotate(-90) scale(1.0404,1)" font-family='"Liberation Sans", Arial, sans-serif' font-weight="bold" font-size="24.50" fill="#000">19.4%</text>
<text transform="translate(491.43,1959.15) rotate(-90) scale(1.0048,1)" font-family='"Liberation Sans", Arial, sans-serif' font-weight="bold" font-size="24.50" fill="#000">20.1%</text>
<text transform="translate(544.83,1786.46) rotate(-90) scale(1.0093,1)" font-family='"Liberation Sans", Arial, sans-serif' font-weight="bold" font-size="24.50" fill="#000">79.4%</text>
<text transform="translate(584.40,1803.56) rotate(-90) scale(1.0108,1)" font-family='"Liberation Sans", Arial, sans-serif' font-weight="bold" font-size="24.50" fill="#000">75.5%</text>
<text transform="translate(678.43,2181.01) rotate(-90) scale(1.0401,1)" font-family='"Liberation Sans", Arial, sans-serif' font-weight="bold" font-size="24.50" fill="#000">0.6%</text>
<text transform="translate(57.49,2132.45) rotate(-90) scale(0.9652,1)" font-family='"Liberation Sans", Arial, sans-serif' font-weight="bold" font-size="28.97" fill="#000">Genotype Frequency (%)</text>
<line x1="859.5" y1="1698" x2="859.5" y2="1937.5" stroke="#000" stroke-width="2.5"/>
<line x1="859.5" y1="1966.5" x2="859.5" y2="2208" stroke="#000" stroke-width="2.5"/>
<line x1="850.6" y1="1950" x2="867" y2="1932.7" stroke="#000" stroke-width="1.8"/>
<line x1="853" y1="1973.4" x2="871" y2="1956" stroke="#000" stroke-width="1.8"/>
<line x1="845.5" y1="1699.0" x2="859.5" y2="1699.0" stroke="#000" stroke-width="2.2"/>
<line x1="845.5" y1="1747.4" x2="859.5" y2="1747.4" stroke="#000" stroke-width="2.2"/>
<line x1="845.5" y1="1795.8" x2="859.5" y2="1795.8" stroke="#000" stroke-width="2.2"/>
<line x1="845.5" y1="1844.2" x2="859.5" y2="1844.2" stroke="#000" stroke-width="2.2"/>
<line x1="845.5" y1="1892.6" x2="859.5" y2="1892.6" stroke="#000" stroke-width="2.2"/>
<line x1="845.5" y1="2015.34" x2="859.5" y2="2015.34" stroke="#000" stroke-width="2.2"/>
<line x1="845.5" y1="2063.13" x2="859.5" y2="2063.13" stroke="#000" stroke-width="2.2"/>
<line x1="845.5" y1="2110.92" x2="859.5" y2="2110.92" stroke="#000" stroke-width="2.2"/>
<line x1="845.5" y1="2158.71" x2="859.5" y2="2158.71" stroke="#000" stroke-width="2.2"/>
<line x1="845.5" y1="2206.5" x2="859.5" y2="2206.5" stroke="#000" stroke-width="2.2"/>
<text transform="translate(796.46,1706.75) scale(1.0300,1)" font-family='"Liberation Sans", Arial, sans-serif' font-weight="normal" font-size="26.30" fill="#000">100</text>
<text transform="translate(811.61,1755.15) scale(1.0300,1)" font-family='"Liberation Sans", Arial, sans-serif' font-weight="normal" font-size="26.30" fill="#000">95</text>
<text transform="translate(811.53,1803.55) scale(1.0300,1)" font-family='"Liberation Sans", Arial, sans-serif' font-weight="normal" font-size="26.30" fill="#000">90</text>
<text transform="translate(811.61,1851.95) scale(1.0300,1)" font-family='"Liberation Sans", Arial, sans-serif' font-weight="normal" font-size="26.30" fill="#000">85</text>
<text transform="translate(811.53,1900.35) scale(1.0300,1)" font-family='"Liberation Sans", Arial, sans-serif' font-weight="normal" font-size="26.30" fill="#000">80</text>
<text transform="translate(811.83,2023.22) scale(1.0300,1)" font-family='"Liberation Sans", Arial, sans-serif' font-weight="normal" font-size="26.30" fill="#000">12</text>
<text transform="translate(826.82,2070.88) scale(1.0300,1)" font-family='"Liberation Sans", Arial, sans-serif' font-weight="normal" font-size="26.30" fill="#000">9</text>
<text transform="translate(826.72,2118.67) scale(1.0300,1)" font-family='"Liberation Sans", Arial, sans-serif' font-weight="normal" font-size="26.30" fill="#000">6</text>
<text transform="translate(826.72,2166.46) scale(1.0300,1)" font-family='"Liberation Sans", Arial, sans-serif' font-weight="normal" font-size="26.30" fill="#000">3</text>
<text transform="translate(826.59,2214.25) scale(1.0300,1)" font-family='"Liberation Sans", Arial, sans-serif' font-weight="normal" font-size="26.30" fill="#000">0</text>
<text transform="translate(811.61,1945.12) scale(1.0300,1)" font-family='"Liberation Sans", Arial, sans-serif' font-weight="normal" font-size="26.30" fill="#000">75</text>
<text transform="translate(811.61,1977.12) scale(1.0300,1)" font-family='"Liberation Sans", Arial, sans-serif' font-weight="normal" font-size="26.30" fill="#000">15</text>
<line x1="845.5" y1="2206.4" x2="1470" y2="2206.4" stroke="#000" stroke-width="2.6"/>
<line x1="925.4" y1="2206.4" x2="925.4" y2="2221.2" stroke="#000" stroke-width="2.2"/>
<text transform="translate(916.23,2247.60) scale(0.9600,1)" font-family='"Liberation Sans", Arial, sans-serif' font-weight="normal" font-size="29.50" fill="#000">6</text>
<line x1="1044.2" y1="2206.4" x2="1044.2" y2="2221.2" stroke="#000" stroke-width="2.2"/>
<text transform="translate(1035.11,2247.30) scale(0.9600,1)" font-family='"Liberation Sans", Arial, sans-serif' font-weight="normal" font-size="29.50" fill="#000">7</text>
<line x1="1164" y1="2206.4" x2="1164" y2="2221.2" stroke="#000" stroke-width="2.2"/>
<text transform="translate(1154.92,2247.60) scale(0.9600,1)" font-family='"Liberation Sans", Arial, sans-serif' font-weight="normal" font-size="29.50" fill="#000">8</text>
<line x1="1282.1" y1="2206.4" x2="1282.1" y2="2221.2" stroke="#000" stroke-width="2.2"/>
<text transform="translate(1273.03,2247.60) scale(0.9600,1)" font-family='"Liberation Sans", Arial, sans-serif' font-weight="normal" font-size="29.50" fill="#000">9</text>
<line x1="1403" y1="2206.4" x2="1403" y2="2221.2" stroke="#000" stroke-width="2.2"/>
<text transform="translate(1385.66,2247.30) scale(0.9600,1)" font-family='"Liberation Sans", Arial, sans-serif' font-weight="normal" font-size="29.50" fill="#000">11</text>
<rect x="930" y="2201.0" width="41.9" height="4.5" fill="#000"/>
<rect x="1050" y="2201.0" width="40.0" height="4.5" fill="#000"/>
<path d="M1120.5,2205.5 L1120.5,2032.4 L1159.5,2032.4 L1159.5,2205.5" fill="none" stroke="#000" stroke-width="2.0"/>
<rect x="1167.8" y="2003.0" width="42.9" height="202.5" fill="#000"/>
<path d="M1239.0,1938.2 L1239.0,1806.3 L1278.4,1806.3 L1278.4,1938.2" fill="none" stroke="#000" stroke-width="2.0"/>
<path d="M1239.0,1967.9 L1239.0,2205.5 M1278.4,1967.9 L1278.4,2205.5" fill="none" stroke="#000" stroke-width="2.0"/>
<rect x="1287.8" y="1831.8" width="41.2" height="106.4" fill="#000"/>
<rect x="1287.8" y="1967.9" width="41.2" height="237.6" fill="#000"/>
<rect x="1406.3" y="2200.9" width="42.4" height="4.6" fill="#000"/>
<text transform="translate(959.26,2194.35) rotate(-90) scale(1.0365,1)" font-family='"Liberation Sans", Arial, sans-serif' font-weight="bold" font-size="25.50" fill="#000">0.3%</text>
<text transform="translate(1076.76,2195.04) rotate(-90) scale(1.0276,1)" font-family='"Liberation Sans", Arial, sans-serif' font-weight="bold" font-size="25.50" fill="#000">0.3%</text>
<text transform="translate(1144.78,2023.69) rotate(-90) scale(1.0266,1)" font-family='"Liberation Sans", Arial, sans-serif' font-weight="normal" font-size="25.50" fill="#000">10.9%</text>
<text transform="translate(1195.50,1993.01) rotate(-90) scale(1.0025,1)" font-family='"Liberation Sans", Arial, sans-serif' font-weight="bold" font-size="25.50" fill="#000">12.7%</text>
<text transform="translate(1268.08,1795.83) rotate(-90) scale(1.0307,1)" font-family='"Liberation Sans", Arial, sans-serif' font-weight="bold" font-size="25.50" fill="#000">89.1%</text>
<text transform="translate(1318.38,1820.83) rotate(-90) scale(1.0265,1)" font-family='"Liberation Sans", Arial, sans-serif' font-weight="bold" font-size="25.50" fill="#000">86.4%</text>
<text transform="translate(1431.96,2191.02) rotate(-90) scale(1.0099,1)" font-family='"Liberation Sans", Arial, sans-serif' font-weight="bold" font-size="25.50" fill="#000">0.3%</text>
<text transform="translate(779.19,2101.64) rotate(-90) scale(0.9078,1)" font-family='"Liberation Sans", Arial, sans-serif' font-weight="bold" font-size="32.83" fill="#000">Allele Frequency (%)</text>
<path d="M1476.6,1695.5 L1476.6,1676.2 L1515.5,1676.2 M1476.6,1692.7 L1513,1692.7 L1513,1676.2" fill="none" stroke="#000" stroke-width="2"/>
<rect x="1475.6" y="1722" width="38.4" height="18.6" fill="#000"/>
<path d="M1476.6,1740 L1476.6,1742.5 M1513,1722 L1515.5,1722" stroke="#000" stroke-width="2"/>
<text transform="translate(1532.75,1693.58) scale(0.9448,1)" font-family='"Liberation Sans", Arial, sans-serif' font-weight="normal" font-size="32.27" fill="#000">Control</text>
<text transform="translate(1531.77,1740.58) scale(0.9436,1)" font-family='"Liberation Sans", Arial, sans-serif' font-weight="normal" font-size="32.63" fill="#000">NCD</text>
</svg></body></html>
